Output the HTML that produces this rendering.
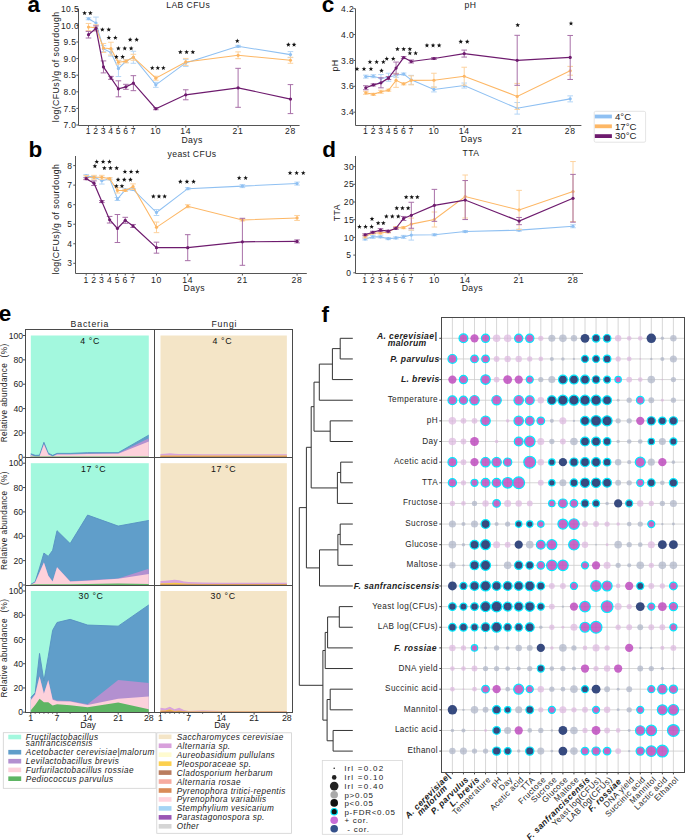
<!DOCTYPE html><html><head><meta charset="utf-8"><style>html,body{margin:0;padding:0;background:#fff;overflow:hidden}svg{display:block}</style></head><body>
<svg width="685" height="840" viewBox="0 0 685 840" font-family='"Liberation Sans", sans-serif'>
<rect width="685" height="840" fill="#fff"/>
<text x="27.50" y="11.60" font-size="22.5" text-anchor="start" font-weight="bold" font-style="normal" fill="#000" >a</text>
<text x="28.60" y="157.10" font-size="22.5" text-anchor="start" font-weight="bold" font-style="normal" fill="#000" >b</text>
<text x="321.80" y="12.20" font-size="22.5" text-anchor="start" font-weight="bold" font-style="normal" fill="#000" >c</text>
<text x="322.20" y="156.90" font-size="22.5" text-anchor="start" font-weight="bold" font-style="normal" fill="#000" >d</text>
<text x="-1.30" y="321.00" font-size="22.5" text-anchor="start" font-weight="bold" font-style="normal" fill="#000" >e</text>
<text x="321.60" y="321.80" font-size="22.5" text-anchor="start" font-weight="bold" font-style="normal" fill="#000" >f</text>
<line x1="78.50" y1="8.80" x2="78.50" y2="125.50" stroke="#555" stroke-width="1" />
<line x1="78.50" y1="125.50" x2="299.60" y2="125.50" stroke="#555" stroke-width="1" />
<line x1="76.30" y1="125.00" x2="78.50" y2="125.00" stroke="#555" stroke-width="1" />
<text x="70.00" y="128.10" font-size="8.5" text-anchor="middle" font-weight="normal" font-style="normal" fill="#222" letter-spacing="0.4">7.0</text>
<line x1="76.30" y1="108.40" x2="78.50" y2="108.40" stroke="#555" stroke-width="1" />
<text x="70.00" y="111.50" font-size="8.5" text-anchor="middle" font-weight="normal" font-style="normal" fill="#222" letter-spacing="0.4">7.5</text>
<line x1="76.30" y1="91.80" x2="78.50" y2="91.80" stroke="#555" stroke-width="1" />
<text x="70.00" y="94.90" font-size="8.5" text-anchor="middle" font-weight="normal" font-style="normal" fill="#222" letter-spacing="0.4">8.0</text>
<line x1="76.30" y1="75.20" x2="78.50" y2="75.20" stroke="#555" stroke-width="1" />
<text x="70.00" y="78.30" font-size="8.5" text-anchor="middle" font-weight="normal" font-style="normal" fill="#222" letter-spacing="0.4">8.5</text>
<line x1="76.30" y1="58.60" x2="78.50" y2="58.60" stroke="#555" stroke-width="1" />
<text x="70.00" y="61.70" font-size="8.5" text-anchor="middle" font-weight="normal" font-style="normal" fill="#222" letter-spacing="0.4">9.0</text>
<line x1="76.30" y1="42.00" x2="78.50" y2="42.00" stroke="#555" stroke-width="1" />
<text x="70.00" y="45.10" font-size="8.5" text-anchor="middle" font-weight="normal" font-style="normal" fill="#222" letter-spacing="0.4">9.5</text>
<line x1="76.30" y1="25.40" x2="78.50" y2="25.40" stroke="#555" stroke-width="1" />
<text x="70.00" y="28.50" font-size="8.5" text-anchor="middle" font-weight="normal" font-style="normal" fill="#222" letter-spacing="0.4">10.0</text>
<line x1="76.30" y1="8.80" x2="78.50" y2="8.80" stroke="#555" stroke-width="1" />
<text x="70.00" y="11.90" font-size="8.5" text-anchor="middle" font-weight="normal" font-style="normal" fill="#222" letter-spacing="0.4">10.5</text>
<line x1="88.50" y1="125.50" x2="88.50" y2="127.50" stroke="#555" stroke-width="1" />
<text x="88.50" y="134.40" font-size="8.6" text-anchor="middle" font-weight="normal" font-style="normal" fill="#222" letter-spacing="0.7">1</text>
<line x1="95.98" y1="125.50" x2="95.98" y2="127.50" stroke="#555" stroke-width="1" />
<text x="95.98" y="134.40" font-size="8.6" text-anchor="middle" font-weight="normal" font-style="normal" fill="#222" letter-spacing="0.7">2</text>
<line x1="103.46" y1="125.50" x2="103.46" y2="127.50" stroke="#555" stroke-width="1" />
<text x="103.46" y="134.40" font-size="8.6" text-anchor="middle" font-weight="normal" font-style="normal" fill="#222" letter-spacing="0.7">3</text>
<line x1="110.94" y1="125.50" x2="110.94" y2="127.50" stroke="#555" stroke-width="1" />
<text x="110.94" y="134.40" font-size="8.6" text-anchor="middle" font-weight="normal" font-style="normal" fill="#222" letter-spacing="0.7">4</text>
<line x1="118.42" y1="125.50" x2="118.42" y2="127.50" stroke="#555" stroke-width="1" />
<text x="118.42" y="134.40" font-size="8.6" text-anchor="middle" font-weight="normal" font-style="normal" fill="#222" letter-spacing="0.7">5</text>
<line x1="125.90" y1="125.50" x2="125.90" y2="127.50" stroke="#555" stroke-width="1" />
<text x="125.90" y="134.40" font-size="8.6" text-anchor="middle" font-weight="normal" font-style="normal" fill="#222" letter-spacing="0.7">6</text>
<line x1="133.38" y1="125.50" x2="133.38" y2="127.50" stroke="#555" stroke-width="1" />
<text x="133.38" y="134.40" font-size="8.6" text-anchor="middle" font-weight="normal" font-style="normal" fill="#222" letter-spacing="0.7">7</text>
<line x1="155.82" y1="125.50" x2="155.82" y2="127.50" stroke="#555" stroke-width="1" />
<text x="155.82" y="134.40" font-size="8.6" text-anchor="middle" font-weight="normal" font-style="normal" fill="#222" letter-spacing="0.7">10</text>
<line x1="185.74" y1="125.50" x2="185.74" y2="127.50" stroke="#555" stroke-width="1" />
<text x="185.74" y="134.40" font-size="8.6" text-anchor="middle" font-weight="normal" font-style="normal" fill="#222" letter-spacing="0.7">14</text>
<line x1="238.10" y1="125.50" x2="238.10" y2="127.50" stroke="#555" stroke-width="1" />
<text x="238.10" y="134.40" font-size="8.6" text-anchor="middle" font-weight="normal" font-style="normal" fill="#222" letter-spacing="0.7">21</text>
<line x1="290.46" y1="125.50" x2="290.46" y2="127.50" stroke="#555" stroke-width="1" />
<text x="290.46" y="134.40" font-size="8.6" text-anchor="middle" font-weight="normal" font-style="normal" fill="#222" letter-spacing="0.7">28</text>
<text x="192.15" y="142.60" font-size="8.7" text-anchor="middle" font-weight="normal" font-style="normal" fill="#222" letter-spacing="0.4">Days</text>
<text x="188.20" y="7.60" font-size="8.6" text-anchor="middle" font-weight="normal" font-style="normal" fill="#222" letter-spacing="0.4">LAB CFUs</text>
<text x="0" y="0" font-size="8.8" letter-spacing="0.4" text-anchor="middle" fill="#222" transform="translate(58.9,66.8) rotate(-90)">log(CFUs)/g of sourdough</text>
<line x1="88.50" y1="17.76" x2="88.50" y2="19.76" stroke="#B5D6F6" stroke-width="1" />
<line x1="85.70" y1="17.76" x2="91.30" y2="17.76" stroke="#B5D6F6" stroke-width="1" />
<line x1="85.70" y1="19.76" x2="91.30" y2="19.76" stroke="#B5D6F6" stroke-width="1" />
<line x1="95.98" y1="17.08" x2="95.98" y2="29.08" stroke="#B5D6F6" stroke-width="1" />
<line x1="93.18" y1="17.08" x2="98.78" y2="17.08" stroke="#B5D6F6" stroke-width="1" />
<line x1="93.18" y1="29.08" x2="98.78" y2="29.08" stroke="#B5D6F6" stroke-width="1" />
<line x1="103.46" y1="45.64" x2="103.46" y2="51.64" stroke="#B5D6F6" stroke-width="1" />
<line x1="100.66" y1="45.64" x2="106.26" y2="45.64" stroke="#B5D6F6" stroke-width="1" />
<line x1="100.66" y1="51.64" x2="106.26" y2="51.64" stroke="#B5D6F6" stroke-width="1" />
<line x1="110.94" y1="49.12" x2="110.94" y2="56.12" stroke="#B5D6F6" stroke-width="1" />
<line x1="108.14" y1="49.12" x2="113.74" y2="49.12" stroke="#B5D6F6" stroke-width="1" />
<line x1="108.14" y1="56.12" x2="113.74" y2="56.12" stroke="#B5D6F6" stroke-width="1" />
<line x1="118.42" y1="60.56" x2="118.42" y2="76.56" stroke="#B5D6F6" stroke-width="1" />
<line x1="115.62" y1="60.56" x2="121.22" y2="60.56" stroke="#B5D6F6" stroke-width="1" />
<line x1="115.62" y1="76.56" x2="121.22" y2="76.56" stroke="#B5D6F6" stroke-width="1" />
<line x1="125.90" y1="59.76" x2="125.90" y2="62.76" stroke="#B5D6F6" stroke-width="1" />
<line x1="123.10" y1="59.76" x2="128.70" y2="59.76" stroke="#B5D6F6" stroke-width="1" />
<line x1="123.10" y1="62.76" x2="128.70" y2="62.76" stroke="#B5D6F6" stroke-width="1" />
<line x1="133.38" y1="51.27" x2="133.38" y2="63.27" stroke="#B5D6F6" stroke-width="1" />
<line x1="130.58" y1="51.27" x2="136.18" y2="51.27" stroke="#B5D6F6" stroke-width="1" />
<line x1="130.58" y1="63.27" x2="136.18" y2="63.27" stroke="#B5D6F6" stroke-width="1" />
<line x1="155.82" y1="82.33" x2="155.82" y2="87.33" stroke="#B5D6F6" stroke-width="1" />
<line x1="153.02" y1="82.33" x2="158.62" y2="82.33" stroke="#B5D6F6" stroke-width="1" />
<line x1="153.02" y1="87.33" x2="158.62" y2="87.33" stroke="#B5D6F6" stroke-width="1" />
<line x1="185.74" y1="59.42" x2="185.74" y2="66.42" stroke="#B5D6F6" stroke-width="1" />
<line x1="182.94" y1="59.42" x2="188.54" y2="59.42" stroke="#B5D6F6" stroke-width="1" />
<line x1="182.94" y1="66.42" x2="188.54" y2="66.42" stroke="#B5D6F6" stroke-width="1" />
<line x1="238.10" y1="45.32" x2="238.10" y2="47.32" stroke="#B5D6F6" stroke-width="1" />
<line x1="235.30" y1="45.32" x2="240.90" y2="45.32" stroke="#B5D6F6" stroke-width="1" />
<line x1="235.30" y1="47.32" x2="240.90" y2="47.32" stroke="#B5D6F6" stroke-width="1" />
<line x1="290.46" y1="51.62" x2="290.46" y2="57.62" stroke="#B5D6F6" stroke-width="1" />
<line x1="287.66" y1="51.62" x2="293.26" y2="51.62" stroke="#B5D6F6" stroke-width="1" />
<line x1="287.66" y1="57.62" x2="293.26" y2="57.62" stroke="#B5D6F6" stroke-width="1" />
<polyline points="88.50,18.76 95.98,23.08 103.46,48.64 110.94,52.62 118.42,68.56 125.90,61.26 133.38,57.27 155.82,84.83 185.74,62.92 238.10,46.32 290.46,54.62" fill="none" stroke="#8FC0F2" stroke-width="1.05"/>
<circle cx="88.50" cy="18.76" r="1.6" fill="#8FC0F2"/>
<circle cx="95.98" cy="23.08" r="1.6" fill="#8FC0F2"/>
<circle cx="103.46" cy="48.64" r="1.6" fill="#8FC0F2"/>
<circle cx="110.94" cy="52.62" r="1.6" fill="#8FC0F2"/>
<circle cx="118.42" cy="68.56" r="1.6" fill="#8FC0F2"/>
<circle cx="125.90" cy="61.26" r="1.6" fill="#8FC0F2"/>
<circle cx="133.38" cy="57.27" r="1.6" fill="#8FC0F2"/>
<circle cx="155.82" cy="84.83" r="1.6" fill="#8FC0F2"/>
<circle cx="185.74" cy="62.92" r="1.6" fill="#8FC0F2"/>
<circle cx="238.10" cy="46.32" r="1.6" fill="#8FC0F2"/>
<circle cx="290.46" cy="54.62" r="1.6" fill="#8FC0F2"/>
<line x1="88.50" y1="23.46" x2="88.50" y2="30.66" stroke="#FDD29E" stroke-width="1" />
<line x1="85.70" y1="23.46" x2="91.30" y2="23.46" stroke="#FDD29E" stroke-width="1" />
<line x1="85.70" y1="30.66" x2="91.30" y2="30.66" stroke="#FDD29E" stroke-width="1" />
<line x1="95.98" y1="24.72" x2="95.98" y2="30.72" stroke="#FDD29E" stroke-width="1" />
<line x1="93.18" y1="24.72" x2="98.78" y2="24.72" stroke="#FDD29E" stroke-width="1" />
<line x1="93.18" y1="30.72" x2="98.78" y2="30.72" stroke="#FDD29E" stroke-width="1" />
<line x1="103.46" y1="43.48" x2="103.46" y2="52.48" stroke="#FDD29E" stroke-width="1" />
<line x1="100.66" y1="43.48" x2="106.26" y2="43.48" stroke="#FDD29E" stroke-width="1" />
<line x1="100.66" y1="52.48" x2="106.26" y2="52.48" stroke="#FDD29E" stroke-width="1" />
<line x1="110.94" y1="42.24" x2="110.94" y2="55.04" stroke="#FDD29E" stroke-width="1" />
<line x1="108.14" y1="42.24" x2="113.74" y2="42.24" stroke="#FDD29E" stroke-width="1" />
<line x1="108.14" y1="55.04" x2="113.74" y2="55.04" stroke="#FDD29E" stroke-width="1" />
<line x1="118.42" y1="60.25" x2="118.42" y2="64.25" stroke="#FDD29E" stroke-width="1" />
<line x1="115.62" y1="60.25" x2="121.22" y2="60.25" stroke="#FDD29E" stroke-width="1" />
<line x1="115.62" y1="64.25" x2="121.22" y2="64.25" stroke="#FDD29E" stroke-width="1" />
<line x1="125.90" y1="59.76" x2="125.90" y2="62.76" stroke="#FDD29E" stroke-width="1" />
<line x1="123.10" y1="59.76" x2="128.70" y2="59.76" stroke="#FDD29E" stroke-width="1" />
<line x1="123.10" y1="62.76" x2="128.70" y2="62.76" stroke="#FDD29E" stroke-width="1" />
<line x1="133.38" y1="54.27" x2="133.38" y2="60.27" stroke="#FDD29E" stroke-width="1" />
<line x1="130.58" y1="54.27" x2="136.18" y2="54.27" stroke="#FDD29E" stroke-width="1" />
<line x1="130.58" y1="60.27" x2="136.18" y2="60.27" stroke="#FDD29E" stroke-width="1" />
<line x1="155.82" y1="76.19" x2="155.82" y2="80.19" stroke="#FDD29E" stroke-width="1" />
<line x1="153.02" y1="76.19" x2="158.62" y2="76.19" stroke="#FDD29E" stroke-width="1" />
<line x1="153.02" y1="80.19" x2="158.62" y2="80.19" stroke="#FDD29E" stroke-width="1" />
<line x1="185.74" y1="58.42" x2="185.74" y2="65.42" stroke="#FDD29E" stroke-width="1" />
<line x1="182.94" y1="58.42" x2="188.54" y2="58.42" stroke="#FDD29E" stroke-width="1" />
<line x1="182.94" y1="65.42" x2="188.54" y2="65.42" stroke="#FDD29E" stroke-width="1" />
<line x1="238.10" y1="51.88" x2="238.10" y2="58.68" stroke="#FDD29E" stroke-width="1" />
<line x1="235.30" y1="51.88" x2="240.90" y2="51.88" stroke="#FDD29E" stroke-width="1" />
<line x1="235.30" y1="58.68" x2="240.90" y2="58.68" stroke="#FDD29E" stroke-width="1" />
<line x1="290.46" y1="57.26" x2="290.46" y2="63.26" stroke="#FDD29E" stroke-width="1" />
<line x1="287.66" y1="57.26" x2="293.26" y2="57.26" stroke="#FDD29E" stroke-width="1" />
<line x1="287.66" y1="63.26" x2="293.26" y2="63.26" stroke="#FDD29E" stroke-width="1" />
<polyline points="88.50,27.06 95.98,27.72 103.46,47.98 110.94,48.64 118.42,62.25 125.90,61.26 133.38,57.27 155.82,78.19 185.74,61.92 238.10,55.28 290.46,60.26" fill="none" stroke="#FDB765" stroke-width="1.05"/>
<circle cx="88.50" cy="27.06" r="1.6" fill="#FDB765"/>
<circle cx="95.98" cy="27.72" r="1.6" fill="#FDB765"/>
<circle cx="103.46" cy="47.98" r="1.6" fill="#FDB765"/>
<circle cx="110.94" cy="48.64" r="1.6" fill="#FDB765"/>
<circle cx="118.42" cy="62.25" r="1.6" fill="#FDB765"/>
<circle cx="125.90" cy="61.26" r="1.6" fill="#FDB765"/>
<circle cx="133.38" cy="57.27" r="1.6" fill="#FDB765"/>
<circle cx="155.82" cy="78.19" r="1.6" fill="#FDB765"/>
<circle cx="185.74" cy="61.92" r="1.6" fill="#FDB765"/>
<circle cx="238.10" cy="55.28" r="1.6" fill="#FDB765"/>
<circle cx="290.46" cy="60.26" r="1.6" fill="#FDB765"/>
<line x1="88.50" y1="31.40" x2="88.50" y2="38.00" stroke="#A870A8" stroke-width="1" />
<line x1="85.70" y1="31.40" x2="91.30" y2="31.40" stroke="#A870A8" stroke-width="1" />
<line x1="85.70" y1="38.00" x2="91.30" y2="38.00" stroke="#A870A8" stroke-width="1" />
<line x1="95.98" y1="25.89" x2="95.98" y2="30.89" stroke="#A870A8" stroke-width="1" />
<line x1="93.18" y1="25.89" x2="98.78" y2="25.89" stroke="#A870A8" stroke-width="1" />
<line x1="93.18" y1="30.89" x2="98.78" y2="30.89" stroke="#A870A8" stroke-width="1" />
<line x1="103.46" y1="60.90" x2="103.46" y2="72.90" stroke="#A870A8" stroke-width="1" />
<line x1="100.66" y1="60.90" x2="106.26" y2="60.90" stroke="#A870A8" stroke-width="1" />
<line x1="100.66" y1="72.90" x2="106.26" y2="72.90" stroke="#A870A8" stroke-width="1" />
<line x1="110.94" y1="76.36" x2="110.94" y2="79.36" stroke="#A870A8" stroke-width="1" />
<line x1="108.14" y1="76.36" x2="113.74" y2="76.36" stroke="#A870A8" stroke-width="1" />
<line x1="108.14" y1="79.36" x2="113.74" y2="79.36" stroke="#A870A8" stroke-width="1" />
<line x1="118.42" y1="80.81" x2="118.42" y2="96.81" stroke="#A870A8" stroke-width="1" />
<line x1="115.62" y1="80.81" x2="121.22" y2="80.81" stroke="#A870A8" stroke-width="1" />
<line x1="115.62" y1="96.81" x2="121.22" y2="96.81" stroke="#A870A8" stroke-width="1" />
<line x1="125.90" y1="84.32" x2="125.90" y2="89.32" stroke="#A870A8" stroke-width="1" />
<line x1="123.10" y1="84.32" x2="128.70" y2="84.32" stroke="#A870A8" stroke-width="1" />
<line x1="123.10" y1="89.32" x2="128.70" y2="89.32" stroke="#A870A8" stroke-width="1" />
<line x1="133.38" y1="75.67" x2="133.38" y2="90.67" stroke="#A870A8" stroke-width="1" />
<line x1="130.58" y1="75.67" x2="136.18" y2="75.67" stroke="#A870A8" stroke-width="1" />
<line x1="130.58" y1="90.67" x2="136.18" y2="90.67" stroke="#A870A8" stroke-width="1" />
<line x1="155.82" y1="107.73" x2="155.82" y2="109.73" stroke="#A870A8" stroke-width="1" />
<line x1="153.02" y1="107.73" x2="158.62" y2="107.73" stroke="#A870A8" stroke-width="1" />
<line x1="153.02" y1="109.73" x2="158.62" y2="109.73" stroke="#A870A8" stroke-width="1" />
<line x1="185.74" y1="89.79" x2="185.74" y2="99.79" stroke="#A870A8" stroke-width="1" />
<line x1="182.94" y1="89.79" x2="188.54" y2="89.79" stroke="#A870A8" stroke-width="1" />
<line x1="182.94" y1="99.79" x2="188.54" y2="99.79" stroke="#A870A8" stroke-width="1" />
<line x1="238.10" y1="68.32" x2="238.10" y2="107.32" stroke="#A870A8" stroke-width="1" />
<line x1="235.30" y1="68.32" x2="240.90" y2="68.32" stroke="#A870A8" stroke-width="1" />
<line x1="235.30" y1="107.32" x2="240.90" y2="107.32" stroke="#A870A8" stroke-width="1" />
<line x1="290.46" y1="84.60" x2="290.46" y2="113.60" stroke="#A870A8" stroke-width="1" />
<line x1="287.66" y1="84.60" x2="293.26" y2="84.60" stroke="#A870A8" stroke-width="1" />
<line x1="287.66" y1="113.60" x2="293.26" y2="113.60" stroke="#A870A8" stroke-width="1" />
<polyline points="88.50,34.70 95.98,28.39 103.46,66.90 110.94,77.86 118.42,88.81 125.90,86.82 133.38,83.17 155.82,108.73 185.74,94.79 238.10,87.82 290.46,99.10" fill="none" stroke="#6E1B6E" stroke-width="1.2"/>
<circle cx="88.50" cy="34.70" r="1.6" fill="#6E1B6E"/>
<circle cx="95.98" cy="28.39" r="1.6" fill="#6E1B6E"/>
<circle cx="103.46" cy="66.90" r="1.6" fill="#6E1B6E"/>
<circle cx="110.94" cy="77.86" r="1.6" fill="#6E1B6E"/>
<circle cx="118.42" cy="88.81" r="1.6" fill="#6E1B6E"/>
<circle cx="125.90" cy="86.82" r="1.6" fill="#6E1B6E"/>
<circle cx="133.38" cy="83.17" r="1.6" fill="#6E1B6E"/>
<circle cx="155.82" cy="108.73" r="1.6" fill="#6E1B6E"/>
<circle cx="185.74" cy="94.79" r="1.6" fill="#6E1B6E"/>
<circle cx="238.10" cy="87.82" r="1.6" fill="#6E1B6E"/>
<circle cx="290.46" cy="99.10" r="1.6" fill="#6E1B6E"/>
<polygon points="84.55,10.65 85.15,12.27 86.88,12.34 85.53,13.42 85.99,15.08 84.55,14.13 83.11,15.08 83.57,13.42 82.22,12.34 83.95,12.27" fill="#111"/>
<polygon points="90.35,10.65 90.95,12.27 92.68,12.34 91.33,13.42 91.79,15.08 90.35,14.13 88.91,15.08 89.37,13.42 88.02,12.34 89.75,12.27" fill="#111"/>
<polygon points="102.35,27.15 102.95,28.77 104.68,28.84 103.33,29.92 103.79,31.58 102.35,30.63 100.91,31.58 101.37,29.92 100.02,28.84 101.75,28.77" fill="#111"/>
<polygon points="108.75,27.15 109.35,28.77 111.08,28.84 109.73,29.92 110.19,31.58 108.75,30.63 107.31,31.58 107.77,29.92 106.42,28.84 108.15,28.77" fill="#111"/>
<polygon points="108.85,35.35 109.45,36.97 111.18,37.04 109.83,38.12 110.29,39.78 108.85,38.83 107.41,39.78 107.87,38.12 106.52,37.04 108.25,36.97" fill="#111"/>
<polygon points="115.35,35.35 115.95,36.97 117.68,37.04 116.33,38.12 116.79,39.78 115.35,38.83 113.91,39.78 114.37,38.12 113.02,37.04 114.75,36.97" fill="#111"/>
<polygon points="118.35,45.95 118.95,47.57 120.68,47.64 119.33,48.72 119.79,50.38 118.35,49.43 116.91,50.38 117.37,48.72 116.02,47.64 117.75,47.57" fill="#111"/>
<polygon points="124.75,45.95 125.35,47.57 127.08,47.64 125.73,48.72 126.19,50.38 124.75,49.43 123.31,50.38 123.77,48.72 122.42,47.64 124.15,47.57" fill="#111"/>
<polygon points="131.15,45.95 131.75,47.57 133.48,47.64 132.13,48.72 132.59,50.38 131.15,49.43 129.71,50.38 130.17,48.72 128.82,47.64 130.55,47.57" fill="#111"/>
<polygon points="116.35,54.45 116.95,56.07 118.68,56.14 117.33,57.22 117.79,58.88 116.35,57.93 114.91,58.88 115.37,57.22 114.02,56.14 115.75,56.07" fill="#111"/>
<polygon points="122.65,54.45 123.25,56.07 124.98,56.14 123.63,57.22 124.09,58.88 122.65,57.93 121.21,58.88 121.67,57.22 120.32,56.14 122.05,56.07" fill="#111"/>
<polygon points="130.15,37.25 130.75,38.87 132.48,38.94 131.13,40.02 131.59,41.68 130.15,40.73 128.71,41.68 129.17,40.02 127.82,38.94 129.55,38.87" fill="#111"/>
<polygon points="136.65,37.25 137.25,38.87 138.98,38.94 137.63,40.02 138.09,41.68 136.65,40.73 135.21,41.68 135.67,40.02 134.32,38.94 136.05,38.87" fill="#111"/>
<polygon points="152.25,65.55 152.85,67.17 154.58,67.24 153.23,68.32 153.69,69.98 152.25,69.03 150.81,69.98 151.27,68.32 149.92,67.24 151.65,67.17" fill="#111"/>
<polygon points="157.80,65.55 158.40,67.17 160.13,67.24 158.78,68.32 159.24,69.98 157.80,69.03 156.36,69.98 156.82,68.32 155.47,67.24 157.20,67.17" fill="#111"/>
<polygon points="163.35,65.55 163.95,67.17 165.68,67.24 164.33,68.32 164.79,69.98 163.35,69.03 161.91,69.98 162.37,68.32 161.02,67.24 162.75,67.17" fill="#111"/>
<polygon points="180.35,49.65 180.95,51.27 182.68,51.34 181.33,52.42 181.79,54.08 180.35,53.13 178.91,54.08 179.37,52.42 178.02,51.34 179.75,51.27" fill="#111"/>
<polygon points="186.60,49.65 187.20,51.27 188.93,51.34 187.58,52.42 188.04,54.08 186.60,53.13 185.16,54.08 185.62,52.42 184.27,51.34 186.00,51.27" fill="#111"/>
<polygon points="192.85,49.65 193.45,51.27 195.18,51.34 193.83,52.42 194.29,54.08 192.85,53.13 191.41,54.08 191.87,52.42 190.52,51.34 192.25,51.27" fill="#111"/>
<polygon points="237.30,38.55 237.90,40.17 239.63,40.24 238.28,41.32 238.74,42.98 237.30,42.03 235.86,42.98 236.32,41.32 234.97,40.24 236.70,40.17" fill="#111"/>
<polygon points="288.35,42.25 288.95,43.87 290.68,43.94 289.33,45.02 289.79,46.68 288.35,45.73 286.91,46.68 287.37,45.02 286.02,43.94 287.75,43.87" fill="#111"/>
<polygon points="294.05,42.25 294.65,43.87 296.38,43.94 295.03,45.02 295.49,46.68 294.05,45.73 292.61,46.68 293.07,45.02 291.72,43.94 293.45,43.87" fill="#111"/>
<line x1="75.50" y1="156.00" x2="75.50" y2="273.50" stroke="#555" stroke-width="1" />
<line x1="75.50" y1="273.50" x2="306.80" y2="273.50" stroke="#555" stroke-width="1" />
<line x1="73.30" y1="263.30" x2="75.50" y2="263.30" stroke="#555" stroke-width="1" />
<text x="69.80" y="266.40" font-size="8.5" text-anchor="middle" font-weight="normal" font-style="normal" fill="#222" letter-spacing="0.4">3</text>
<line x1="73.30" y1="243.76" x2="75.50" y2="243.76" stroke="#555" stroke-width="1" />
<text x="69.80" y="246.86" font-size="8.5" text-anchor="middle" font-weight="normal" font-style="normal" fill="#222" letter-spacing="0.4">4</text>
<line x1="73.30" y1="224.22" x2="75.50" y2="224.22" stroke="#555" stroke-width="1" />
<text x="69.80" y="227.32" font-size="8.5" text-anchor="middle" font-weight="normal" font-style="normal" fill="#222" letter-spacing="0.4">5</text>
<line x1="73.30" y1="204.68" x2="75.50" y2="204.68" stroke="#555" stroke-width="1" />
<text x="69.80" y="207.78" font-size="8.5" text-anchor="middle" font-weight="normal" font-style="normal" fill="#222" letter-spacing="0.4">6</text>
<line x1="73.30" y1="185.14" x2="75.50" y2="185.14" stroke="#555" stroke-width="1" />
<text x="69.80" y="188.24" font-size="8.5" text-anchor="middle" font-weight="normal" font-style="normal" fill="#222" letter-spacing="0.4">7</text>
<line x1="73.30" y1="165.60" x2="75.50" y2="165.60" stroke="#555" stroke-width="1" />
<text x="69.80" y="168.70" font-size="8.5" text-anchor="middle" font-weight="normal" font-style="normal" fill="#222" letter-spacing="0.4">8</text>
<line x1="86.20" y1="273.50" x2="86.20" y2="275.50" stroke="#555" stroke-width="1" />
<text x="86.20" y="282.70" font-size="8.6" text-anchor="middle" font-weight="normal" font-style="normal" fill="#222" letter-spacing="0.7">1</text>
<line x1="94.01" y1="273.50" x2="94.01" y2="275.50" stroke="#555" stroke-width="1" />
<text x="94.01" y="282.70" font-size="8.6" text-anchor="middle" font-weight="normal" font-style="normal" fill="#222" letter-spacing="0.7">2</text>
<line x1="101.82" y1="273.50" x2="101.82" y2="275.50" stroke="#555" stroke-width="1" />
<text x="101.82" y="282.70" font-size="8.6" text-anchor="middle" font-weight="normal" font-style="normal" fill="#222" letter-spacing="0.7">3</text>
<line x1="109.63" y1="273.50" x2="109.63" y2="275.50" stroke="#555" stroke-width="1" />
<text x="109.63" y="282.70" font-size="8.6" text-anchor="middle" font-weight="normal" font-style="normal" fill="#222" letter-spacing="0.7">4</text>
<line x1="117.44" y1="273.50" x2="117.44" y2="275.50" stroke="#555" stroke-width="1" />
<text x="117.44" y="282.70" font-size="8.6" text-anchor="middle" font-weight="normal" font-style="normal" fill="#222" letter-spacing="0.7">5</text>
<line x1="125.25" y1="273.50" x2="125.25" y2="275.50" stroke="#555" stroke-width="1" />
<text x="125.25" y="282.70" font-size="8.6" text-anchor="middle" font-weight="normal" font-style="normal" fill="#222" letter-spacing="0.7">6</text>
<line x1="133.06" y1="273.50" x2="133.06" y2="275.50" stroke="#555" stroke-width="1" />
<text x="133.06" y="282.70" font-size="8.6" text-anchor="middle" font-weight="normal" font-style="normal" fill="#222" letter-spacing="0.7">7</text>
<line x1="156.49" y1="273.50" x2="156.49" y2="275.50" stroke="#555" stroke-width="1" />
<text x="156.49" y="282.70" font-size="8.6" text-anchor="middle" font-weight="normal" font-style="normal" fill="#222" letter-spacing="0.7">10</text>
<line x1="187.73" y1="273.50" x2="187.73" y2="275.50" stroke="#555" stroke-width="1" />
<text x="187.73" y="282.70" font-size="8.6" text-anchor="middle" font-weight="normal" font-style="normal" fill="#222" letter-spacing="0.7">14</text>
<line x1="242.40" y1="273.50" x2="242.40" y2="275.50" stroke="#555" stroke-width="1" />
<text x="242.40" y="282.70" font-size="8.6" text-anchor="middle" font-weight="normal" font-style="normal" fill="#222" letter-spacing="0.7">21</text>
<line x1="297.07" y1="273.50" x2="297.07" y2="275.50" stroke="#555" stroke-width="1" />
<text x="297.07" y="282.70" font-size="8.6" text-anchor="middle" font-weight="normal" font-style="normal" fill="#222" letter-spacing="0.7">28</text>
<text x="194.25" y="291.20" font-size="8.7" text-anchor="middle" font-weight="normal" font-style="normal" fill="#222" letter-spacing="0.4">Days</text>
<text x="192.00" y="156.80" font-size="8.6" text-anchor="middle" font-weight="normal" font-style="normal" fill="#222" letter-spacing="0.4">yeast CFUs</text>
<text x="0" y="0" font-size="8.8" letter-spacing="0.4" text-anchor="middle" fill="#222" transform="translate(58.9,219) rotate(-90)">log(CFUs)/g of sourdough</text>
<line x1="86.20" y1="174.66" x2="86.20" y2="177.26" stroke="#B5D6F6" stroke-width="1" />
<line x1="83.40" y1="174.66" x2="89.00" y2="174.66" stroke="#B5D6F6" stroke-width="1" />
<line x1="83.40" y1="177.26" x2="89.00" y2="177.26" stroke="#B5D6F6" stroke-width="1" />
<line x1="94.01" y1="176.13" x2="94.01" y2="178.13" stroke="#B5D6F6" stroke-width="1" />
<line x1="91.21" y1="176.13" x2="96.81" y2="176.13" stroke="#B5D6F6" stroke-width="1" />
<line x1="91.21" y1="178.13" x2="96.81" y2="178.13" stroke="#B5D6F6" stroke-width="1" />
<line x1="101.82" y1="177.25" x2="101.82" y2="184.05" stroke="#B5D6F6" stroke-width="1" />
<line x1="99.02" y1="177.25" x2="104.62" y2="177.25" stroke="#B5D6F6" stroke-width="1" />
<line x1="99.02" y1="184.05" x2="104.62" y2="184.05" stroke="#B5D6F6" stroke-width="1" />
<line x1="109.63" y1="177.89" x2="109.63" y2="179.89" stroke="#B5D6F6" stroke-width="1" />
<line x1="106.83" y1="177.89" x2="112.43" y2="177.89" stroke="#B5D6F6" stroke-width="1" />
<line x1="106.83" y1="179.89" x2="112.43" y2="179.89" stroke="#B5D6F6" stroke-width="1" />
<line x1="117.44" y1="197.51" x2="117.44" y2="200.51" stroke="#B5D6F6" stroke-width="1" />
<line x1="114.64" y1="197.51" x2="120.24" y2="197.51" stroke="#B5D6F6" stroke-width="1" />
<line x1="114.64" y1="200.51" x2="120.24" y2="200.51" stroke="#B5D6F6" stroke-width="1" />
<line x1="125.25" y1="188.83" x2="125.25" y2="190.83" stroke="#B5D6F6" stroke-width="1" />
<line x1="122.45" y1="188.83" x2="128.05" y2="188.83" stroke="#B5D6F6" stroke-width="1" />
<line x1="122.45" y1="190.83" x2="128.05" y2="190.83" stroke="#B5D6F6" stroke-width="1" />
<line x1="133.06" y1="188.44" x2="133.06" y2="190.44" stroke="#B5D6F6" stroke-width="1" />
<line x1="130.26" y1="188.44" x2="135.86" y2="188.44" stroke="#B5D6F6" stroke-width="1" />
<line x1="130.26" y1="190.44" x2="135.86" y2="190.44" stroke="#B5D6F6" stroke-width="1" />
<line x1="156.49" y1="209.50" x2="156.49" y2="215.50" stroke="#B5D6F6" stroke-width="1" />
<line x1="153.69" y1="209.50" x2="159.29" y2="209.50" stroke="#B5D6F6" stroke-width="1" />
<line x1="153.69" y1="215.50" x2="159.29" y2="215.50" stroke="#B5D6F6" stroke-width="1" />
<line x1="187.73" y1="187.66" x2="187.73" y2="189.66" stroke="#B5D6F6" stroke-width="1" />
<line x1="184.93" y1="187.66" x2="190.53" y2="187.66" stroke="#B5D6F6" stroke-width="1" />
<line x1="184.93" y1="189.66" x2="190.53" y2="189.66" stroke="#B5D6F6" stroke-width="1" />
<line x1="242.40" y1="184.62" x2="242.40" y2="187.62" stroke="#B5D6F6" stroke-width="1" />
<line x1="239.60" y1="184.62" x2="245.20" y2="184.62" stroke="#B5D6F6" stroke-width="1" />
<line x1="239.60" y1="187.62" x2="245.20" y2="187.62" stroke="#B5D6F6" stroke-width="1" />
<line x1="297.07" y1="182.08" x2="297.07" y2="185.08" stroke="#B5D6F6" stroke-width="1" />
<line x1="294.27" y1="182.08" x2="299.87" y2="182.08" stroke="#B5D6F6" stroke-width="1" />
<line x1="294.27" y1="185.08" x2="299.87" y2="185.08" stroke="#B5D6F6" stroke-width="1" />
<polyline points="86.20,175.96 94.01,177.13 101.82,180.65 109.63,178.89 117.44,199.01 125.25,189.83 133.06,189.44 156.49,212.50 187.73,188.66 242.40,186.12 297.07,183.58" fill="none" stroke="#8FC0F2" stroke-width="1.05"/>
<circle cx="86.20" cy="175.96" r="1.6" fill="#8FC0F2"/>
<circle cx="94.01" cy="177.13" r="1.6" fill="#8FC0F2"/>
<circle cx="101.82" cy="180.65" r="1.6" fill="#8FC0F2"/>
<circle cx="109.63" cy="178.89" r="1.6" fill="#8FC0F2"/>
<circle cx="117.44" cy="199.01" r="1.6" fill="#8FC0F2"/>
<circle cx="125.25" cy="189.83" r="1.6" fill="#8FC0F2"/>
<circle cx="133.06" cy="189.44" r="1.6" fill="#8FC0F2"/>
<circle cx="156.49" cy="212.50" r="1.6" fill="#8FC0F2"/>
<circle cx="187.73" cy="188.66" r="1.6" fill="#8FC0F2"/>
<circle cx="242.40" cy="186.12" r="1.6" fill="#8FC0F2"/>
<circle cx="297.07" cy="183.58" r="1.6" fill="#8FC0F2"/>
<line x1="86.20" y1="175.52" x2="86.20" y2="179.52" stroke="#FDD29E" stroke-width="1" />
<line x1="83.40" y1="175.52" x2="89.00" y2="175.52" stroke="#FDD29E" stroke-width="1" />
<line x1="83.40" y1="179.52" x2="89.00" y2="179.52" stroke="#FDD29E" stroke-width="1" />
<line x1="94.01" y1="175.32" x2="94.01" y2="179.32" stroke="#FDD29E" stroke-width="1" />
<line x1="91.21" y1="175.32" x2="96.81" y2="175.32" stroke="#FDD29E" stroke-width="1" />
<line x1="91.21" y1="179.32" x2="96.81" y2="179.32" stroke="#FDD29E" stroke-width="1" />
<line x1="101.82" y1="175.32" x2="101.82" y2="179.32" stroke="#FDD29E" stroke-width="1" />
<line x1="99.02" y1="175.32" x2="104.62" y2="175.32" stroke="#FDD29E" stroke-width="1" />
<line x1="99.02" y1="179.32" x2="104.62" y2="179.32" stroke="#FDD29E" stroke-width="1" />
<line x1="109.63" y1="177.69" x2="109.63" y2="179.69" stroke="#FDD29E" stroke-width="1" />
<line x1="106.83" y1="177.69" x2="112.43" y2="177.69" stroke="#FDD29E" stroke-width="1" />
<line x1="106.83" y1="179.69" x2="112.43" y2="179.69" stroke="#FDD29E" stroke-width="1" />
<line x1="117.44" y1="187.82" x2="117.44" y2="193.02" stroke="#FDD29E" stroke-width="1" />
<line x1="114.64" y1="187.82" x2="120.24" y2="187.82" stroke="#FDD29E" stroke-width="1" />
<line x1="114.64" y1="193.02" x2="120.24" y2="193.02" stroke="#FDD29E" stroke-width="1" />
<line x1="125.25" y1="189.42" x2="125.25" y2="191.42" stroke="#FDD29E" stroke-width="1" />
<line x1="122.45" y1="189.42" x2="128.05" y2="189.42" stroke="#FDD29E" stroke-width="1" />
<line x1="122.45" y1="191.42" x2="128.05" y2="191.42" stroke="#FDD29E" stroke-width="1" />
<line x1="133.06" y1="183.90" x2="133.06" y2="189.50" stroke="#FDD29E" stroke-width="1" />
<line x1="130.26" y1="183.90" x2="135.86" y2="183.90" stroke="#FDD29E" stroke-width="1" />
<line x1="130.26" y1="189.50" x2="135.86" y2="189.50" stroke="#FDD29E" stroke-width="1" />
<line x1="156.49" y1="222.05" x2="156.49" y2="232.65" stroke="#FDD29E" stroke-width="1" />
<line x1="153.69" y1="222.05" x2="159.29" y2="222.05" stroke="#FDD29E" stroke-width="1" />
<line x1="153.69" y1="232.65" x2="159.29" y2="232.65" stroke="#FDD29E" stroke-width="1" />
<line x1="187.73" y1="204.74" x2="187.73" y2="207.74" stroke="#FDD29E" stroke-width="1" />
<line x1="184.93" y1="204.74" x2="190.53" y2="204.74" stroke="#FDD29E" stroke-width="1" />
<line x1="184.93" y1="207.74" x2="190.53" y2="207.74" stroke="#FDD29E" stroke-width="1" />
<line x1="242.40" y1="218.92" x2="242.40" y2="220.92" stroke="#FDD29E" stroke-width="1" />
<line x1="239.60" y1="218.92" x2="245.20" y2="218.92" stroke="#FDD29E" stroke-width="1" />
<line x1="239.60" y1="220.92" x2="245.20" y2="220.92" stroke="#FDD29E" stroke-width="1" />
<line x1="297.07" y1="215.47" x2="297.07" y2="220.47" stroke="#FDD29E" stroke-width="1" />
<line x1="294.27" y1="215.47" x2="299.87" y2="215.47" stroke="#FDD29E" stroke-width="1" />
<line x1="294.27" y1="220.47" x2="299.87" y2="220.47" stroke="#FDD29E" stroke-width="1" />
<polyline points="86.20,177.52 94.01,177.32 101.82,177.32 109.63,178.69 117.44,190.42 125.25,190.42 133.06,186.70 156.49,227.35 187.73,206.24 242.40,219.92 297.07,217.97" fill="none" stroke="#FDB765" stroke-width="1.05"/>
<circle cx="86.20" cy="177.52" r="1.6" fill="#FDB765"/>
<circle cx="94.01" cy="177.32" r="1.6" fill="#FDB765"/>
<circle cx="101.82" cy="177.32" r="1.6" fill="#FDB765"/>
<circle cx="109.63" cy="178.69" r="1.6" fill="#FDB765"/>
<circle cx="117.44" cy="190.42" r="1.6" fill="#FDB765"/>
<circle cx="125.25" cy="190.42" r="1.6" fill="#FDB765"/>
<circle cx="133.06" cy="186.70" r="1.6" fill="#FDB765"/>
<circle cx="156.49" cy="227.35" r="1.6" fill="#FDB765"/>
<circle cx="187.73" cy="206.24" r="1.6" fill="#FDB765"/>
<circle cx="242.40" cy="219.92" r="1.6" fill="#FDB765"/>
<circle cx="297.07" cy="217.97" r="1.6" fill="#FDB765"/>
<line x1="86.20" y1="177.69" x2="86.20" y2="179.69" stroke="#A870A8" stroke-width="1" />
<line x1="83.40" y1="177.69" x2="89.00" y2="177.69" stroke="#A870A8" stroke-width="1" />
<line x1="83.40" y1="179.69" x2="89.00" y2="179.69" stroke="#A870A8" stroke-width="1" />
<line x1="94.01" y1="180.89" x2="94.01" y2="185.49" stroke="#A870A8" stroke-width="1" />
<line x1="91.21" y1="180.89" x2="96.81" y2="180.89" stroke="#A870A8" stroke-width="1" />
<line x1="91.21" y1="185.49" x2="96.81" y2="185.49" stroke="#A870A8" stroke-width="1" />
<line x1="101.82" y1="200.55" x2="101.82" y2="202.55" stroke="#A870A8" stroke-width="1" />
<line x1="99.02" y1="200.55" x2="104.62" y2="200.55" stroke="#A870A8" stroke-width="1" />
<line x1="99.02" y1="202.55" x2="104.62" y2="202.55" stroke="#A870A8" stroke-width="1" />
<line x1="109.63" y1="216.43" x2="109.63" y2="223.03" stroke="#A870A8" stroke-width="1" />
<line x1="106.83" y1="216.43" x2="112.43" y2="216.43" stroke="#A870A8" stroke-width="1" />
<line x1="106.83" y1="223.03" x2="112.43" y2="223.03" stroke="#A870A8" stroke-width="1" />
<line x1="117.44" y1="214.52" x2="117.44" y2="242.52" stroke="#A870A8" stroke-width="1" />
<line x1="114.64" y1="214.52" x2="120.24" y2="214.52" stroke="#A870A8" stroke-width="1" />
<line x1="114.64" y1="242.52" x2="120.24" y2="242.52" stroke="#A870A8" stroke-width="1" />
<line x1="125.25" y1="217.31" x2="125.25" y2="223.31" stroke="#A870A8" stroke-width="1" />
<line x1="122.45" y1="217.31" x2="128.05" y2="217.31" stroke="#A870A8" stroke-width="1" />
<line x1="122.45" y1="223.31" x2="128.05" y2="223.31" stroke="#A870A8" stroke-width="1" />
<line x1="133.06" y1="224.48" x2="133.06" y2="227.48" stroke="#A870A8" stroke-width="1" />
<line x1="130.26" y1="224.48" x2="135.86" y2="224.48" stroke="#A870A8" stroke-width="1" />
<line x1="130.26" y1="227.48" x2="135.86" y2="227.48" stroke="#A870A8" stroke-width="1" />
<line x1="156.49" y1="242.17" x2="156.49" y2="253.17" stroke="#A870A8" stroke-width="1" />
<line x1="153.69" y1="242.17" x2="159.29" y2="242.17" stroke="#A870A8" stroke-width="1" />
<line x1="153.69" y1="253.17" x2="159.29" y2="253.17" stroke="#A870A8" stroke-width="1" />
<line x1="187.73" y1="234.67" x2="187.73" y2="260.67" stroke="#A870A8" stroke-width="1" />
<line x1="184.93" y1="234.67" x2="190.53" y2="234.67" stroke="#A870A8" stroke-width="1" />
<line x1="184.93" y1="260.67" x2="190.53" y2="260.67" stroke="#A870A8" stroke-width="1" />
<line x1="242.40" y1="218.31" x2="242.40" y2="265.31" stroke="#A870A8" stroke-width="1" />
<line x1="239.60" y1="218.31" x2="245.20" y2="218.31" stroke="#A870A8" stroke-width="1" />
<line x1="239.60" y1="265.31" x2="245.20" y2="265.31" stroke="#A870A8" stroke-width="1" />
<line x1="297.07" y1="239.92" x2="297.07" y2="242.92" stroke="#A870A8" stroke-width="1" />
<line x1="294.27" y1="239.92" x2="299.87" y2="239.92" stroke="#A870A8" stroke-width="1" />
<line x1="294.27" y1="242.92" x2="299.87" y2="242.92" stroke="#A870A8" stroke-width="1" />
<polyline points="86.20,178.69 94.01,183.19 101.82,201.55 109.63,219.73 117.44,228.52 125.25,220.31 133.06,225.98 156.49,247.67 187.73,247.67 242.40,241.81 297.07,241.42" fill="none" stroke="#6E1B6E" stroke-width="1.2"/>
<circle cx="86.20" cy="178.69" r="1.6" fill="#6E1B6E"/>
<circle cx="94.01" cy="183.19" r="1.6" fill="#6E1B6E"/>
<circle cx="101.82" cy="201.55" r="1.6" fill="#6E1B6E"/>
<circle cx="109.63" cy="219.73" r="1.6" fill="#6E1B6E"/>
<circle cx="117.44" cy="228.52" r="1.6" fill="#6E1B6E"/>
<circle cx="125.25" cy="220.31" r="1.6" fill="#6E1B6E"/>
<circle cx="133.06" cy="225.98" r="1.6" fill="#6E1B6E"/>
<circle cx="156.49" cy="247.67" r="1.6" fill="#6E1B6E"/>
<circle cx="187.73" cy="247.67" r="1.6" fill="#6E1B6E"/>
<circle cx="242.40" cy="241.81" r="1.6" fill="#6E1B6E"/>
<circle cx="297.07" cy="241.42" r="1.6" fill="#6E1B6E"/>
<polygon points="96.75,159.35 97.35,160.97 99.08,161.04 97.73,162.12 98.19,163.78 96.75,162.83 95.31,163.78 95.77,162.12 94.42,161.04 96.15,160.97" fill="#111"/>
<polygon points="103.10,159.35 103.70,160.97 105.43,161.04 104.08,162.12 104.54,163.78 103.10,162.83 101.66,163.78 102.12,162.12 100.77,161.04 102.50,160.97" fill="#111"/>
<polygon points="109.45,159.35 110.05,160.97 111.78,161.04 110.43,162.12 110.89,163.78 109.45,162.83 108.01,163.78 108.47,162.12 107.12,161.04 108.85,160.97" fill="#111"/>
<polygon points="94.90,163.75 95.50,165.37 97.23,165.44 95.88,166.52 96.34,168.18 94.90,167.23 93.46,168.18 93.92,166.52 92.57,165.44 94.30,165.37" fill="#111"/>
<polygon points="104.35,165.65 104.95,167.27 106.68,167.34 105.33,168.42 105.79,170.08 104.35,169.13 102.91,170.08 103.37,168.42 102.02,167.34 103.75,167.27" fill="#111"/>
<polygon points="110.50,165.65 111.10,167.27 112.83,167.34 111.48,168.42 111.94,170.08 110.50,169.13 109.06,170.08 109.52,168.42 108.17,167.34 109.90,167.27" fill="#111"/>
<polygon points="116.65,165.65 117.25,167.27 118.98,167.34 117.63,168.42 118.09,170.08 116.65,169.13 115.21,170.08 115.67,168.42 114.32,167.34 116.05,167.27" fill="#111"/>
<polygon points="124.95,169.35 125.55,170.97 127.28,171.04 125.93,172.12 126.39,173.78 124.95,172.83 123.51,173.78 123.97,172.12 122.62,171.04 124.35,170.97" fill="#111"/>
<polygon points="131.10,169.35 131.70,170.97 133.43,171.04 132.08,172.12 132.54,173.78 131.10,172.83 129.66,173.78 130.12,172.12 128.77,171.04 130.50,170.97" fill="#111"/>
<polygon points="137.25,169.35 137.85,170.97 139.58,171.04 138.23,172.12 138.69,173.78 137.25,172.83 135.81,173.78 136.27,172.12 134.92,171.04 136.65,170.97" fill="#111"/>
<polygon points="118.05,177.25 118.65,178.87 120.38,178.94 119.03,180.02 119.49,181.68 118.05,180.73 116.61,181.68 117.07,180.02 115.72,178.94 117.45,178.87" fill="#111"/>
<polygon points="124.25,177.25 124.85,178.87 126.58,178.94 125.23,180.02 125.69,181.68 124.25,180.73 122.81,181.68 123.27,180.02 121.92,178.94 123.65,178.87" fill="#111"/>
<polygon points="130.45,177.25 131.05,178.87 132.78,178.94 131.43,180.02 131.89,181.68 130.45,180.73 129.01,181.68 129.47,180.02 128.12,178.94 129.85,178.87" fill="#111"/>
<polygon points="116.35,183.65 116.95,185.27 118.68,185.34 117.33,186.42 117.79,188.08 116.35,187.13 114.91,188.08 115.37,186.42 114.02,185.34 115.75,185.27" fill="#111"/>
<polygon points="121.95,183.65 122.55,185.27 124.28,185.34 122.93,186.42 123.39,188.08 121.95,187.13 120.51,188.08 120.97,186.42 119.62,185.34 121.35,185.27" fill="#111"/>
<polygon points="153.35,193.95 153.95,195.57 155.68,195.64 154.33,196.72 154.79,198.38 153.35,197.43 151.91,198.38 152.37,196.72 151.02,195.64 152.75,195.57" fill="#111"/>
<polygon points="159.00,193.95 159.60,195.57 161.33,195.64 159.98,196.72 160.44,198.38 159.00,197.43 157.56,198.38 158.02,196.72 156.67,195.64 158.40,195.57" fill="#111"/>
<polygon points="164.65,193.95 165.25,195.57 166.98,195.64 165.63,196.72 166.09,198.38 164.65,197.43 163.21,198.38 163.67,196.72 162.32,195.64 164.05,195.57" fill="#111"/>
<polygon points="180.35,179.25 180.95,180.87 182.68,180.94 181.33,182.02 181.79,183.68 180.35,182.73 178.91,183.68 179.37,182.02 178.02,180.94 179.75,180.87" fill="#111"/>
<polygon points="186.95,179.25 187.55,180.87 189.28,180.94 187.93,182.02 188.39,183.68 186.95,182.73 185.51,183.68 185.97,182.02 184.62,180.94 186.35,180.87" fill="#111"/>
<polygon points="193.55,179.25 194.15,180.87 195.88,180.94 194.53,182.02 194.99,183.68 193.55,182.73 192.11,183.68 192.57,182.02 191.22,180.94 192.95,180.87" fill="#111"/>
<polygon points="239.15,175.55 239.75,177.17 241.48,177.24 240.13,178.32 240.59,179.98 239.15,179.03 237.71,179.98 238.17,178.32 236.82,177.24 238.55,177.17" fill="#111"/>
<polygon points="245.65,175.55 246.25,177.17 247.98,177.24 246.63,178.32 247.09,179.98 245.65,179.03 244.21,179.98 244.67,178.32 243.32,177.24 245.05,177.17" fill="#111"/>
<polygon points="290.05,170.55 290.65,172.17 292.38,172.24 291.03,173.32 291.49,174.98 290.05,174.03 288.61,174.98 289.07,173.32 287.72,172.24 289.45,172.17" fill="#111"/>
<polygon points="296.65,170.55 297.25,172.17 298.98,172.24 297.63,173.32 298.09,174.98 296.65,174.03 295.21,174.98 295.67,173.32 294.32,172.24 296.05,172.17" fill="#111"/>
<polygon points="303.25,170.55 303.85,172.17 305.58,172.24 304.23,173.32 304.69,174.98 303.25,174.03 301.81,174.98 302.27,173.32 300.92,172.24 302.65,172.17" fill="#111"/>
<line x1="355.50" y1="8.70" x2="355.50" y2="125.50" stroke="#555" stroke-width="1" />
<line x1="355.50" y1="125.50" x2="581.40" y2="125.50" stroke="#555" stroke-width="1" />
<line x1="353.30" y1="112.20" x2="355.50" y2="112.20" stroke="#555" stroke-width="1" />
<text x="347.60" y="115.30" font-size="8.5" text-anchor="middle" font-weight="normal" font-style="normal" fill="#222" letter-spacing="0.4">3.4</text>
<line x1="353.30" y1="86.32" x2="355.50" y2="86.32" stroke="#555" stroke-width="1" />
<text x="347.60" y="89.42" font-size="8.5" text-anchor="middle" font-weight="normal" font-style="normal" fill="#222" letter-spacing="0.4">3.6</text>
<line x1="353.30" y1="60.44" x2="355.50" y2="60.44" stroke="#555" stroke-width="1" />
<text x="347.60" y="63.54" font-size="8.5" text-anchor="middle" font-weight="normal" font-style="normal" fill="#222" letter-spacing="0.4">3.8</text>
<line x1="353.30" y1="34.56" x2="355.50" y2="34.56" stroke="#555" stroke-width="1" />
<text x="347.60" y="37.66" font-size="8.5" text-anchor="middle" font-weight="normal" font-style="normal" fill="#222" letter-spacing="0.4">4.0</text>
<line x1="353.30" y1="8.68" x2="355.50" y2="8.68" stroke="#555" stroke-width="1" />
<text x="347.60" y="11.78" font-size="8.5" text-anchor="middle" font-weight="normal" font-style="normal" fill="#222" letter-spacing="0.4">4.2</text>
<line x1="365.80" y1="125.50" x2="365.80" y2="127.50" stroke="#555" stroke-width="1" />
<text x="365.80" y="134.20" font-size="8.6" text-anchor="middle" font-weight="normal" font-style="normal" fill="#222" letter-spacing="0.7">1</text>
<line x1="373.37" y1="125.50" x2="373.37" y2="127.50" stroke="#555" stroke-width="1" />
<text x="373.37" y="134.20" font-size="8.6" text-anchor="middle" font-weight="normal" font-style="normal" fill="#222" letter-spacing="0.7">2</text>
<line x1="380.94" y1="125.50" x2="380.94" y2="127.50" stroke="#555" stroke-width="1" />
<text x="380.94" y="134.20" font-size="8.6" text-anchor="middle" font-weight="normal" font-style="normal" fill="#222" letter-spacing="0.7">3</text>
<line x1="388.51" y1="125.50" x2="388.51" y2="127.50" stroke="#555" stroke-width="1" />
<text x="388.51" y="134.20" font-size="8.6" text-anchor="middle" font-weight="normal" font-style="normal" fill="#222" letter-spacing="0.7">4</text>
<line x1="396.08" y1="125.50" x2="396.08" y2="127.50" stroke="#555" stroke-width="1" />
<text x="396.08" y="134.20" font-size="8.6" text-anchor="middle" font-weight="normal" font-style="normal" fill="#222" letter-spacing="0.7">5</text>
<line x1="403.65" y1="125.50" x2="403.65" y2="127.50" stroke="#555" stroke-width="1" />
<text x="403.65" y="134.20" font-size="8.6" text-anchor="middle" font-weight="normal" font-style="normal" fill="#222" letter-spacing="0.7">6</text>
<line x1="411.22" y1="125.50" x2="411.22" y2="127.50" stroke="#555" stroke-width="1" />
<text x="411.22" y="134.20" font-size="8.6" text-anchor="middle" font-weight="normal" font-style="normal" fill="#222" letter-spacing="0.7">7</text>
<line x1="433.93" y1="125.50" x2="433.93" y2="127.50" stroke="#555" stroke-width="1" />
<text x="433.93" y="134.20" font-size="8.6" text-anchor="middle" font-weight="normal" font-style="normal" fill="#222" letter-spacing="0.7">10</text>
<line x1="464.21" y1="125.50" x2="464.21" y2="127.50" stroke="#555" stroke-width="1" />
<text x="464.21" y="134.20" font-size="8.6" text-anchor="middle" font-weight="normal" font-style="normal" fill="#222" letter-spacing="0.7">14</text>
<line x1="517.20" y1="125.50" x2="517.20" y2="127.50" stroke="#555" stroke-width="1" />
<text x="517.20" y="134.20" font-size="8.6" text-anchor="middle" font-weight="normal" font-style="normal" fill="#222" letter-spacing="0.7">21</text>
<line x1="570.19" y1="125.50" x2="570.19" y2="127.50" stroke="#555" stroke-width="1" />
<text x="570.19" y="134.20" font-size="8.6" text-anchor="middle" font-weight="normal" font-style="normal" fill="#222" letter-spacing="0.7">28</text>
<text x="471.55" y="142.40" font-size="8.7" text-anchor="middle" font-weight="normal" font-style="normal" fill="#222" letter-spacing="0.4">Days</text>
<text x="470.50" y="7.60" font-size="8.6" text-anchor="middle" font-weight="normal" font-style="normal" fill="#222" letter-spacing="0.4">pH</text>
<text x="0" y="0" font-size="8.8" letter-spacing="0.4" text-anchor="middle" fill="#222" transform="translate(337.8,65.5) rotate(-90)">pH</text>
<line x1="365.80" y1="75.12" x2="365.80" y2="78.12" stroke="#B5D6F6" stroke-width="1" />
<line x1="363.00" y1="75.12" x2="368.60" y2="75.12" stroke="#B5D6F6" stroke-width="1" />
<line x1="363.00" y1="78.12" x2="368.60" y2="78.12" stroke="#B5D6F6" stroke-width="1" />
<line x1="373.37" y1="74.73" x2="373.37" y2="77.73" stroke="#B5D6F6" stroke-width="1" />
<line x1="370.57" y1="74.73" x2="376.17" y2="74.73" stroke="#B5D6F6" stroke-width="1" />
<line x1="370.57" y1="77.73" x2="376.17" y2="77.73" stroke="#B5D6F6" stroke-width="1" />
<line x1="380.94" y1="74.56" x2="380.94" y2="82.56" stroke="#B5D6F6" stroke-width="1" />
<line x1="378.14" y1="74.56" x2="383.74" y2="74.56" stroke="#B5D6F6" stroke-width="1" />
<line x1="378.14" y1="82.56" x2="383.74" y2="82.56" stroke="#B5D6F6" stroke-width="1" />
<line x1="388.51" y1="73.26" x2="388.51" y2="81.26" stroke="#B5D6F6" stroke-width="1" />
<line x1="385.71" y1="73.26" x2="391.31" y2="73.26" stroke="#B5D6F6" stroke-width="1" />
<line x1="385.71" y1="81.26" x2="391.31" y2="81.26" stroke="#B5D6F6" stroke-width="1" />
<line x1="396.08" y1="73.32" x2="396.08" y2="77.32" stroke="#B5D6F6" stroke-width="1" />
<line x1="393.28" y1="73.32" x2="398.88" y2="73.32" stroke="#B5D6F6" stroke-width="1" />
<line x1="393.28" y1="77.32" x2="398.88" y2="77.32" stroke="#B5D6F6" stroke-width="1" />
<line x1="403.65" y1="73.03" x2="403.65" y2="75.03" stroke="#B5D6F6" stroke-width="1" />
<line x1="400.85" y1="73.03" x2="406.45" y2="73.03" stroke="#B5D6F6" stroke-width="1" />
<line x1="400.85" y1="75.03" x2="406.45" y2="75.03" stroke="#B5D6F6" stroke-width="1" />
<line x1="411.22" y1="75.35" x2="411.22" y2="84.35" stroke="#B5D6F6" stroke-width="1" />
<line x1="408.42" y1="75.35" x2="414.02" y2="75.35" stroke="#B5D6F6" stroke-width="1" />
<line x1="408.42" y1="84.35" x2="414.02" y2="84.35" stroke="#B5D6F6" stroke-width="1" />
<line x1="433.93" y1="86.93" x2="433.93" y2="91.93" stroke="#B5D6F6" stroke-width="1" />
<line x1="431.13" y1="86.93" x2="436.73" y2="86.93" stroke="#B5D6F6" stroke-width="1" />
<line x1="431.13" y1="91.93" x2="436.73" y2="91.93" stroke="#B5D6F6" stroke-width="1" />
<line x1="464.21" y1="83.04" x2="464.21" y2="88.04" stroke="#B5D6F6" stroke-width="1" />
<line x1="461.41" y1="83.04" x2="467.01" y2="83.04" stroke="#B5D6F6" stroke-width="1" />
<line x1="461.41" y1="88.04" x2="467.01" y2="88.04" stroke="#B5D6F6" stroke-width="1" />
<line x1="517.20" y1="102.52" x2="517.20" y2="114.12" stroke="#B5D6F6" stroke-width="1" />
<line x1="514.40" y1="102.52" x2="520.00" y2="102.52" stroke="#B5D6F6" stroke-width="1" />
<line x1="514.40" y1="114.12" x2="520.00" y2="114.12" stroke="#B5D6F6" stroke-width="1" />
<line x1="570.19" y1="95.87" x2="570.19" y2="101.87" stroke="#B5D6F6" stroke-width="1" />
<line x1="567.39" y1="95.87" x2="572.99" y2="95.87" stroke="#B5D6F6" stroke-width="1" />
<line x1="567.39" y1="101.87" x2="572.99" y2="101.87" stroke="#B5D6F6" stroke-width="1" />
<polyline points="365.80,76.62 373.37,76.23 380.94,78.56 388.51,77.26 396.08,75.32 403.65,74.03 411.22,79.85 433.93,89.43 464.21,85.54 517.20,108.32 570.19,98.87" fill="none" stroke="#8FC0F2" stroke-width="1.05"/>
<circle cx="365.80" cy="76.62" r="1.6" fill="#8FC0F2"/>
<circle cx="373.37" cy="76.23" r="1.6" fill="#8FC0F2"/>
<circle cx="380.94" cy="78.56" r="1.6" fill="#8FC0F2"/>
<circle cx="388.51" cy="77.26" r="1.6" fill="#8FC0F2"/>
<circle cx="396.08" cy="75.32" r="1.6" fill="#8FC0F2"/>
<circle cx="403.65" cy="74.03" r="1.6" fill="#8FC0F2"/>
<circle cx="411.22" cy="79.85" r="1.6" fill="#8FC0F2"/>
<circle cx="433.93" cy="89.43" r="1.6" fill="#8FC0F2"/>
<circle cx="464.21" cy="85.54" r="1.6" fill="#8FC0F2"/>
<circle cx="517.20" cy="108.32" r="1.6" fill="#8FC0F2"/>
<circle cx="570.19" cy="98.87" r="1.6" fill="#8FC0F2"/>
<line x1="365.80" y1="91.29" x2="365.80" y2="94.29" stroke="#FDD29E" stroke-width="1" />
<line x1="363.00" y1="91.29" x2="368.60" y2="91.29" stroke="#FDD29E" stroke-width="1" />
<line x1="363.00" y1="94.29" x2="368.60" y2="94.29" stroke="#FDD29E" stroke-width="1" />
<line x1="373.37" y1="93.34" x2="373.37" y2="95.34" stroke="#FDD29E" stroke-width="1" />
<line x1="370.57" y1="93.34" x2="376.17" y2="93.34" stroke="#FDD29E" stroke-width="1" />
<line x1="370.57" y1="95.34" x2="376.17" y2="95.34" stroke="#FDD29E" stroke-width="1" />
<line x1="380.94" y1="90.25" x2="380.94" y2="93.25" stroke="#FDD29E" stroke-width="1" />
<line x1="378.14" y1="90.25" x2="383.74" y2="90.25" stroke="#FDD29E" stroke-width="1" />
<line x1="378.14" y1="93.25" x2="383.74" y2="93.25" stroke="#FDD29E" stroke-width="1" />
<line x1="388.51" y1="89.20" x2="388.51" y2="91.20" stroke="#FDD29E" stroke-width="1" />
<line x1="385.71" y1="89.20" x2="391.31" y2="89.20" stroke="#FDD29E" stroke-width="1" />
<line x1="385.71" y1="91.20" x2="391.31" y2="91.20" stroke="#FDD29E" stroke-width="1" />
<line x1="396.08" y1="73.37" x2="396.08" y2="87.37" stroke="#FDD29E" stroke-width="1" />
<line x1="393.28" y1="73.37" x2="398.88" y2="73.37" stroke="#FDD29E" stroke-width="1" />
<line x1="393.28" y1="87.37" x2="398.88" y2="87.37" stroke="#FDD29E" stroke-width="1" />
<line x1="403.65" y1="82.86" x2="403.65" y2="84.86" stroke="#FDD29E" stroke-width="1" />
<line x1="400.85" y1="82.86" x2="406.45" y2="82.86" stroke="#FDD29E" stroke-width="1" />
<line x1="400.85" y1="84.86" x2="406.45" y2="84.86" stroke="#FDD29E" stroke-width="1" />
<line x1="411.22" y1="75.87" x2="411.22" y2="84.87" stroke="#FDD29E" stroke-width="1" />
<line x1="408.42" y1="75.87" x2="414.02" y2="75.87" stroke="#FDD29E" stroke-width="1" />
<line x1="408.42" y1="84.87" x2="414.02" y2="84.87" stroke="#FDD29E" stroke-width="1" />
<line x1="433.93" y1="73.24" x2="433.93" y2="87.24" stroke="#FDD29E" stroke-width="1" />
<line x1="431.13" y1="73.24" x2="436.73" y2="73.24" stroke="#FDD29E" stroke-width="1" />
<line x1="431.13" y1="87.24" x2="436.73" y2="87.24" stroke="#FDD29E" stroke-width="1" />
<line x1="464.21" y1="67.23" x2="464.21" y2="85.23" stroke="#FDD29E" stroke-width="1" />
<line x1="461.41" y1="67.23" x2="467.01" y2="67.23" stroke="#FDD29E" stroke-width="1" />
<line x1="461.41" y1="85.23" x2="467.01" y2="85.23" stroke="#FDD29E" stroke-width="1" />
<line x1="517.20" y1="83.41" x2="517.20" y2="109.41" stroke="#FDD29E" stroke-width="1" />
<line x1="514.40" y1="83.41" x2="520.00" y2="83.41" stroke="#FDD29E" stroke-width="1" />
<line x1="514.40" y1="109.41" x2="520.00" y2="109.41" stroke="#FDD29E" stroke-width="1" />
<line x1="570.19" y1="66.39" x2="570.19" y2="75.19" stroke="#FDD29E" stroke-width="1" />
<line x1="567.39" y1="66.39" x2="572.99" y2="66.39" stroke="#FDD29E" stroke-width="1" />
<line x1="567.39" y1="75.19" x2="572.99" y2="75.19" stroke="#FDD29E" stroke-width="1" />
<polyline points="365.80,92.79 373.37,94.34 380.94,91.75 388.51,90.20 396.08,80.37 403.65,83.86 411.22,80.37 433.93,80.24 464.21,76.23 517.20,96.41 570.19,70.79" fill="none" stroke="#FDB765" stroke-width="1.05"/>
<circle cx="365.80" cy="92.79" r="1.6" fill="#FDB765"/>
<circle cx="373.37" cy="94.34" r="1.6" fill="#FDB765"/>
<circle cx="380.94" cy="91.75" r="1.6" fill="#FDB765"/>
<circle cx="388.51" cy="90.20" r="1.6" fill="#FDB765"/>
<circle cx="396.08" cy="80.37" r="1.6" fill="#FDB765"/>
<circle cx="403.65" cy="83.86" r="1.6" fill="#FDB765"/>
<circle cx="411.22" cy="80.37" r="1.6" fill="#FDB765"/>
<circle cx="433.93" cy="80.24" r="1.6" fill="#FDB765"/>
<circle cx="464.21" cy="76.23" r="1.6" fill="#FDB765"/>
<circle cx="517.20" cy="96.41" r="1.6" fill="#FDB765"/>
<circle cx="570.19" cy="70.79" r="1.6" fill="#FDB765"/>
<line x1="365.80" y1="85.74" x2="365.80" y2="89.74" stroke="#A870A8" stroke-width="1" />
<line x1="363.00" y1="85.74" x2="368.60" y2="85.74" stroke="#A870A8" stroke-width="1" />
<line x1="363.00" y1="89.74" x2="368.60" y2="89.74" stroke="#A870A8" stroke-width="1" />
<line x1="373.37" y1="83.90" x2="373.37" y2="85.90" stroke="#A870A8" stroke-width="1" />
<line x1="370.57" y1="83.90" x2="376.17" y2="83.90" stroke="#A870A8" stroke-width="1" />
<line x1="370.57" y1="85.90" x2="376.17" y2="85.90" stroke="#A870A8" stroke-width="1" />
<line x1="380.94" y1="77.83" x2="380.94" y2="87.83" stroke="#A870A8" stroke-width="1" />
<line x1="378.14" y1="77.83" x2="383.74" y2="77.83" stroke="#A870A8" stroke-width="1" />
<line x1="378.14" y1="87.83" x2="383.74" y2="87.83" stroke="#A870A8" stroke-width="1" />
<line x1="388.51" y1="76.54" x2="388.51" y2="79.54" stroke="#A870A8" stroke-width="1" />
<line x1="385.71" y1="76.54" x2="391.31" y2="76.54" stroke="#A870A8" stroke-width="1" />
<line x1="385.71" y1="79.54" x2="391.31" y2="79.54" stroke="#A870A8" stroke-width="1" />
<line x1="396.08" y1="62.07" x2="396.08" y2="74.07" stroke="#A870A8" stroke-width="1" />
<line x1="393.28" y1="62.07" x2="398.88" y2="62.07" stroke="#A870A8" stroke-width="1" />
<line x1="393.28" y1="74.07" x2="398.88" y2="74.07" stroke="#A870A8" stroke-width="1" />
<line x1="403.65" y1="56.59" x2="403.65" y2="58.59" stroke="#A870A8" stroke-width="1" />
<line x1="400.85" y1="56.59" x2="406.45" y2="56.59" stroke="#A870A8" stroke-width="1" />
<line x1="400.85" y1="58.59" x2="406.45" y2="58.59" stroke="#A870A8" stroke-width="1" />
<line x1="411.22" y1="59.98" x2="411.22" y2="62.98" stroke="#A870A8" stroke-width="1" />
<line x1="408.42" y1="59.98" x2="414.02" y2="59.98" stroke="#A870A8" stroke-width="1" />
<line x1="408.42" y1="62.98" x2="414.02" y2="62.98" stroke="#A870A8" stroke-width="1" />
<line x1="433.93" y1="57.50" x2="433.93" y2="59.50" stroke="#A870A8" stroke-width="1" />
<line x1="431.13" y1="57.50" x2="436.73" y2="57.50" stroke="#A870A8" stroke-width="1" />
<line x1="431.13" y1="59.50" x2="436.73" y2="59.50" stroke="#A870A8" stroke-width="1" />
<line x1="464.21" y1="50.08" x2="464.21" y2="57.08" stroke="#A870A8" stroke-width="1" />
<line x1="461.41" y1="50.08" x2="467.01" y2="50.08" stroke="#A870A8" stroke-width="1" />
<line x1="461.41" y1="57.08" x2="467.01" y2="57.08" stroke="#A870A8" stroke-width="1" />
<line x1="517.20" y1="35.31" x2="517.20" y2="85.31" stroke="#A870A8" stroke-width="1" />
<line x1="514.40" y1="35.31" x2="520.00" y2="35.31" stroke="#A870A8" stroke-width="1" />
<line x1="514.40" y1="85.31" x2="520.00" y2="85.31" stroke="#A870A8" stroke-width="1" />
<line x1="570.19" y1="35.46" x2="570.19" y2="79.46" stroke="#A870A8" stroke-width="1" />
<line x1="567.39" y1="35.46" x2="572.99" y2="35.46" stroke="#A870A8" stroke-width="1" />
<line x1="567.39" y1="79.46" x2="572.99" y2="79.46" stroke="#A870A8" stroke-width="1" />
<polyline points="365.80,87.74 373.37,84.90 380.94,82.83 388.51,78.04 396.08,68.07 403.65,57.59 411.22,61.48 433.93,58.50 464.21,53.58 517.20,60.31 570.19,57.46" fill="none" stroke="#6E1B6E" stroke-width="1.2"/>
<circle cx="365.80" cy="87.74" r="1.6" fill="#6E1B6E"/>
<circle cx="373.37" cy="84.90" r="1.6" fill="#6E1B6E"/>
<circle cx="380.94" cy="82.83" r="1.6" fill="#6E1B6E"/>
<circle cx="388.51" cy="78.04" r="1.6" fill="#6E1B6E"/>
<circle cx="396.08" cy="68.07" r="1.6" fill="#6E1B6E"/>
<circle cx="403.65" cy="57.59" r="1.6" fill="#6E1B6E"/>
<circle cx="411.22" cy="61.48" r="1.6" fill="#6E1B6E"/>
<circle cx="433.93" cy="58.50" r="1.6" fill="#6E1B6E"/>
<circle cx="464.21" cy="53.58" r="1.6" fill="#6E1B6E"/>
<circle cx="517.20" cy="60.31" r="1.6" fill="#6E1B6E"/>
<circle cx="570.19" cy="57.46" r="1.6" fill="#6E1B6E"/>
<polygon points="357.05,66.55 357.65,68.17 359.38,68.24 358.03,69.32 358.49,70.98 357.05,70.03 355.61,70.98 356.07,69.32 354.72,68.24 356.45,68.17" fill="#111"/>
<polygon points="364.00,66.55 364.60,68.17 366.33,68.24 364.98,69.32 365.44,70.98 364.00,70.03 362.56,70.98 363.02,69.32 361.67,68.24 363.40,68.17" fill="#111"/>
<polygon points="370.95,66.55 371.55,68.17 373.28,68.24 371.93,69.32 372.39,70.98 370.95,70.03 369.51,70.98 369.97,69.32 368.62,68.24 370.35,68.17" fill="#111"/>
<polygon points="369.95,59.55 370.55,61.17 372.28,61.24 370.93,62.32 371.39,63.98 369.95,63.03 368.51,63.98 368.97,62.32 367.62,61.24 369.35,61.17" fill="#111"/>
<polygon points="376.65,59.55 377.25,61.17 378.98,61.24 377.63,62.32 378.09,63.98 376.65,63.03 375.21,63.98 375.67,62.32 374.32,61.24 376.05,61.17" fill="#111"/>
<polygon points="383.35,59.55 383.95,61.17 385.68,61.24 384.33,62.32 384.79,63.98 383.35,63.03 381.91,63.98 382.37,62.32 381.02,61.24 382.75,61.17" fill="#111"/>
<polygon points="381.50,68.25 382.10,69.87 383.83,69.94 382.48,71.02 382.94,72.68 381.50,71.73 380.06,72.68 380.52,71.02 379.17,69.94 380.90,69.87" fill="#111"/>
<polygon points="386.75,56.35 387.35,57.97 389.08,58.04 387.73,59.12 388.19,60.78 386.75,59.83 385.31,60.78 385.77,59.12 384.42,58.04 386.15,57.97" fill="#111"/>
<polygon points="393.25,56.35 393.85,57.97 395.58,58.04 394.23,59.12 394.69,60.78 393.25,59.83 391.81,60.78 392.27,59.12 390.92,58.04 392.65,57.97" fill="#111"/>
<polygon points="397.45,46.65 398.05,48.27 399.78,48.34 398.43,49.42 398.89,51.08 397.45,50.13 396.01,51.08 396.47,49.42 395.12,48.34 396.85,48.27" fill="#111"/>
<polygon points="403.65,46.65 404.25,48.27 405.98,48.34 404.63,49.42 405.09,51.08 403.65,50.13 402.21,51.08 402.67,49.42 401.32,48.34 403.05,48.27" fill="#111"/>
<polygon points="409.85,46.65 410.45,48.27 412.18,48.34 410.83,49.42 411.29,51.08 409.85,50.13 408.41,51.08 408.87,49.42 407.52,48.34 409.25,48.27" fill="#111"/>
<polygon points="409.85,50.85 410.45,52.47 412.18,52.54 410.83,53.62 411.29,55.28 409.85,54.33 408.41,55.28 408.87,53.62 407.52,52.54 409.25,52.47" fill="#111"/>
<polygon points="415.65,50.85 416.25,52.47 417.98,52.54 416.63,53.62 417.09,55.28 415.65,54.33 414.21,55.28 414.67,53.62 413.32,52.54 415.05,52.47" fill="#111"/>
<polygon points="426.95,42.95 427.55,44.57 429.28,44.64 427.93,45.72 428.39,47.38 426.95,46.43 425.51,47.38 425.97,45.72 424.62,44.64 426.35,44.57" fill="#111"/>
<polygon points="433.05,42.95 433.65,44.57 435.38,44.64 434.03,45.72 434.49,47.38 433.05,46.43 431.61,47.38 432.07,45.72 430.72,44.64 432.45,44.57" fill="#111"/>
<polygon points="439.15,42.95 439.75,44.57 441.48,44.64 440.13,45.72 440.59,47.38 439.15,46.43 437.71,47.38 438.17,45.72 436.82,44.64 438.55,44.57" fill="#111"/>
<polygon points="460.75,39.25 461.35,40.87 463.08,40.94 461.73,42.02 462.19,43.68 460.75,42.73 459.31,43.68 459.77,42.02 458.42,40.94 460.15,40.87" fill="#111"/>
<polygon points="467.25,39.25 467.85,40.87 469.58,40.94 468.23,42.02 468.69,43.68 467.25,42.73 465.81,43.68 466.27,42.02 464.92,40.94 466.65,40.87" fill="#111"/>
<polygon points="517.70,22.65 518.30,24.27 520.03,24.34 518.68,25.42 519.14,27.08 517.70,26.13 516.26,27.08 516.72,25.42 515.37,24.34 517.10,24.27" fill="#111"/>
<polygon points="571.00,21.05 571.60,22.67 573.33,22.74 571.98,23.82 572.44,25.48 571.00,24.53 569.56,25.48 570.02,23.82 568.67,22.74 570.40,22.67" fill="#111"/>
<line x1="355.50" y1="156.00" x2="355.50" y2="273.50" stroke="#555" stroke-width="1" />
<line x1="355.50" y1="273.50" x2="583.00" y2="273.50" stroke="#555" stroke-width="1" />
<line x1="353.30" y1="272.80" x2="355.50" y2="272.80" stroke="#555" stroke-width="1" />
<text x="348.90" y="275.90" font-size="8.5" text-anchor="middle" font-weight="normal" font-style="normal" fill="#222" letter-spacing="0.4">0</text>
<line x1="353.30" y1="255.10" x2="355.50" y2="255.10" stroke="#555" stroke-width="1" />
<text x="348.90" y="258.20" font-size="8.5" text-anchor="middle" font-weight="normal" font-style="normal" fill="#222" letter-spacing="0.4">5</text>
<line x1="353.30" y1="237.40" x2="355.50" y2="237.40" stroke="#555" stroke-width="1" />
<text x="348.90" y="240.50" font-size="8.5" text-anchor="middle" font-weight="normal" font-style="normal" fill="#222" letter-spacing="0.4">10</text>
<line x1="353.30" y1="219.70" x2="355.50" y2="219.70" stroke="#555" stroke-width="1" />
<text x="348.90" y="222.80" font-size="8.5" text-anchor="middle" font-weight="normal" font-style="normal" fill="#222" letter-spacing="0.4">15</text>
<line x1="353.30" y1="202.00" x2="355.50" y2="202.00" stroke="#555" stroke-width="1" />
<text x="348.90" y="205.10" font-size="8.5" text-anchor="middle" font-weight="normal" font-style="normal" fill="#222" letter-spacing="0.4">20</text>
<line x1="353.30" y1="184.30" x2="355.50" y2="184.30" stroke="#555" stroke-width="1" />
<text x="348.90" y="187.40" font-size="8.5" text-anchor="middle" font-weight="normal" font-style="normal" fill="#222" letter-spacing="0.4">25</text>
<line x1="353.30" y1="166.60" x2="355.50" y2="166.60" stroke="#555" stroke-width="1" />
<text x="348.90" y="169.70" font-size="8.5" text-anchor="middle" font-weight="normal" font-style="normal" fill="#222" letter-spacing="0.4">30</text>
<line x1="365.10" y1="273.50" x2="365.10" y2="275.50" stroke="#555" stroke-width="1" />
<text x="365.10" y="282.70" font-size="8.6" text-anchor="middle" font-weight="normal" font-style="normal" fill="#222" letter-spacing="0.7">1</text>
<line x1="372.80" y1="273.50" x2="372.80" y2="275.50" stroke="#555" stroke-width="1" />
<text x="372.80" y="282.70" font-size="8.6" text-anchor="middle" font-weight="normal" font-style="normal" fill="#222" letter-spacing="0.7">2</text>
<line x1="380.50" y1="273.50" x2="380.50" y2="275.50" stroke="#555" stroke-width="1" />
<text x="380.50" y="282.70" font-size="8.6" text-anchor="middle" font-weight="normal" font-style="normal" fill="#222" letter-spacing="0.7">3</text>
<line x1="388.20" y1="273.50" x2="388.20" y2="275.50" stroke="#555" stroke-width="1" />
<text x="388.20" y="282.70" font-size="8.6" text-anchor="middle" font-weight="normal" font-style="normal" fill="#222" letter-spacing="0.7">4</text>
<line x1="395.90" y1="273.50" x2="395.90" y2="275.50" stroke="#555" stroke-width="1" />
<text x="395.90" y="282.70" font-size="8.6" text-anchor="middle" font-weight="normal" font-style="normal" fill="#222" letter-spacing="0.7">5</text>
<line x1="403.60" y1="273.50" x2="403.60" y2="275.50" stroke="#555" stroke-width="1" />
<text x="403.60" y="282.70" font-size="8.6" text-anchor="middle" font-weight="normal" font-style="normal" fill="#222" letter-spacing="0.7">6</text>
<line x1="411.30" y1="273.50" x2="411.30" y2="275.50" stroke="#555" stroke-width="1" />
<text x="411.30" y="282.70" font-size="8.6" text-anchor="middle" font-weight="normal" font-style="normal" fill="#222" letter-spacing="0.7">7</text>
<line x1="434.40" y1="273.50" x2="434.40" y2="275.50" stroke="#555" stroke-width="1" />
<text x="434.40" y="282.70" font-size="8.6" text-anchor="middle" font-weight="normal" font-style="normal" fill="#222" letter-spacing="0.7">10</text>
<line x1="465.20" y1="273.50" x2="465.20" y2="275.50" stroke="#555" stroke-width="1" />
<text x="465.20" y="282.70" font-size="8.6" text-anchor="middle" font-weight="normal" font-style="normal" fill="#222" letter-spacing="0.7">14</text>
<line x1="519.10" y1="273.50" x2="519.10" y2="275.50" stroke="#555" stroke-width="1" />
<text x="519.10" y="282.70" font-size="8.6" text-anchor="middle" font-weight="normal" font-style="normal" fill="#222" letter-spacing="0.7">21</text>
<line x1="573.00" y1="273.50" x2="573.00" y2="275.50" stroke="#555" stroke-width="1" />
<text x="573.00" y="282.70" font-size="8.6" text-anchor="middle" font-weight="normal" font-style="normal" fill="#222" letter-spacing="0.7">28</text>
<text x="472.35" y="291.00" font-size="8.7" text-anchor="middle" font-weight="normal" font-style="normal" fill="#222" letter-spacing="0.4">Days</text>
<text x="471.00" y="156.20" font-size="8.6" text-anchor="middle" font-weight="normal" font-style="normal" fill="#222" letter-spacing="0.4">TTA</text>
<text x="0" y="0" font-size="8.8" letter-spacing="0.4" text-anchor="middle" fill="#222" transform="translate(339.9,212.6) rotate(-90)">TTA</text>
<line x1="365.10" y1="237.99" x2="365.10" y2="239.99" stroke="#B5D6F6" stroke-width="1" />
<line x1="362.30" y1="237.99" x2="367.90" y2="237.99" stroke="#B5D6F6" stroke-width="1" />
<line x1="362.30" y1="239.99" x2="367.90" y2="239.99" stroke="#B5D6F6" stroke-width="1" />
<line x1="372.80" y1="235.37" x2="372.80" y2="238.37" stroke="#B5D6F6" stroke-width="1" />
<line x1="370.00" y1="235.37" x2="375.60" y2="235.37" stroke="#B5D6F6" stroke-width="1" />
<line x1="370.00" y1="238.37" x2="375.60" y2="238.37" stroke="#B5D6F6" stroke-width="1" />
<line x1="380.50" y1="235.87" x2="380.50" y2="237.87" stroke="#B5D6F6" stroke-width="1" />
<line x1="377.70" y1="235.87" x2="383.30" y2="235.87" stroke="#B5D6F6" stroke-width="1" />
<line x1="377.70" y1="237.87" x2="383.30" y2="237.87" stroke="#B5D6F6" stroke-width="1" />
<line x1="388.20" y1="237.64" x2="388.20" y2="239.64" stroke="#B5D6F6" stroke-width="1" />
<line x1="385.40" y1="237.64" x2="391.00" y2="237.64" stroke="#B5D6F6" stroke-width="1" />
<line x1="385.40" y1="239.64" x2="391.00" y2="239.64" stroke="#B5D6F6" stroke-width="1" />
<line x1="395.90" y1="236.93" x2="395.90" y2="238.93" stroke="#B5D6F6" stroke-width="1" />
<line x1="393.10" y1="236.93" x2="398.70" y2="236.93" stroke="#B5D6F6" stroke-width="1" />
<line x1="393.10" y1="238.93" x2="398.70" y2="238.93" stroke="#B5D6F6" stroke-width="1" />
<line x1="403.60" y1="235.37" x2="403.60" y2="238.37" stroke="#B5D6F6" stroke-width="1" />
<line x1="400.80" y1="235.37" x2="406.40" y2="235.37" stroke="#B5D6F6" stroke-width="1" />
<line x1="400.80" y1="238.37" x2="406.40" y2="238.37" stroke="#B5D6F6" stroke-width="1" />
<line x1="411.30" y1="230.10" x2="411.30" y2="240.10" stroke="#B5D6F6" stroke-width="1" />
<line x1="408.50" y1="230.10" x2="414.10" y2="230.10" stroke="#B5D6F6" stroke-width="1" />
<line x1="408.50" y1="240.10" x2="414.10" y2="240.10" stroke="#B5D6F6" stroke-width="1" />
<line x1="434.40" y1="233.75" x2="434.40" y2="235.75" stroke="#B5D6F6" stroke-width="1" />
<line x1="431.60" y1="233.75" x2="437.20" y2="233.75" stroke="#B5D6F6" stroke-width="1" />
<line x1="431.60" y1="235.75" x2="437.20" y2="235.75" stroke="#B5D6F6" stroke-width="1" />
<line x1="465.20" y1="230.56" x2="465.20" y2="232.56" stroke="#B5D6F6" stroke-width="1" />
<line x1="462.40" y1="230.56" x2="468.00" y2="230.56" stroke="#B5D6F6" stroke-width="1" />
<line x1="462.40" y1="232.56" x2="468.00" y2="232.56" stroke="#B5D6F6" stroke-width="1" />
<line x1="519.10" y1="229.14" x2="519.10" y2="231.14" stroke="#B5D6F6" stroke-width="1" />
<line x1="516.30" y1="229.14" x2="521.90" y2="229.14" stroke="#B5D6F6" stroke-width="1" />
<line x1="516.30" y1="231.14" x2="521.90" y2="231.14" stroke="#B5D6F6" stroke-width="1" />
<line x1="573.00" y1="224.75" x2="573.00" y2="227.75" stroke="#B5D6F6" stroke-width="1" />
<line x1="570.20" y1="224.75" x2="575.80" y2="224.75" stroke="#B5D6F6" stroke-width="1" />
<line x1="570.20" y1="227.75" x2="575.80" y2="227.75" stroke="#B5D6F6" stroke-width="1" />
<polyline points="365.10,238.99 372.80,236.87 380.50,236.87 388.20,238.64 395.90,237.93 403.60,236.87 411.30,235.10 434.40,234.75 465.20,231.56 519.10,230.14 573.00,226.25" fill="none" stroke="#8FC0F2" stroke-width="1.05"/>
<circle cx="365.10" cy="238.99" r="1.6" fill="#8FC0F2"/>
<circle cx="372.80" cy="236.87" r="1.6" fill="#8FC0F2"/>
<circle cx="380.50" cy="236.87" r="1.6" fill="#8FC0F2"/>
<circle cx="388.20" cy="238.64" r="1.6" fill="#8FC0F2"/>
<circle cx="395.90" cy="237.93" r="1.6" fill="#8FC0F2"/>
<circle cx="403.60" cy="236.87" r="1.6" fill="#8FC0F2"/>
<circle cx="411.30" cy="235.10" r="1.6" fill="#8FC0F2"/>
<circle cx="434.40" cy="234.75" r="1.6" fill="#8FC0F2"/>
<circle cx="465.20" cy="231.56" r="1.6" fill="#8FC0F2"/>
<circle cx="519.10" cy="230.14" r="1.6" fill="#8FC0F2"/>
<circle cx="573.00" cy="226.25" r="1.6" fill="#8FC0F2"/>
<line x1="365.10" y1="235.02" x2="365.10" y2="238.02" stroke="#FDD29E" stroke-width="1" />
<line x1="362.30" y1="235.02" x2="367.90" y2="235.02" stroke="#FDD29E" stroke-width="1" />
<line x1="362.30" y1="238.02" x2="367.90" y2="238.02" stroke="#FDD29E" stroke-width="1" />
<line x1="372.80" y1="231.98" x2="372.80" y2="233.98" stroke="#FDD29E" stroke-width="1" />
<line x1="370.00" y1="231.98" x2="375.60" y2="231.98" stroke="#FDD29E" stroke-width="1" />
<line x1="370.00" y1="233.98" x2="375.60" y2="233.98" stroke="#FDD29E" stroke-width="1" />
<line x1="380.50" y1="231.98" x2="380.50" y2="233.98" stroke="#FDD29E" stroke-width="1" />
<line x1="377.70" y1="231.98" x2="383.30" y2="231.98" stroke="#FDD29E" stroke-width="1" />
<line x1="377.70" y1="233.98" x2="383.30" y2="233.98" stroke="#FDD29E" stroke-width="1" />
<line x1="388.20" y1="230.91" x2="388.20" y2="232.91" stroke="#FDD29E" stroke-width="1" />
<line x1="385.40" y1="230.91" x2="391.00" y2="230.91" stroke="#FDD29E" stroke-width="1" />
<line x1="385.40" y1="232.91" x2="391.00" y2="232.91" stroke="#FDD29E" stroke-width="1" />
<line x1="395.90" y1="226.67" x2="395.90" y2="228.67" stroke="#FDD29E" stroke-width="1" />
<line x1="393.10" y1="226.67" x2="398.70" y2="226.67" stroke="#FDD29E" stroke-width="1" />
<line x1="393.10" y1="228.67" x2="398.70" y2="228.67" stroke="#FDD29E" stroke-width="1" />
<line x1="403.60" y1="226.67" x2="403.60" y2="228.67" stroke="#FDD29E" stroke-width="1" />
<line x1="400.80" y1="226.67" x2="406.40" y2="226.67" stroke="#FDD29E" stroke-width="1" />
<line x1="400.80" y1="228.67" x2="406.40" y2="228.67" stroke="#FDD29E" stroke-width="1" />
<line x1="411.30" y1="218.12" x2="411.30" y2="230.12" stroke="#FDD29E" stroke-width="1" />
<line x1="408.50" y1="218.12" x2="414.10" y2="218.12" stroke="#FDD29E" stroke-width="1" />
<line x1="408.50" y1="230.12" x2="414.10" y2="230.12" stroke="#FDD29E" stroke-width="1" />
<line x1="434.40" y1="212.02" x2="434.40" y2="227.02" stroke="#FDD29E" stroke-width="1" />
<line x1="431.60" y1="212.02" x2="437.20" y2="212.02" stroke="#FDD29E" stroke-width="1" />
<line x1="431.60" y1="227.02" x2="437.20" y2="227.02" stroke="#FDD29E" stroke-width="1" />
<line x1="465.20" y1="175.01" x2="465.20" y2="218.01" stroke="#FDD29E" stroke-width="1" />
<line x1="462.40" y1="175.01" x2="468.00" y2="175.01" stroke="#FDD29E" stroke-width="1" />
<line x1="462.40" y1="218.01" x2="468.00" y2="218.01" stroke="#FDD29E" stroke-width="1" />
<line x1="519.10" y1="190.37" x2="519.10" y2="229.56" stroke="#FDD29E" stroke-width="1" />
<line x1="516.30" y1="190.37" x2="521.90" y2="190.37" stroke="#FDD29E" stroke-width="1" />
<line x1="516.30" y1="229.56" x2="521.90" y2="229.56" stroke="#FDD29E" stroke-width="1" />
<line x1="573.00" y1="161.56" x2="573.00" y2="221.56" stroke="#FDD29E" stroke-width="1" />
<line x1="570.20" y1="161.56" x2="575.80" y2="161.56" stroke="#FDD29E" stroke-width="1" />
<line x1="570.20" y1="221.56" x2="575.80" y2="221.56" stroke="#FDD29E" stroke-width="1" />
<polyline points="365.10,236.52 372.80,232.98 380.50,232.98 388.20,231.91 395.90,227.67 403.60,227.67 411.30,224.12 434.40,219.52 465.20,196.51 519.10,209.97 573.00,191.56" fill="none" stroke="#FDB765" stroke-width="1.05"/>
<circle cx="365.10" cy="236.52" r="1.6" fill="#FDB765"/>
<circle cx="372.80" cy="232.98" r="1.6" fill="#FDB765"/>
<circle cx="380.50" cy="232.98" r="1.6" fill="#FDB765"/>
<circle cx="388.20" cy="231.91" r="1.6" fill="#FDB765"/>
<circle cx="395.90" cy="227.67" r="1.6" fill="#FDB765"/>
<circle cx="403.60" cy="227.67" r="1.6" fill="#FDB765"/>
<circle cx="411.30" cy="224.12" r="1.6" fill="#FDB765"/>
<circle cx="434.40" cy="219.52" r="1.6" fill="#FDB765"/>
<circle cx="465.20" cy="196.51" r="1.6" fill="#FDB765"/>
<circle cx="519.10" cy="209.97" r="1.6" fill="#FDB765"/>
<circle cx="573.00" cy="191.56" r="1.6" fill="#FDB765"/>
<line x1="365.10" y1="233.75" x2="365.10" y2="235.75" stroke="#A870A8" stroke-width="1" />
<line x1="362.30" y1="233.75" x2="367.90" y2="233.75" stroke="#A870A8" stroke-width="1" />
<line x1="362.30" y1="235.75" x2="367.90" y2="235.75" stroke="#A870A8" stroke-width="1" />
<line x1="372.80" y1="231.27" x2="372.80" y2="233.27" stroke="#A870A8" stroke-width="1" />
<line x1="370.00" y1="231.27" x2="375.60" y2="231.27" stroke="#A870A8" stroke-width="1" />
<line x1="370.00" y1="233.27" x2="375.60" y2="233.27" stroke="#A870A8" stroke-width="1" />
<line x1="380.50" y1="228.64" x2="380.50" y2="231.64" stroke="#A870A8" stroke-width="1" />
<line x1="377.70" y1="228.64" x2="383.30" y2="228.64" stroke="#A870A8" stroke-width="1" />
<line x1="377.70" y1="231.64" x2="383.30" y2="231.64" stroke="#A870A8" stroke-width="1" />
<line x1="388.20" y1="230.21" x2="388.20" y2="232.21" stroke="#A870A8" stroke-width="1" />
<line x1="385.40" y1="230.21" x2="391.00" y2="230.21" stroke="#A870A8" stroke-width="1" />
<line x1="385.40" y1="232.21" x2="391.00" y2="232.21" stroke="#A870A8" stroke-width="1" />
<line x1="395.90" y1="227.37" x2="395.90" y2="229.37" stroke="#A870A8" stroke-width="1" />
<line x1="393.10" y1="227.37" x2="398.70" y2="227.37" stroke="#A870A8" stroke-width="1" />
<line x1="393.10" y1="229.37" x2="398.70" y2="229.37" stroke="#A870A8" stroke-width="1" />
<line x1="403.60" y1="216.46" x2="403.60" y2="220.46" stroke="#A870A8" stroke-width="1" />
<line x1="400.80" y1="216.46" x2="406.40" y2="216.46" stroke="#A870A8" stroke-width="1" />
<line x1="400.80" y1="220.46" x2="406.40" y2="220.46" stroke="#A870A8" stroke-width="1" />
<line x1="411.30" y1="202.28" x2="411.30" y2="228.28" stroke="#A870A8" stroke-width="1" />
<line x1="408.50" y1="202.28" x2="414.10" y2="202.28" stroke="#A870A8" stroke-width="1" />
<line x1="408.50" y1="228.28" x2="414.10" y2="228.28" stroke="#A870A8" stroke-width="1" />
<line x1="434.40" y1="189.36" x2="434.40" y2="221.36" stroke="#A870A8" stroke-width="1" />
<line x1="431.60" y1="189.36" x2="437.20" y2="189.36" stroke="#A870A8" stroke-width="1" />
<line x1="431.60" y1="221.36" x2="437.20" y2="221.36" stroke="#A870A8" stroke-width="1" />
<line x1="465.20" y1="180.55" x2="465.20" y2="219.55" stroke="#A870A8" stroke-width="1" />
<line x1="462.40" y1="180.55" x2="468.00" y2="180.55" stroke="#A870A8" stroke-width="1" />
<line x1="462.40" y1="219.55" x2="468.00" y2="219.55" stroke="#A870A8" stroke-width="1" />
<line x1="519.10" y1="217.48" x2="519.10" y2="224.68" stroke="#A870A8" stroke-width="1" />
<line x1="516.30" y1="217.48" x2="521.90" y2="217.48" stroke="#A870A8" stroke-width="1" />
<line x1="516.30" y1="224.68" x2="521.90" y2="224.68" stroke="#A870A8" stroke-width="1" />
<line x1="573.00" y1="174.38" x2="573.00" y2="222.18" stroke="#A870A8" stroke-width="1" />
<line x1="570.20" y1="174.38" x2="575.80" y2="174.38" stroke="#A870A8" stroke-width="1" />
<line x1="570.20" y1="222.18" x2="575.80" y2="222.18" stroke="#A870A8" stroke-width="1" />
<polyline points="365.10,234.75 372.80,232.27 380.50,230.14 388.20,231.21 395.90,228.37 403.60,218.46 411.30,215.28 434.40,205.36 465.20,200.05 519.10,221.08 573.00,198.28" fill="none" stroke="#6E1B6E" stroke-width="1.2"/>
<circle cx="365.10" cy="234.75" r="1.6" fill="#6E1B6E"/>
<circle cx="372.80" cy="232.27" r="1.6" fill="#6E1B6E"/>
<circle cx="380.50" cy="230.14" r="1.6" fill="#6E1B6E"/>
<circle cx="388.20" cy="231.21" r="1.6" fill="#6E1B6E"/>
<circle cx="395.90" cy="228.37" r="1.6" fill="#6E1B6E"/>
<circle cx="403.60" cy="218.46" r="1.6" fill="#6E1B6E"/>
<circle cx="411.30" cy="215.28" r="1.6" fill="#6E1B6E"/>
<circle cx="434.40" cy="205.36" r="1.6" fill="#6E1B6E"/>
<circle cx="465.20" cy="200.05" r="1.6" fill="#6E1B6E"/>
<circle cx="519.10" cy="221.08" r="1.6" fill="#6E1B6E"/>
<circle cx="573.00" cy="198.28" r="1.6" fill="#6E1B6E"/>
<polygon points="359.45,224.35 360.05,225.97 361.78,226.04 360.43,227.12 360.89,228.78 359.45,227.83 358.01,228.78 358.47,227.12 357.12,226.04 358.85,225.97" fill="#111"/>
<polygon points="365.55,224.35 366.15,225.97 367.88,226.04 366.53,227.12 366.99,228.78 365.55,227.83 364.11,228.78 364.57,227.12 363.22,226.04 364.95,225.97" fill="#111"/>
<polygon points="371.65,224.35 372.25,225.97 373.98,226.04 372.63,227.12 373.09,228.78 371.65,227.83 370.21,228.78 370.67,227.12 369.32,226.04 371.05,225.97" fill="#111"/>
<polygon points="372.00,216.45 372.60,218.07 374.33,218.14 372.98,219.22 373.44,220.88 372.00,219.93 370.56,220.88 371.02,219.22 369.67,218.14 371.40,218.07" fill="#111"/>
<polygon points="378.15,220.65 378.75,222.27 380.48,222.34 379.13,223.42 379.59,225.08 378.15,224.13 376.71,225.08 377.17,223.42 375.82,222.34 377.55,222.27" fill="#111"/>
<polygon points="383.35,220.65 383.95,222.27 385.68,222.34 384.33,223.42 384.79,225.08 383.35,224.13 381.91,225.08 382.37,223.42 381.02,222.34 382.75,222.27" fill="#111"/>
<polygon points="386.35,213.95 386.95,215.57 388.68,215.64 387.33,216.72 387.79,218.38 386.35,217.43 384.91,218.38 385.37,216.72 384.02,215.64 385.75,215.57" fill="#111"/>
<polygon points="392.30,213.95 392.90,215.57 394.63,215.64 393.28,216.72 393.74,218.38 392.30,217.43 390.86,218.38 391.32,216.72 389.97,215.64 391.70,215.57" fill="#111"/>
<polygon points="398.25,213.95 398.85,215.57 400.58,215.64 399.23,216.72 399.69,218.38 398.25,217.43 396.81,218.38 397.27,216.72 395.92,215.64 397.65,215.57" fill="#111"/>
<polygon points="396.75,205.75 397.35,207.37 399.08,207.44 397.73,208.52 398.19,210.18 396.75,209.23 395.31,210.18 395.77,208.52 394.42,207.44 396.15,207.37" fill="#111"/>
<polygon points="402.45,205.75 403.05,207.37 404.78,207.44 403.43,208.52 403.89,210.18 402.45,209.23 401.01,210.18 401.47,208.52 400.12,207.44 401.85,207.37" fill="#111"/>
<polygon points="408.15,205.75 408.75,207.37 410.48,207.44 409.13,208.52 409.59,210.18 408.15,209.23 406.71,210.18 407.17,208.52 405.82,207.44 407.55,207.37" fill="#111"/>
<polygon points="406.15,194.65 406.75,196.27 408.48,196.34 407.13,197.42 407.59,199.08 406.15,198.13 404.71,199.08 405.17,197.42 403.82,196.34 405.55,196.27" fill="#111"/>
<polygon points="411.75,194.65 412.35,196.27 414.08,196.34 412.73,197.42 413.19,199.08 411.75,198.13 410.31,199.08 410.77,197.42 409.42,196.34 411.15,196.27" fill="#111"/>
<polygon points="417.35,194.65 417.95,196.27 419.68,196.34 418.33,197.42 418.79,199.08 417.35,198.13 415.91,199.08 416.37,197.42 415.02,196.34 416.75,196.27" fill="#111"/>
<rect x="594.2" y="111.3" width="51.4" height="30.9" rx="1.5" fill="#fff" stroke="#ddd" stroke-width="0.8"/>
<rect x="594.8" y="114.60" width="17.1" height="3.8" fill="#8FC0F2"/>
<text x="615.00" y="119.80" font-size="9.6" text-anchor="start" font-weight="normal" font-style="normal" fill="#222" >4°C</text>
<rect x="594.8" y="124.40" width="17.1" height="3.8" fill="#FDB765"/>
<text x="615.00" y="129.60" font-size="9.6" text-anchor="start" font-weight="normal" font-style="normal" fill="#222" >17°C</text>
<rect x="594.8" y="134.20" width="17.1" height="3.8" fill="#6E1B6E"/>
<text x="615.00" y="139.40" font-size="9.6" text-anchor="start" font-weight="normal" font-style="normal" fill="#222" >30°C</text>
<rect x="30.80" y="335.50" width="117.99" height="121.80" fill="#A3F8DE"/>
<polygon points="30.80,453.77 35.17,455.35 39.54,455.23 43.91,442.32 48.28,453.16 52.65,455.35 57.02,453.40 70.13,453.40 87.61,452.67 118.20,452.67 148.79,435.13 148.79,457.30 30.80,457.30" fill="#609ECA"/>
<polyline points="30.80,453.77 35.17,455.35 39.54,455.23 43.91,442.32 48.28,453.16 52.65,455.35 57.02,453.40 70.13,453.40 87.61,452.67 118.20,452.67 148.79,435.13" fill="none" stroke="#5691C2" stroke-width="0.9" stroke-linejoin="round"/>
<polygon points="30.80,455.11 35.17,456.20 39.54,456.33 43.91,443.90 48.28,454.38 52.65,456.33 57.02,454.25 70.13,454.25 87.61,453.52 118.20,453.28 148.79,438.30 148.79,457.30 30.80,457.30" fill="#B390D0"/>
<polygon points="30.80,455.35 35.17,456.45 39.54,456.57 43.91,444.51 48.28,454.62 52.65,456.57 57.02,454.50 70.13,454.50 87.61,453.89 118.20,453.65 148.79,441.47 148.79,457.30 30.80,457.30" fill="#FDD1DB"/>
<polygon points="30.80,456.57 35.17,456.57 39.54,456.57 43.91,456.57 48.28,456.57 52.65,456.57 57.02,456.57 70.13,456.57 87.61,456.57 118.20,456.57 148.79,456.57 148.79,457.30 30.80,457.30" fill="#5EB564"/>
<rect x="30.80" y="463.20" width="117.99" height="121.80" fill="#A3F8DE"/>
<polygon points="30.80,584.39 35.17,581.83 39.54,567.95 43.91,553.09 48.28,556.38 52.65,550.29 57.02,530.68 70.13,543.59 87.61,515.09 118.20,526.05 148.79,520.45 148.79,585.00 30.80,585.00" fill="#609ECA"/>
<polyline points="30.80,584.39 35.17,581.83 39.54,567.95 43.91,553.09 48.28,556.38 52.65,550.29 57.02,530.68 70.13,543.59 87.61,515.09 118.20,526.05 148.79,520.45" fill="none" stroke="#5691C2" stroke-width="0.9" stroke-linejoin="round"/>
<polygon points="30.80,584.63 35.17,582.32 39.54,572.33 43.91,562.35 48.28,575.62 52.65,581.35 57.02,567.10 70.13,581.35 87.61,580.37 118.20,578.42 148.79,568.68 148.79,585.00 30.80,585.00" fill="#B390D0"/>
<polygon points="30.80,584.76 35.17,582.56 39.54,572.58 43.91,562.59 48.28,575.87 52.65,581.59 57.02,567.34 70.13,581.59 87.61,580.74 118.20,578.79 148.79,574.04 148.79,585.00 30.80,585.00" fill="#FDD1DB"/>
<polygon points="30.80,584.39 35.17,584.27 39.54,584.27 43.91,584.27 48.28,584.27 52.65,584.27 57.02,584.27 70.13,584.15 87.61,583.90 118.20,583.54 148.79,584.03 148.79,585.00 30.80,585.00" fill="#5EB564"/>
<rect x="30.80" y="591.00" width="117.99" height="121.20" fill="#A3F8DE"/>
<polygon points="30.80,697.41 35.17,692.81 39.54,653.42 43.91,681.05 48.28,656.45 52.65,630.27 57.02,622.51 70.13,619.36 87.61,625.06 118.20,626.15 148.79,604.94 148.79,712.20 30.80,712.20" fill="#609ECA"/>
<polyline points="30.80,697.41 35.17,692.81 39.54,653.42 43.91,681.05 48.28,656.45 52.65,630.27 57.02,622.51 70.13,619.36 87.61,625.06 118.20,626.15 148.79,604.94" fill="none" stroke="#5691C2" stroke-width="0.9" stroke-linejoin="round"/>
<polygon points="30.80,699.72 35.17,694.02 39.54,676.08 43.91,693.29 48.28,679.84 52.65,699.11 57.02,700.56 70.13,700.93 87.61,704.32 118.20,680.08 148.79,683.11 148.79,712.20 30.80,712.20" fill="#B390D0"/>
<polygon points="30.80,700.32 35.17,694.50 39.54,676.57 43.91,693.66 48.28,680.20 52.65,699.72 57.02,701.17 70.13,701.53 87.61,704.93 118.20,698.87 148.79,696.44 148.79,712.20 30.80,712.20" fill="#FDD1DB"/>
<polygon points="30.80,710.14 35.17,704.93 39.54,698.87 43.91,702.14 48.28,702.14 52.65,705.53 57.02,704.20 70.13,705.17 87.61,707.23 118.20,702.50 148.79,709.17 148.79,712.20 30.80,712.20" fill="#5EB564"/>
<rect x="160.50" y="335.50" width="126.36" height="121.80" fill="#F4E5C7"/>
<polygon points="160.50,453.89 165.18,453.65 169.86,453.28 174.54,453.77 179.22,453.89 183.90,454.01 188.58,454.01 202.62,454.13 221.34,454.25 254.10,454.25 286.86,454.13 286.86,457.30 160.50,457.30" fill="#D9A3DC"/>
<polygon points="160.50,455.59 165.18,455.59 169.86,455.59 174.54,455.59 179.22,455.59 183.90,455.59 188.58,455.59 202.62,455.59 221.34,455.59 254.10,455.59 286.86,455.59 286.86,457.30 160.50,457.30" fill="#F6C94A"/>
<polygon points="160.50,456.33 165.18,456.33 169.86,456.33 174.54,456.33 179.22,456.33 183.90,456.33 188.58,456.33 202.62,456.33 221.34,456.33 254.10,456.33 286.86,456.33 286.86,457.30 160.50,457.30" fill="#C9875A"/>
<rect x="160.50" y="463.20" width="126.36" height="121.80" fill="#F4E5C7"/>
<polygon points="160.50,580.98 165.18,580.86 169.86,580.37 174.54,579.64 179.22,580.13 183.90,581.59 188.58,582.08 202.62,582.56 221.34,582.81 254.10,582.81 286.86,582.69 286.86,585.00 160.50,585.00" fill="#D9A3DC"/>
<polygon points="160.50,583.17 165.18,583.17 169.86,583.05 174.54,582.69 179.22,583.05 183.90,583.54 188.58,583.78 202.62,584.03 221.34,584.03 254.10,584.03 286.86,584.03 286.86,585.00 160.50,585.00" fill="#F6C94A"/>
<polygon points="160.50,584.15 165.18,584.15 169.86,584.15 174.54,584.15 179.22,584.15 183.90,584.15 188.58,584.15 202.62,584.15 221.34,584.15 254.10,584.15 286.86,584.15 286.86,585.00 160.50,585.00" fill="#C9875A"/>
<rect x="160.50" y="591.00" width="126.36" height="121.20" fill="#F4E5C7"/>
<polygon points="160.50,707.84 165.18,708.56 169.86,706.75 174.54,709.17 179.22,707.84 183.90,710.02 188.58,711.11 202.62,710.50 221.34,711.11 254.10,711.23 286.86,710.99 286.86,712.20 160.50,712.20" fill="#D9A3DC"/>
<polygon points="160.50,710.50 165.18,710.38 169.86,709.29 174.54,710.99 179.22,710.62 183.90,711.35 188.58,711.59 202.62,711.59 221.34,711.59 254.10,711.59 286.86,711.59 286.86,712.20 160.50,712.20" fill="#F6C94A"/>
<polygon points="160.50,711.23 165.18,711.11 169.86,710.50 174.54,711.47 179.22,711.23 183.90,711.59 188.58,711.72 202.62,711.72 221.34,711.72 254.10,711.72 286.86,711.72 286.86,712.20 160.50,712.20" fill="#C9875A"/>
<rect x="25.5" y="329.5" width="267" height="383" fill="none" stroke="#4a4a4a" stroke-width="1"/>
<line x1="154.50" y1="329.50" x2="154.50" y2="712.50" stroke="#4a4a4a" stroke-width="1" />
<line x1="25.50" y1="457.50" x2="292.50" y2="457.50" stroke="#4a4a4a" stroke-width="1" />
<line x1="25.50" y1="585.50" x2="292.50" y2="585.50" stroke="#4a4a4a" stroke-width="1" />
<text x="70.60" y="327.40" font-size="8.7" text-anchor="start" font-weight="normal" font-style="normal" fill="#222" letter-spacing="0.85">Bacteria</text>
<text x="211.40" y="327.40" font-size="8.7" text-anchor="start" font-weight="normal" font-style="normal" fill="#222" letter-spacing="0.85">Fungi</text>
<text x="80.30" y="343.90" font-size="8.8" text-anchor="start" font-weight="normal" font-style="normal" fill="#111" letter-spacing="0.6" xml:space="preserve">4 °C</text>
<text x="212.50" y="343.90" font-size="8.8" text-anchor="start" font-weight="normal" font-style="normal" fill="#111" letter-spacing="0.6" xml:space="preserve">4 °C</text>
<line x1="23.00" y1="457.30" x2="25.30" y2="457.30" stroke="#4a4a4a" stroke-width="1" />
<text x="23.00" y="460.40" font-size="8.6" text-anchor="end" font-weight="normal" font-style="normal" fill="#222" >0</text>
<line x1="23.00" y1="432.94" x2="25.30" y2="432.94" stroke="#4a4a4a" stroke-width="1" />
<text x="23.00" y="436.04" font-size="8.6" text-anchor="end" font-weight="normal" font-style="normal" fill="#222" >20</text>
<line x1="23.00" y1="408.58" x2="25.30" y2="408.58" stroke="#4a4a4a" stroke-width="1" />
<text x="23.00" y="411.68" font-size="8.6" text-anchor="end" font-weight="normal" font-style="normal" fill="#222" >40</text>
<line x1="23.00" y1="384.22" x2="25.30" y2="384.22" stroke="#4a4a4a" stroke-width="1" />
<text x="23.00" y="387.32" font-size="8.6" text-anchor="end" font-weight="normal" font-style="normal" fill="#222" >60</text>
<line x1="23.00" y1="359.86" x2="25.30" y2="359.86" stroke="#4a4a4a" stroke-width="1" />
<text x="23.00" y="362.96" font-size="8.6" text-anchor="end" font-weight="normal" font-style="normal" fill="#222" >80</text>
<line x1="23.00" y1="335.50" x2="25.30" y2="335.50" stroke="#4a4a4a" stroke-width="1" />
<text x="23.00" y="338.60" font-size="8.6" text-anchor="end" font-weight="normal" font-style="normal" fill="#222" >100</text>
<text x="0" y="0" font-size="8.2" letter-spacing="0.4" text-anchor="middle" fill="#222" transform="translate(7.4,392.90) rotate(-90)" xml:space="preserve">Relative abundance  (%)</text>
<text x="81.00" y="471.60" font-size="8.8" text-anchor="start" font-weight="normal" font-style="normal" fill="#111" letter-spacing="0.6" xml:space="preserve">17 °C</text>
<text x="211.00" y="471.60" font-size="8.8" text-anchor="start" font-weight="normal" font-style="normal" fill="#111" letter-spacing="0.6" xml:space="preserve">17 °C</text>
<line x1="23.00" y1="585.00" x2="25.30" y2="585.00" stroke="#4a4a4a" stroke-width="1" />
<text x="23.00" y="588.10" font-size="8.6" text-anchor="end" font-weight="normal" font-style="normal" fill="#222" >0</text>
<line x1="23.00" y1="560.64" x2="25.30" y2="560.64" stroke="#4a4a4a" stroke-width="1" />
<text x="23.00" y="563.74" font-size="8.6" text-anchor="end" font-weight="normal" font-style="normal" fill="#222" >20</text>
<line x1="23.00" y1="536.28" x2="25.30" y2="536.28" stroke="#4a4a4a" stroke-width="1" />
<text x="23.00" y="539.38" font-size="8.6" text-anchor="end" font-weight="normal" font-style="normal" fill="#222" >40</text>
<line x1="23.00" y1="511.92" x2="25.30" y2="511.92" stroke="#4a4a4a" stroke-width="1" />
<text x="23.00" y="515.02" font-size="8.6" text-anchor="end" font-weight="normal" font-style="normal" fill="#222" >60</text>
<line x1="23.00" y1="487.56" x2="25.30" y2="487.56" stroke="#4a4a4a" stroke-width="1" />
<text x="23.00" y="490.66" font-size="8.6" text-anchor="end" font-weight="normal" font-style="normal" fill="#222" >80</text>
<line x1="23.00" y1="463.20" x2="25.30" y2="463.20" stroke="#4a4a4a" stroke-width="1" />
<text x="23.00" y="466.30" font-size="8.6" text-anchor="end" font-weight="normal" font-style="normal" fill="#222" >100</text>
<text x="0" y="0" font-size="8.2" letter-spacing="0.4" text-anchor="middle" fill="#222" transform="translate(7.4,520.60) rotate(-90)" xml:space="preserve">Relative abundance  (%)</text>
<text x="78.40" y="599.40" font-size="8.8" text-anchor="start" font-weight="normal" font-style="normal" fill="#111" letter-spacing="0.6" xml:space="preserve">30 °C</text>
<text x="210.50" y="599.40" font-size="8.8" text-anchor="start" font-weight="normal" font-style="normal" fill="#111" letter-spacing="0.6" xml:space="preserve">30 °C</text>
<line x1="23.00" y1="712.20" x2="25.30" y2="712.20" stroke="#4a4a4a" stroke-width="1" />
<text x="23.00" y="715.30" font-size="8.6" text-anchor="end" font-weight="normal" font-style="normal" fill="#222" >0</text>
<line x1="23.00" y1="687.96" x2="25.30" y2="687.96" stroke="#4a4a4a" stroke-width="1" />
<text x="23.00" y="691.06" font-size="8.6" text-anchor="end" font-weight="normal" font-style="normal" fill="#222" >20</text>
<line x1="23.00" y1="663.72" x2="25.30" y2="663.72" stroke="#4a4a4a" stroke-width="1" />
<text x="23.00" y="666.82" font-size="8.6" text-anchor="end" font-weight="normal" font-style="normal" fill="#222" >40</text>
<line x1="23.00" y1="639.48" x2="25.30" y2="639.48" stroke="#4a4a4a" stroke-width="1" />
<text x="23.00" y="642.58" font-size="8.6" text-anchor="end" font-weight="normal" font-style="normal" fill="#222" >60</text>
<line x1="23.00" y1="615.24" x2="25.30" y2="615.24" stroke="#4a4a4a" stroke-width="1" />
<text x="23.00" y="618.34" font-size="8.6" text-anchor="end" font-weight="normal" font-style="normal" fill="#222" >80</text>
<line x1="23.00" y1="591.00" x2="25.30" y2="591.00" stroke="#4a4a4a" stroke-width="1" />
<text x="23.00" y="594.10" font-size="8.6" text-anchor="end" font-weight="normal" font-style="normal" fill="#222" >100</text>
<text x="0" y="0" font-size="8.2" letter-spacing="0.4" text-anchor="middle" fill="#222" transform="translate(7.4,648.10) rotate(-90)" xml:space="preserve">Relative abundance  (%)</text>
<line x1="30.80" y1="712.20" x2="30.80" y2="714.60" stroke="#4a4a4a" stroke-width="1" />
<text x="30.80" y="720.80" font-size="8.8" text-anchor="middle" font-weight="normal" font-style="normal" fill="#222" >1</text>
<line x1="35.17" y1="712.20" x2="35.17" y2="713.70" stroke="#4a4a4a" stroke-width="1" />
<line x1="39.54" y1="712.20" x2="39.54" y2="713.70" stroke="#4a4a4a" stroke-width="1" />
<line x1="43.91" y1="712.20" x2="43.91" y2="713.70" stroke="#4a4a4a" stroke-width="1" />
<line x1="48.28" y1="712.20" x2="48.28" y2="713.70" stroke="#4a4a4a" stroke-width="1" />
<line x1="52.65" y1="712.20" x2="52.65" y2="713.70" stroke="#4a4a4a" stroke-width="1" />
<line x1="57.02" y1="712.20" x2="57.02" y2="714.60" stroke="#4a4a4a" stroke-width="1" />
<text x="57.02" y="720.80" font-size="8.8" text-anchor="middle" font-weight="normal" font-style="normal" fill="#222" >7</text>
<line x1="70.13" y1="712.20" x2="70.13" y2="713.70" stroke="#4a4a4a" stroke-width="1" />
<line x1="87.61" y1="712.20" x2="87.61" y2="714.60" stroke="#4a4a4a" stroke-width="1" />
<text x="87.61" y="720.80" font-size="8.8" text-anchor="middle" font-weight="normal" font-style="normal" fill="#222" >14</text>
<line x1="118.20" y1="712.20" x2="118.20" y2="714.60" stroke="#4a4a4a" stroke-width="1" />
<text x="118.20" y="720.80" font-size="8.8" text-anchor="middle" font-weight="normal" font-style="normal" fill="#222" >21</text>
<line x1="148.79" y1="712.20" x2="148.79" y2="714.60" stroke="#4a4a4a" stroke-width="1" />
<text x="148.79" y="720.80" font-size="8.8" text-anchor="middle" font-weight="normal" font-style="normal" fill="#222" >28</text>
<text x="88.20" y="727.80" font-size="8.8" text-anchor="middle" font-weight="normal" font-style="normal" fill="#222" >Day</text>
<line x1="160.50" y1="712.20" x2="160.50" y2="714.60" stroke="#4a4a4a" stroke-width="1" />
<text x="160.50" y="720.80" font-size="8.8" text-anchor="middle" font-weight="normal" font-style="normal" fill="#222" >1</text>
<line x1="165.18" y1="712.20" x2="165.18" y2="713.70" stroke="#4a4a4a" stroke-width="1" />
<line x1="169.86" y1="712.20" x2="169.86" y2="713.70" stroke="#4a4a4a" stroke-width="1" />
<line x1="174.54" y1="712.20" x2="174.54" y2="713.70" stroke="#4a4a4a" stroke-width="1" />
<line x1="179.22" y1="712.20" x2="179.22" y2="713.70" stroke="#4a4a4a" stroke-width="1" />
<line x1="183.90" y1="712.20" x2="183.90" y2="713.70" stroke="#4a4a4a" stroke-width="1" />
<line x1="188.58" y1="712.20" x2="188.58" y2="714.60" stroke="#4a4a4a" stroke-width="1" />
<text x="188.58" y="720.80" font-size="8.8" text-anchor="middle" font-weight="normal" font-style="normal" fill="#222" >7</text>
<line x1="202.62" y1="712.20" x2="202.62" y2="713.70" stroke="#4a4a4a" stroke-width="1" />
<line x1="221.34" y1="712.20" x2="221.34" y2="714.60" stroke="#4a4a4a" stroke-width="1" />
<text x="221.34" y="720.80" font-size="8.8" text-anchor="middle" font-weight="normal" font-style="normal" fill="#222" >14</text>
<line x1="254.10" y1="712.20" x2="254.10" y2="714.60" stroke="#4a4a4a" stroke-width="1" />
<text x="254.10" y="720.80" font-size="8.8" text-anchor="middle" font-weight="normal" font-style="normal" fill="#222" >21</text>
<line x1="286.86" y1="712.20" x2="286.86" y2="714.60" stroke="#4a4a4a" stroke-width="1" />
<text x="286.86" y="720.80" font-size="8.8" text-anchor="middle" font-weight="normal" font-style="normal" fill="#222" >28</text>
<text x="222.08" y="727.80" font-size="8.8" text-anchor="middle" font-weight="normal" font-style="normal" fill="#222" >Day</text>
<rect x="3.3" y="732.7" width="152.7" height="55.6" fill="#fff" stroke="#d0d0d0" stroke-width="0.8"/>
<rect x="8.3" y="734.70" width="12.9" height="4.6" fill="#A3F8DE"/>
<text x="25.80" y="740.00" font-size="8.2" text-anchor="start" font-weight="normal" font-style="italic" fill="#222" letter-spacing="0.4">Fructilactobacillus</text>
<text x="25.80" y="746.00" font-size="8.2" text-anchor="start" font-weight="normal" font-style="italic" fill="#222" letter-spacing="0.4">sanfranciscensis</text>
<rect x="8.3" y="749.90" width="12.9" height="4.6" fill="#609ECA"/>
<text x="25.80" y="755.20" font-size="8.2" text-anchor="start" font-weight="normal" font-style="italic" fill="#222" letter-spacing="0.4">Acetobacter cerevisiae|malorum</text>
<rect x="8.3" y="758.90" width="12.9" height="4.6" fill="#B390D0"/>
<text x="25.80" y="764.20" font-size="8.2" text-anchor="start" font-weight="normal" font-style="italic" fill="#222" letter-spacing="0.4">Levilactobacillus brevis</text>
<rect x="8.3" y="767.60" width="12.9" height="4.6" fill="#FDD1DB"/>
<text x="25.80" y="772.90" font-size="8.2" text-anchor="start" font-weight="normal" font-style="italic" fill="#222" letter-spacing="0.4">Furfurilactobacillus rossiae</text>
<rect x="8.3" y="776.40" width="12.9" height="4.6" fill="#5EB564"/>
<text x="25.80" y="781.70" font-size="8.2" text-anchor="start" font-weight="normal" font-style="italic" fill="#222" letter-spacing="0.4">Pediococcus parvulus</text>
<rect x="156.8" y="732.8" width="134.6" height="100.5" fill="#fff" stroke="#d0d0d0" stroke-width="0.8"/>
<rect x="158.7" y="734.50" width="12.8" height="4.6" fill="#F4E5C7"/>
<text x="176.70" y="739.80" font-size="8.2" text-anchor="start" font-weight="normal" font-style="italic" fill="#222" letter-spacing="0.4">Saccharomyces cerevisiae</text>
<rect x="158.7" y="743.45" width="12.8" height="4.6" fill="#D8A0DC"/>
<text x="176.70" y="748.75" font-size="8.2" text-anchor="start" font-weight="normal" font-style="italic" fill="#222" letter-spacing="0.4">Alternaria sp.</text>
<rect x="158.7" y="752.40" width="12.8" height="4.6" fill="#FFFBD0"/>
<text x="176.70" y="757.70" font-size="8.2" text-anchor="start" font-weight="normal" font-style="italic" fill="#222" letter-spacing="0.4">Aureobasidium pullulans</text>
<rect x="158.7" y="761.35" width="12.8" height="4.6" fill="#FCD04E"/>
<text x="176.70" y="766.65" font-size="8.2" text-anchor="start" font-weight="normal" font-style="italic" fill="#222" letter-spacing="0.4">Pleosporaceae sp.</text>
<rect x="158.7" y="770.30" width="12.8" height="4.6" fill="#B97C5E"/>
<text x="176.70" y="775.60" font-size="8.2" text-anchor="start" font-weight="normal" font-style="italic" fill="#222" letter-spacing="0.4">Cladosporium herbarum</text>
<rect x="158.7" y="779.25" width="12.8" height="4.6" fill="#F6ABA0"/>
<text x="176.70" y="784.55" font-size="8.2" text-anchor="start" font-weight="normal" font-style="italic" fill="#222" letter-spacing="0.4">Alternaria rosae</text>
<rect x="158.7" y="788.20" width="12.8" height="4.6" fill="#D98B58"/>
<text x="176.70" y="793.50" font-size="8.2" text-anchor="start" font-weight="normal" font-style="italic" fill="#222" letter-spacing="0.4">Pyrenophora tritici-repentis</text>
<rect x="158.7" y="797.15" width="12.8" height="4.6" fill="#FFD3DE"/>
<text x="176.70" y="802.45" font-size="8.2" text-anchor="start" font-weight="normal" font-style="italic" fill="#222" letter-spacing="0.4">Pyrenophora variabilis</text>
<rect x="158.7" y="806.10" width="12.8" height="4.6" fill="#A5D4F5"/>
<text x="176.70" y="811.40" font-size="8.2" text-anchor="start" font-weight="normal" font-style="italic" fill="#222" letter-spacing="0.4">Stemphylium vesicarium</text>
<rect x="158.7" y="815.05" width="12.8" height="4.6" fill="#9A55B5"/>
<text x="176.70" y="820.35" font-size="8.2" text-anchor="start" font-weight="normal" font-style="italic" fill="#222" letter-spacing="0.4">Parastagonospora sp.</text>
<rect x="158.7" y="824.00" width="12.8" height="4.6" fill="#D5D5D5"/>
<text x="176.70" y="829.30" font-size="8.2" text-anchor="start" font-weight="normal" font-style="italic" fill="#222" letter-spacing="0.4">Other</text>
<line x1="340.20" y1="338.30" x2="352.80" y2="338.30" stroke="#333" stroke-width="1" />
<line x1="340.20" y1="358.94" x2="352.80" y2="358.94" stroke="#333" stroke-width="1" />
<line x1="340.20" y1="338.30" x2="340.20" y2="358.94" stroke="#333" stroke-width="1" />
<line x1="332.40" y1="348.62" x2="340.20" y2="348.62" stroke="#333" stroke-width="1" />
<line x1="332.40" y1="379.58" x2="352.80" y2="379.58" stroke="#333" stroke-width="1" />
<line x1="332.40" y1="348.62" x2="332.40" y2="379.58" stroke="#333" stroke-width="1" />
<line x1="319.30" y1="364.10" x2="332.40" y2="364.10" stroke="#333" stroke-width="1" />
<line x1="319.30" y1="400.22" x2="352.80" y2="400.22" stroke="#333" stroke-width="1" />
<line x1="319.30" y1="364.10" x2="319.30" y2="400.22" stroke="#333" stroke-width="1" />
<line x1="330.20" y1="420.86" x2="352.80" y2="420.86" stroke="#333" stroke-width="1" />
<line x1="330.20" y1="441.50" x2="352.80" y2="441.50" stroke="#333" stroke-width="1" />
<line x1="330.20" y1="420.86" x2="330.20" y2="441.50" stroke="#333" stroke-width="1" />
<line x1="314.00" y1="382.16" x2="319.30" y2="382.16" stroke="#333" stroke-width="1" />
<line x1="314.00" y1="431.18" x2="330.20" y2="431.18" stroke="#333" stroke-width="1" />
<line x1="314.00" y1="382.16" x2="314.00" y2="431.18" stroke="#333" stroke-width="1" />
<line x1="340.70" y1="462.14" x2="352.80" y2="462.14" stroke="#333" stroke-width="1" />
<line x1="340.70" y1="482.78" x2="352.80" y2="482.78" stroke="#333" stroke-width="1" />
<line x1="340.70" y1="462.14" x2="340.70" y2="482.78" stroke="#333" stroke-width="1" />
<line x1="337.40" y1="472.46" x2="340.70" y2="472.46" stroke="#333" stroke-width="1" />
<line x1="337.40" y1="503.42" x2="352.80" y2="503.42" stroke="#333" stroke-width="1" />
<line x1="337.40" y1="472.46" x2="337.40" y2="503.42" stroke="#333" stroke-width="1" />
<line x1="311.20" y1="406.67" x2="314.00" y2="406.67" stroke="#333" stroke-width="1" />
<line x1="311.20" y1="487.94" x2="337.40" y2="487.94" stroke="#333" stroke-width="1" />
<line x1="311.20" y1="406.67" x2="311.20" y2="487.94" stroke="#333" stroke-width="1" />
<line x1="340.20" y1="524.06" x2="352.80" y2="524.06" stroke="#333" stroke-width="1" />
<line x1="340.20" y1="544.70" x2="352.80" y2="544.70" stroke="#333" stroke-width="1" />
<line x1="340.20" y1="524.06" x2="340.20" y2="544.70" stroke="#333" stroke-width="1" />
<line x1="337.90" y1="534.38" x2="340.20" y2="534.38" stroke="#333" stroke-width="1" />
<line x1="337.90" y1="565.34" x2="352.80" y2="565.34" stroke="#333" stroke-width="1" />
<line x1="337.90" y1="534.38" x2="337.90" y2="565.34" stroke="#333" stroke-width="1" />
<line x1="319.50" y1="549.86" x2="337.90" y2="549.86" stroke="#333" stroke-width="1" />
<line x1="319.50" y1="585.98" x2="352.80" y2="585.98" stroke="#333" stroke-width="1" />
<line x1="319.50" y1="549.86" x2="319.50" y2="585.98" stroke="#333" stroke-width="1" />
<line x1="306.40" y1="447.31" x2="311.20" y2="447.31" stroke="#333" stroke-width="1" />
<line x1="306.40" y1="567.92" x2="319.50" y2="567.92" stroke="#333" stroke-width="1" />
<line x1="306.40" y1="447.31" x2="306.40" y2="567.92" stroke="#333" stroke-width="1" />
<line x1="339.30" y1="606.62" x2="352.80" y2="606.62" stroke="#333" stroke-width="1" />
<line x1="339.30" y1="627.26" x2="352.80" y2="627.26" stroke="#333" stroke-width="1" />
<line x1="339.30" y1="606.62" x2="339.30" y2="627.26" stroke="#333" stroke-width="1" />
<line x1="327.60" y1="616.94" x2="339.30" y2="616.94" stroke="#333" stroke-width="1" />
<line x1="327.60" y1="647.90" x2="352.80" y2="647.90" stroke="#333" stroke-width="1" />
<line x1="327.60" y1="616.94" x2="327.60" y2="647.90" stroke="#333" stroke-width="1" />
<line x1="325.20" y1="632.42" x2="327.60" y2="632.42" stroke="#333" stroke-width="1" />
<line x1="325.20" y1="668.54" x2="352.80" y2="668.54" stroke="#333" stroke-width="1" />
<line x1="325.20" y1="632.42" x2="325.20" y2="668.54" stroke="#333" stroke-width="1" />
<line x1="330.20" y1="689.18" x2="352.80" y2="689.18" stroke="#333" stroke-width="1" />
<line x1="330.20" y1="709.82" x2="352.80" y2="709.82" stroke="#333" stroke-width="1" />
<line x1="330.20" y1="689.18" x2="330.20" y2="709.82" stroke="#333" stroke-width="1" />
<line x1="333.10" y1="730.46" x2="352.80" y2="730.46" stroke="#333" stroke-width="1" />
<line x1="333.10" y1="751.10" x2="352.80" y2="751.10" stroke="#333" stroke-width="1" />
<line x1="333.10" y1="730.46" x2="333.10" y2="751.10" stroke="#333" stroke-width="1" />
<line x1="327.10" y1="699.50" x2="330.20" y2="699.50" stroke="#333" stroke-width="1" />
<line x1="327.10" y1="740.78" x2="333.10" y2="740.78" stroke="#333" stroke-width="1" />
<line x1="327.10" y1="699.50" x2="327.10" y2="740.78" stroke="#333" stroke-width="1" />
<line x1="322.90" y1="650.48" x2="325.20" y2="650.48" stroke="#333" stroke-width="1" />
<line x1="322.90" y1="720.14" x2="327.10" y2="720.14" stroke="#333" stroke-width="1" />
<line x1="322.90" y1="650.48" x2="322.90" y2="720.14" stroke="#333" stroke-width="1" />
<line x1="299.30" y1="507.61" x2="306.40" y2="507.61" stroke="#333" stroke-width="1" />
<line x1="299.30" y1="685.31" x2="322.90" y2="685.31" stroke="#333" stroke-width="1" />
<line x1="299.30" y1="507.61" x2="299.30" y2="685.31" stroke="#333" stroke-width="1" />
<line x1="452.40" y1="317.50" x2="452.40" y2="772.20" stroke="#e2e2e2" stroke-width="1" />
<line x1="463.45" y1="317.50" x2="463.45" y2="772.20" stroke="#e2e2e2" stroke-width="1" />
<line x1="474.50" y1="317.50" x2="474.50" y2="772.20" stroke="#e2e2e2" stroke-width="1" />
<line x1="485.55" y1="317.50" x2="485.55" y2="772.20" stroke="#e2e2e2" stroke-width="1" />
<line x1="496.60" y1="317.50" x2="496.60" y2="772.20" stroke="#e2e2e2" stroke-width="1" />
<line x1="507.65" y1="317.50" x2="507.65" y2="772.20" stroke="#e2e2e2" stroke-width="1" />
<line x1="518.70" y1="317.50" x2="518.70" y2="772.20" stroke="#e2e2e2" stroke-width="1" />
<line x1="529.75" y1="317.50" x2="529.75" y2="772.20" stroke="#e2e2e2" stroke-width="1" />
<line x1="540.80" y1="317.50" x2="540.80" y2="772.20" stroke="#e2e2e2" stroke-width="1" />
<line x1="551.85" y1="317.50" x2="551.85" y2="772.20" stroke="#e2e2e2" stroke-width="1" />
<line x1="562.90" y1="317.50" x2="562.90" y2="772.20" stroke="#e2e2e2" stroke-width="1" />
<line x1="573.95" y1="317.50" x2="573.95" y2="772.20" stroke="#e2e2e2" stroke-width="1" />
<line x1="585.00" y1="317.50" x2="585.00" y2="772.20" stroke="#e2e2e2" stroke-width="1" />
<line x1="596.05" y1="317.50" x2="596.05" y2="772.20" stroke="#e2e2e2" stroke-width="1" />
<line x1="607.10" y1="317.50" x2="607.10" y2="772.20" stroke="#e2e2e2" stroke-width="1" />
<line x1="618.15" y1="317.50" x2="618.15" y2="772.20" stroke="#e2e2e2" stroke-width="1" />
<line x1="629.20" y1="317.50" x2="629.20" y2="772.20" stroke="#e2e2e2" stroke-width="1" />
<line x1="640.25" y1="317.50" x2="640.25" y2="772.20" stroke="#e2e2e2" stroke-width="1" />
<line x1="651.30" y1="317.50" x2="651.30" y2="772.20" stroke="#e2e2e2" stroke-width="1" />
<line x1="662.35" y1="317.50" x2="662.35" y2="772.20" stroke="#e2e2e2" stroke-width="1" />
<line x1="673.40" y1="317.50" x2="673.40" y2="772.20" stroke="#e2e2e2" stroke-width="1" />
<line x1="441.50" y1="338.30" x2="684.40" y2="338.30" stroke="#e2e2e2" stroke-width="1" />
<line x1="441.50" y1="358.94" x2="684.40" y2="358.94" stroke="#e2e2e2" stroke-width="1" />
<line x1="441.50" y1="379.58" x2="684.40" y2="379.58" stroke="#e2e2e2" stroke-width="1" />
<line x1="441.50" y1="400.22" x2="684.40" y2="400.22" stroke="#e2e2e2" stroke-width="1" />
<line x1="441.50" y1="420.86" x2="684.40" y2="420.86" stroke="#e2e2e2" stroke-width="1" />
<line x1="441.50" y1="441.50" x2="684.40" y2="441.50" stroke="#e2e2e2" stroke-width="1" />
<line x1="441.50" y1="462.14" x2="684.40" y2="462.14" stroke="#e2e2e2" stroke-width="1" />
<line x1="441.50" y1="482.78" x2="684.40" y2="482.78" stroke="#e2e2e2" stroke-width="1" />
<line x1="441.50" y1="503.42" x2="684.40" y2="503.42" stroke="#e2e2e2" stroke-width="1" />
<line x1="441.50" y1="524.06" x2="684.40" y2="524.06" stroke="#e2e2e2" stroke-width="1" />
<line x1="441.50" y1="544.70" x2="684.40" y2="544.70" stroke="#e2e2e2" stroke-width="1" />
<line x1="441.50" y1="565.34" x2="684.40" y2="565.34" stroke="#e2e2e2" stroke-width="1" />
<line x1="441.50" y1="585.98" x2="684.40" y2="585.98" stroke="#e2e2e2" stroke-width="1" />
<line x1="441.50" y1="606.62" x2="684.40" y2="606.62" stroke="#e2e2e2" stroke-width="1" />
<line x1="441.50" y1="627.26" x2="684.40" y2="627.26" stroke="#e2e2e2" stroke-width="1" />
<line x1="441.50" y1="647.90" x2="684.40" y2="647.90" stroke="#e2e2e2" stroke-width="1" />
<line x1="441.50" y1="668.54" x2="684.40" y2="668.54" stroke="#e2e2e2" stroke-width="1" />
<line x1="441.50" y1="689.18" x2="684.40" y2="689.18" stroke="#e2e2e2" stroke-width="1" />
<line x1="441.50" y1="709.82" x2="684.40" y2="709.82" stroke="#e2e2e2" stroke-width="1" />
<line x1="441.50" y1="730.46" x2="684.40" y2="730.46" stroke="#e2e2e2" stroke-width="1" />
<line x1="441.50" y1="751.10" x2="684.40" y2="751.10" stroke="#e2e2e2" stroke-width="1" />
<circle cx="463.45" cy="338.30" r="4.42" fill="#C966C9" stroke="#00EBFF" stroke-width="1.2"/>
<circle cx="474.50" cy="338.30" r="4.13" fill="#C966C9"/>
<circle cx="485.55" cy="338.30" r="4.12" fill="#C966C9" stroke="#00EBFF" stroke-width="1.2"/>
<circle cx="496.60" cy="338.30" r="3.83" fill="#E7CCE9"/>
<circle cx="507.65" cy="338.30" r="3.83" fill="#E7CCE9"/>
<circle cx="518.70" cy="338.30" r="4.12" fill="#C966C9" stroke="#00EBFF" stroke-width="1.2"/>
<circle cx="529.75" cy="338.30" r="4.12" fill="#C966C9" stroke="#00EBFF" stroke-width="1.2"/>
<circle cx="540.80" cy="338.30" r="2.65" fill="#E7CCE9"/>
<circle cx="551.85" cy="338.30" r="3.54" fill="#C4C9D7"/>
<circle cx="562.90" cy="338.30" r="3.83" fill="#C4C9D7"/>
<circle cx="573.95" cy="338.30" r="3.24" fill="#C4C9D7"/>
<circle cx="585.00" cy="338.30" r="4.42" fill="#364A80"/>
<circle cx="596.05" cy="338.30" r="3.82" fill="#364A80" stroke="#00EBFF" stroke-width="1.2"/>
<circle cx="607.10" cy="338.30" r="3.82" fill="#364A80" stroke="#00EBFF" stroke-width="1.2"/>
<circle cx="618.15" cy="338.30" r="3.24" fill="#E7CCE9"/>
<circle cx="629.20" cy="338.30" r="2.36" fill="#E7CCE9"/>
<circle cx="640.25" cy="338.30" r="2.36" fill="#E7CCE9"/>
<circle cx="651.30" cy="338.30" r="4.72" fill="#364A80"/>
<circle cx="662.35" cy="338.30" r="1.77" fill="#C4C9D7"/>
<circle cx="673.40" cy="338.30" r="3.24" fill="#C4C9D7"/>
<circle cx="452.40" cy="358.94" r="4.42" fill="#C966C9" stroke="#00EBFF" stroke-width="1.2"/>
<circle cx="474.50" cy="358.94" r="3.82" fill="#C966C9" stroke="#00EBFF" stroke-width="1.2"/>
<circle cx="485.55" cy="358.94" r="3.82" fill="#C966C9" stroke="#00EBFF" stroke-width="1.2"/>
<circle cx="496.60" cy="358.94" r="2.95" fill="#E7CCE9"/>
<circle cx="507.65" cy="358.94" r="3.24" fill="#E7CCE9"/>
<circle cx="518.70" cy="358.94" r="3.24" fill="#E7CCE9"/>
<circle cx="529.75" cy="358.94" r="2.65" fill="#E7CCE9"/>
<circle cx="540.80" cy="358.94" r="2.36" fill="#E7CCE9"/>
<circle cx="551.85" cy="358.94" r="2.06" fill="#C4C9D7"/>
<circle cx="562.90" cy="358.94" r="1.77" fill="#C4C9D7"/>
<circle cx="573.95" cy="358.94" r="1.18" fill="#C4C9D7"/>
<circle cx="585.00" cy="358.94" r="3.53" fill="#364A80" stroke="#00EBFF" stroke-width="1.2"/>
<circle cx="596.05" cy="358.94" r="3.53" fill="#364A80" stroke="#00EBFF" stroke-width="1.2"/>
<circle cx="607.10" cy="358.94" r="3.82" fill="#364A80" stroke="#00EBFF" stroke-width="1.2"/>
<circle cx="618.15" cy="358.94" r="2.65" fill="#E7CCE9"/>
<circle cx="629.20" cy="358.94" r="2.36" fill="#E7CCE9"/>
<circle cx="640.25" cy="358.94" r="0.89" fill="#E7CCE9"/>
<circle cx="651.30" cy="358.94" r="1.18" fill="#C4C9D7"/>
<circle cx="662.35" cy="358.94" r="2.06" fill="#C4C9D7"/>
<circle cx="673.40" cy="358.94" r="3.54" fill="#C4C9D7"/>
<circle cx="452.40" cy="379.58" r="4.13" fill="#C966C9"/>
<circle cx="463.45" cy="379.58" r="4.12" fill="#C966C9" stroke="#00EBFF" stroke-width="1.2"/>
<circle cx="485.55" cy="379.58" r="4.71" fill="#C966C9" stroke="#00EBFF" stroke-width="1.2"/>
<circle cx="496.60" cy="379.58" r="2.95" fill="#E7CCE9"/>
<circle cx="507.65" cy="379.58" r="4.42" fill="#C966C9"/>
<circle cx="518.70" cy="379.58" r="4.13" fill="#C966C9"/>
<circle cx="529.75" cy="379.58" r="3.53" fill="#C966C9" stroke="#00EBFF" stroke-width="1.2"/>
<circle cx="540.80" cy="379.58" r="2.65" fill="#C4C9D7"/>
<circle cx="551.85" cy="379.58" r="3.54" fill="#C4C9D7"/>
<circle cx="562.90" cy="379.58" r="4.42" fill="#364A80" stroke="#00EBFF" stroke-width="1.2"/>
<circle cx="573.95" cy="379.58" r="4.42" fill="#364A80" stroke="#00EBFF" stroke-width="1.2"/>
<circle cx="585.00" cy="379.58" r="4.42" fill="#364A80" stroke="#00EBFF" stroke-width="1.2"/>
<circle cx="596.05" cy="379.58" r="3.82" fill="#364A80" stroke="#00EBFF" stroke-width="1.2"/>
<circle cx="607.10" cy="379.58" r="3.53" fill="#364A80" stroke="#00EBFF" stroke-width="1.2"/>
<circle cx="618.15" cy="379.58" r="3.23" fill="#C966C9" stroke="#00EBFF" stroke-width="1.2"/>
<circle cx="629.20" cy="379.58" r="2.95" fill="#E7CCE9"/>
<circle cx="640.25" cy="379.58" r="2.36" fill="#E7CCE9"/>
<circle cx="651.30" cy="379.58" r="3.83" fill="#C4C9D7"/>
<circle cx="662.35" cy="379.58" r="0.89" fill="#E7CCE9"/>
<circle cx="673.40" cy="379.58" r="2.65" fill="#C4C9D7"/>
<circle cx="452.40" cy="400.22" r="4.42" fill="#C966C9" stroke="#00EBFF" stroke-width="1.2"/>
<circle cx="463.45" cy="400.22" r="4.12" fill="#C966C9" stroke="#00EBFF" stroke-width="1.2"/>
<circle cx="474.50" cy="400.22" r="4.71" fill="#C966C9" stroke="#00EBFF" stroke-width="1.2"/>
<circle cx="496.60" cy="400.22" r="4.71" fill="#C966C9" stroke="#00EBFF" stroke-width="1.2"/>
<circle cx="507.65" cy="400.22" r="0.59" fill="#C4C9D7"/>
<circle cx="518.70" cy="400.22" r="4.71" fill="#C966C9" stroke="#00EBFF" stroke-width="1.2"/>
<circle cx="529.75" cy="400.22" r="4.42" fill="#C966C9" stroke="#00EBFF" stroke-width="1.2"/>
<circle cx="540.80" cy="400.22" r="3.24" fill="#E7CCE9"/>
<circle cx="551.85" cy="400.22" r="4.42" fill="#364A80" stroke="#00EBFF" stroke-width="1.2"/>
<circle cx="562.90" cy="400.22" r="5.00" fill="#364A80" stroke="#00EBFF" stroke-width="1.2"/>
<circle cx="573.95" cy="400.22" r="5.00" fill="#364A80" stroke="#00EBFF" stroke-width="1.2"/>
<circle cx="585.00" cy="400.22" r="5.00" fill="#364A80" stroke="#00EBFF" stroke-width="1.2"/>
<circle cx="596.05" cy="400.22" r="5.00" fill="#364A80" stroke="#00EBFF" stroke-width="1.2"/>
<circle cx="607.10" cy="400.22" r="4.42" fill="#364A80" stroke="#00EBFF" stroke-width="1.2"/>
<circle cx="618.15" cy="400.22" r="1.47" fill="#C4C9D7"/>
<circle cx="629.20" cy="400.22" r="2.65" fill="#C4C9D7"/>
<circle cx="640.25" cy="400.22" r="3.82" fill="#C966C9" stroke="#00EBFF" stroke-width="1.2"/>
<circle cx="651.30" cy="400.22" r="2.95" fill="#C4C9D7"/>
<circle cx="662.35" cy="400.22" r="1.47" fill="#E7CCE9"/>
<circle cx="673.40" cy="400.22" r="2.65" fill="#C4C9D7"/>
<circle cx="452.40" cy="420.86" r="3.83" fill="#E7CCE9"/>
<circle cx="463.45" cy="420.86" r="2.95" fill="#E7CCE9"/>
<circle cx="474.50" cy="420.86" r="2.95" fill="#E7CCE9"/>
<circle cx="485.55" cy="420.86" r="4.71" fill="#C966C9" stroke="#00EBFF" stroke-width="1.2"/>
<circle cx="507.65" cy="420.86" r="1.77" fill="#E7CCE9"/>
<circle cx="518.70" cy="420.86" r="4.71" fill="#C966C9" stroke="#00EBFF" stroke-width="1.2"/>
<circle cx="529.75" cy="420.86" r="4.42" fill="#C966C9" stroke="#00EBFF" stroke-width="1.2"/>
<circle cx="540.80" cy="420.86" r="3.82" fill="#C966C9" stroke="#00EBFF" stroke-width="1.2"/>
<circle cx="551.85" cy="420.86" r="2.06" fill="#C4C9D7"/>
<circle cx="562.90" cy="420.86" r="3.54" fill="#E7CCE9"/>
<circle cx="573.95" cy="420.86" r="1.18" fill="#C4C9D7"/>
<circle cx="585.00" cy="420.86" r="4.42" fill="#364A80" stroke="#00EBFF" stroke-width="1.2"/>
<circle cx="596.05" cy="420.86" r="5.30" fill="#364A80" stroke="#00EBFF" stroke-width="1.2"/>
<circle cx="607.10" cy="420.86" r="5.00" fill="#364A80" stroke="#00EBFF" stroke-width="1.2"/>
<circle cx="618.15" cy="420.86" r="2.65" fill="#C4C9D7"/>
<circle cx="629.20" cy="420.86" r="2.65" fill="#C4C9D7"/>
<circle cx="640.25" cy="420.86" r="4.13" fill="#C966C9"/>
<circle cx="651.30" cy="420.86" r="4.12" fill="#364A80" stroke="#00EBFF" stroke-width="1.2"/>
<circle cx="662.35" cy="420.86" r="3.82" fill="#364A80" stroke="#00EBFF" stroke-width="1.2"/>
<circle cx="673.40" cy="420.86" r="4.12" fill="#364A80" stroke="#00EBFF" stroke-width="1.2"/>
<circle cx="452.40" cy="441.50" r="3.83" fill="#E7CCE9"/>
<circle cx="463.45" cy="441.50" r="2.95" fill="#E7CCE9"/>
<circle cx="474.50" cy="441.50" r="4.42" fill="#C966C9"/>
<circle cx="485.55" cy="441.50" r="0.59" fill="#C4C9D7"/>
<circle cx="496.60" cy="441.50" r="1.77" fill="#E7CCE9"/>
<circle cx="518.70" cy="441.50" r="4.42" fill="#C966C9" stroke="#00EBFF" stroke-width="1.2"/>
<circle cx="529.75" cy="441.50" r="5.30" fill="#C966C9" stroke="#00EBFF" stroke-width="1.2"/>
<circle cx="540.80" cy="441.50" r="3.54" fill="#E7CCE9"/>
<circle cx="551.85" cy="441.50" r="2.65" fill="#C4C9D7"/>
<circle cx="562.90" cy="441.50" r="2.95" fill="#E7CCE9"/>
<circle cx="573.95" cy="441.50" r="3.83" fill="#C4C9D7"/>
<circle cx="585.00" cy="441.50" r="4.42" fill="#364A80" stroke="#00EBFF" stroke-width="1.2"/>
<circle cx="596.05" cy="441.50" r="4.42" fill="#364A80" stroke="#00EBFF" stroke-width="1.2"/>
<circle cx="607.10" cy="441.50" r="3.82" fill="#364A80" stroke="#00EBFF" stroke-width="1.2"/>
<circle cx="618.15" cy="441.50" r="1.77" fill="#C4C9D7"/>
<circle cx="629.20" cy="441.50" r="2.36" fill="#C4C9D7"/>
<circle cx="640.25" cy="441.50" r="2.36" fill="#C4C9D7"/>
<circle cx="651.30" cy="441.50" r="3.23" fill="#364A80" stroke="#00EBFF" stroke-width="1.2"/>
<circle cx="662.35" cy="441.50" r="3.54" fill="#C4C9D7"/>
<circle cx="673.40" cy="441.50" r="3.53" fill="#364A80" stroke="#00EBFF" stroke-width="1.2"/>
<circle cx="452.40" cy="462.14" r="4.42" fill="#C966C9" stroke="#00EBFF" stroke-width="1.2"/>
<circle cx="463.45" cy="462.14" r="2.95" fill="#E7CCE9"/>
<circle cx="474.50" cy="462.14" r="4.13" fill="#C966C9"/>
<circle cx="485.55" cy="462.14" r="4.71" fill="#C966C9" stroke="#00EBFF" stroke-width="1.2"/>
<circle cx="496.60" cy="462.14" r="4.71" fill="#C966C9" stroke="#00EBFF" stroke-width="1.2"/>
<circle cx="507.65" cy="462.14" r="4.12" fill="#C966C9" stroke="#00EBFF" stroke-width="1.2"/>
<circle cx="529.75" cy="462.14" r="5.89" fill="#C966C9" stroke="#00EBFF" stroke-width="1.2"/>
<circle cx="540.80" cy="462.14" r="3.24" fill="#E7CCE9"/>
<circle cx="551.85" cy="462.14" r="3.23" fill="#364A80" stroke="#00EBFF" stroke-width="1.2"/>
<circle cx="562.90" cy="462.14" r="4.13" fill="#364A80"/>
<circle cx="573.95" cy="462.14" r="4.12" fill="#364A80" stroke="#00EBFF" stroke-width="1.2"/>
<circle cx="585.00" cy="462.14" r="4.42" fill="#364A80" stroke="#00EBFF" stroke-width="1.2"/>
<circle cx="596.05" cy="462.14" r="4.42" fill="#364A80" stroke="#00EBFF" stroke-width="1.2"/>
<circle cx="607.10" cy="462.14" r="3.82" fill="#364A80" stroke="#00EBFF" stroke-width="1.2"/>
<circle cx="618.15" cy="462.14" r="3.24" fill="#C4C9D7"/>
<circle cx="629.20" cy="462.14" r="2.06" fill="#C4C9D7"/>
<circle cx="640.25" cy="462.14" r="5.00" fill="#C966C9" stroke="#00EBFF" stroke-width="1.2"/>
<circle cx="651.30" cy="462.14" r="3.54" fill="#C4C9D7"/>
<circle cx="662.35" cy="462.14" r="4.13" fill="#C966C9"/>
<circle cx="673.40" cy="462.14" r="1.77" fill="#C4C9D7"/>
<circle cx="452.40" cy="482.78" r="4.12" fill="#C966C9" stroke="#00EBFF" stroke-width="1.2"/>
<circle cx="463.45" cy="482.78" r="2.65" fill="#E7CCE9"/>
<circle cx="474.50" cy="482.78" r="3.53" fill="#C966C9" stroke="#00EBFF" stroke-width="1.2"/>
<circle cx="485.55" cy="482.78" r="4.42" fill="#C966C9" stroke="#00EBFF" stroke-width="1.2"/>
<circle cx="496.60" cy="482.78" r="4.42" fill="#C966C9" stroke="#00EBFF" stroke-width="1.2"/>
<circle cx="507.65" cy="482.78" r="5.30" fill="#C966C9" stroke="#00EBFF" stroke-width="1.2"/>
<circle cx="518.70" cy="482.78" r="5.89" fill="#C966C9" stroke="#00EBFF" stroke-width="1.2"/>
<circle cx="540.80" cy="482.78" r="2.95" fill="#E7CCE9"/>
<circle cx="551.85" cy="482.78" r="3.23" fill="#364A80" stroke="#00EBFF" stroke-width="1.2"/>
<circle cx="562.90" cy="482.78" r="3.54" fill="#C4C9D7"/>
<circle cx="573.95" cy="482.78" r="3.82" fill="#364A80" stroke="#00EBFF" stroke-width="1.2"/>
<circle cx="585.00" cy="482.78" r="4.71" fill="#364A80" stroke="#00EBFF" stroke-width="1.2"/>
<circle cx="596.05" cy="482.78" r="4.71" fill="#364A80" stroke="#00EBFF" stroke-width="1.2"/>
<circle cx="607.10" cy="482.78" r="4.42" fill="#364A80" stroke="#00EBFF" stroke-width="1.2"/>
<circle cx="618.15" cy="482.78" r="2.95" fill="#C4C9D7"/>
<circle cx="629.20" cy="482.78" r="2.65" fill="#C4C9D7"/>
<circle cx="640.25" cy="482.78" r="3.53" fill="#C966C9" stroke="#00EBFF" stroke-width="1.2"/>
<circle cx="651.30" cy="482.78" r="3.82" fill="#364A80" stroke="#00EBFF" stroke-width="1.2"/>
<circle cx="662.35" cy="482.78" r="2.36" fill="#C4C9D7"/>
<circle cx="673.40" cy="482.78" r="4.12" fill="#364A80" stroke="#00EBFF" stroke-width="1.2"/>
<circle cx="452.40" cy="503.42" r="2.65" fill="#E7CCE9"/>
<circle cx="463.45" cy="503.42" r="2.36" fill="#E7CCE9"/>
<circle cx="474.50" cy="503.42" r="2.65" fill="#C4C9D7"/>
<circle cx="485.55" cy="503.42" r="3.24" fill="#E7CCE9"/>
<circle cx="496.60" cy="503.42" r="3.82" fill="#C966C9" stroke="#00EBFF" stroke-width="1.2"/>
<circle cx="507.65" cy="503.42" r="3.54" fill="#E7CCE9"/>
<circle cx="518.70" cy="503.42" r="3.24" fill="#E7CCE9"/>
<circle cx="529.75" cy="503.42" r="2.95" fill="#E7CCE9"/>
<circle cx="551.85" cy="503.42" r="3.23" fill="#C966C9" stroke="#00EBFF" stroke-width="1.2"/>
<circle cx="562.90" cy="503.42" r="4.42" fill="#C966C9" stroke="#00EBFF" stroke-width="1.2"/>
<circle cx="573.95" cy="503.42" r="3.82" fill="#C966C9" stroke="#00EBFF" stroke-width="1.2"/>
<circle cx="585.00" cy="503.42" r="3.82" fill="#364A80" stroke="#00EBFF" stroke-width="1.2"/>
<circle cx="596.05" cy="503.42" r="3.53" fill="#364A80" stroke="#00EBFF" stroke-width="1.2"/>
<circle cx="607.10" cy="503.42" r="1.77" fill="#C4C9D7"/>
<circle cx="618.15" cy="503.42" r="4.13" fill="#364A80"/>
<circle cx="629.20" cy="503.42" r="3.53" fill="#364A80" stroke="#00EBFF" stroke-width="1.2"/>
<circle cx="640.25" cy="503.42" r="3.24" fill="#E7CCE9"/>
<circle cx="651.30" cy="503.42" r="2.65" fill="#E7CCE9"/>
<circle cx="662.35" cy="503.42" r="2.65" fill="#C4C9D7"/>
<circle cx="673.40" cy="503.42" r="3.54" fill="#C4C9D7"/>
<circle cx="452.40" cy="524.06" r="3.54" fill="#C4C9D7"/>
<circle cx="463.45" cy="524.06" r="2.06" fill="#C4C9D7"/>
<circle cx="474.50" cy="524.06" r="3.54" fill="#C4C9D7"/>
<circle cx="485.55" cy="524.06" r="4.42" fill="#364A80" stroke="#00EBFF" stroke-width="1.2"/>
<circle cx="496.60" cy="524.06" r="2.06" fill="#C4C9D7"/>
<circle cx="507.65" cy="524.06" r="2.65" fill="#C4C9D7"/>
<circle cx="518.70" cy="524.06" r="3.23" fill="#364A80" stroke="#00EBFF" stroke-width="1.2"/>
<circle cx="529.75" cy="524.06" r="3.23" fill="#364A80" stroke="#00EBFF" stroke-width="1.2"/>
<circle cx="540.80" cy="524.06" r="3.23" fill="#C966C9" stroke="#00EBFF" stroke-width="1.2"/>
<circle cx="562.90" cy="524.06" r="5.00" fill="#C966C9" stroke="#00EBFF" stroke-width="1.2"/>
<circle cx="573.95" cy="524.06" r="5.30" fill="#C966C9" stroke="#00EBFF" stroke-width="1.2"/>
<circle cx="585.00" cy="524.06" r="2.95" fill="#E7CCE9"/>
<circle cx="596.05" cy="524.06" r="2.95" fill="#E7CCE9"/>
<circle cx="607.10" cy="524.06" r="2.65" fill="#E7CCE9"/>
<circle cx="618.15" cy="524.06" r="1.77" fill="#E7CCE9"/>
<circle cx="629.20" cy="524.06" r="2.36" fill="#C4C9D7"/>
<circle cx="640.25" cy="524.06" r="2.65" fill="#C4C9D7"/>
<circle cx="651.30" cy="524.06" r="3.53" fill="#C966C9" stroke="#00EBFF" stroke-width="1.2"/>
<circle cx="662.35" cy="524.06" r="1.18" fill="#C4C9D7"/>
<circle cx="673.40" cy="524.06" r="1.47" fill="#C4C9D7"/>
<circle cx="452.40" cy="544.70" r="3.83" fill="#C4C9D7"/>
<circle cx="463.45" cy="544.70" r="1.77" fill="#C4C9D7"/>
<circle cx="474.50" cy="544.70" r="4.42" fill="#364A80" stroke="#00EBFF" stroke-width="1.2"/>
<circle cx="485.55" cy="544.70" r="5.00" fill="#364A80" stroke="#00EBFF" stroke-width="1.2"/>
<circle cx="496.60" cy="544.70" r="3.54" fill="#E7CCE9"/>
<circle cx="507.65" cy="544.70" r="2.95" fill="#E7CCE9"/>
<circle cx="518.70" cy="544.70" r="4.13" fill="#364A80"/>
<circle cx="529.75" cy="544.70" r="3.83" fill="#C4C9D7"/>
<circle cx="540.80" cy="544.70" r="4.42" fill="#C966C9" stroke="#00EBFF" stroke-width="1.2"/>
<circle cx="551.85" cy="544.70" r="5.00" fill="#C966C9" stroke="#00EBFF" stroke-width="1.2"/>
<circle cx="573.95" cy="544.70" r="5.30" fill="#C966C9" stroke="#00EBFF" stroke-width="1.2"/>
<circle cx="585.00" cy="544.70" r="3.24" fill="#E7CCE9"/>
<circle cx="596.05" cy="544.70" r="0.89" fill="#C4C9D7"/>
<circle cx="607.10" cy="544.70" r="1.47" fill="#E7CCE9"/>
<circle cx="618.15" cy="544.70" r="3.83" fill="#C4C9D7"/>
<circle cx="629.20" cy="544.70" r="2.65" fill="#C4C9D7"/>
<circle cx="640.25" cy="544.70" r="2.36" fill="#C4C9D7"/>
<circle cx="651.30" cy="544.70" r="3.54" fill="#E7CCE9"/>
<circle cx="662.35" cy="544.70" r="4.42" fill="#364A80"/>
<circle cx="673.40" cy="544.70" r="4.42" fill="#364A80"/>
<circle cx="452.40" cy="565.34" r="3.24" fill="#C4C9D7"/>
<circle cx="463.45" cy="565.34" r="1.18" fill="#C4C9D7"/>
<circle cx="474.50" cy="565.34" r="4.42" fill="#364A80" stroke="#00EBFF" stroke-width="1.2"/>
<circle cx="485.55" cy="565.34" r="5.00" fill="#364A80" stroke="#00EBFF" stroke-width="1.2"/>
<circle cx="496.60" cy="565.34" r="0.89" fill="#C4C9D7"/>
<circle cx="507.65" cy="565.34" r="3.83" fill="#C4C9D7"/>
<circle cx="518.70" cy="565.34" r="4.12" fill="#364A80" stroke="#00EBFF" stroke-width="1.2"/>
<circle cx="529.75" cy="565.34" r="3.82" fill="#364A80" stroke="#00EBFF" stroke-width="1.2"/>
<circle cx="540.80" cy="565.34" r="3.82" fill="#C966C9" stroke="#00EBFF" stroke-width="1.2"/>
<circle cx="551.85" cy="565.34" r="5.30" fill="#C966C9" stroke="#00EBFF" stroke-width="1.2"/>
<circle cx="562.90" cy="565.34" r="5.30" fill="#C966C9" stroke="#00EBFF" stroke-width="1.2"/>
<circle cx="585.00" cy="565.34" r="3.53" fill="#C966C9" stroke="#00EBFF" stroke-width="1.2"/>
<circle cx="596.05" cy="565.34" r="4.13" fill="#C966C9"/>
<circle cx="607.10" cy="565.34" r="3.54" fill="#E7CCE9"/>
<circle cx="618.15" cy="565.34" r="2.65" fill="#C4C9D7"/>
<circle cx="629.20" cy="565.34" r="2.06" fill="#C4C9D7"/>
<circle cx="640.25" cy="565.34" r="3.83" fill="#C4C9D7"/>
<circle cx="651.30" cy="565.34" r="2.65" fill="#E7CCE9"/>
<circle cx="662.35" cy="565.34" r="3.83" fill="#C4C9D7"/>
<circle cx="673.40" cy="565.34" r="3.83" fill="#C4C9D7"/>
<circle cx="452.40" cy="585.98" r="4.42" fill="#364A80"/>
<circle cx="463.45" cy="585.98" r="3.53" fill="#364A80" stroke="#00EBFF" stroke-width="1.2"/>
<circle cx="474.50" cy="585.98" r="4.42" fill="#364A80" stroke="#00EBFF" stroke-width="1.2"/>
<circle cx="485.55" cy="585.98" r="5.00" fill="#364A80" stroke="#00EBFF" stroke-width="1.2"/>
<circle cx="496.60" cy="585.98" r="4.42" fill="#364A80" stroke="#00EBFF" stroke-width="1.2"/>
<circle cx="507.65" cy="585.98" r="4.42" fill="#364A80" stroke="#00EBFF" stroke-width="1.2"/>
<circle cx="518.70" cy="585.98" r="4.42" fill="#364A80" stroke="#00EBFF" stroke-width="1.2"/>
<circle cx="529.75" cy="585.98" r="4.71" fill="#364A80" stroke="#00EBFF" stroke-width="1.2"/>
<circle cx="540.80" cy="585.98" r="3.82" fill="#364A80" stroke="#00EBFF" stroke-width="1.2"/>
<circle cx="551.85" cy="585.98" r="2.95" fill="#E7CCE9"/>
<circle cx="562.90" cy="585.98" r="2.95" fill="#E7CCE9"/>
<circle cx="573.95" cy="585.98" r="3.53" fill="#C966C9" stroke="#00EBFF" stroke-width="1.2"/>
<circle cx="596.05" cy="585.98" r="5.30" fill="#C966C9" stroke="#00EBFF" stroke-width="1.2"/>
<circle cx="607.10" cy="585.98" r="5.00" fill="#C966C9" stroke="#00EBFF" stroke-width="1.2"/>
<circle cx="618.15" cy="585.98" r="2.36" fill="#E7CCE9"/>
<circle cx="629.20" cy="585.98" r="4.13" fill="#C966C9"/>
<circle cx="640.25" cy="585.98" r="3.53" fill="#364A80" stroke="#00EBFF" stroke-width="1.2"/>
<circle cx="651.30" cy="585.98" r="2.95" fill="#E7CCE9"/>
<circle cx="662.35" cy="585.98" r="2.65" fill="#E7CCE9"/>
<circle cx="673.40" cy="585.98" r="3.82" fill="#C966C9" stroke="#00EBFF" stroke-width="1.2"/>
<circle cx="452.40" cy="606.62" r="3.82" fill="#364A80" stroke="#00EBFF" stroke-width="1.2"/>
<circle cx="463.45" cy="606.62" r="3.53" fill="#364A80" stroke="#00EBFF" stroke-width="1.2"/>
<circle cx="474.50" cy="606.62" r="3.82" fill="#364A80" stroke="#00EBFF" stroke-width="1.2"/>
<circle cx="485.55" cy="606.62" r="5.00" fill="#364A80" stroke="#00EBFF" stroke-width="1.2"/>
<circle cx="496.60" cy="606.62" r="5.30" fill="#364A80" stroke="#00EBFF" stroke-width="1.2"/>
<circle cx="507.65" cy="606.62" r="4.42" fill="#364A80" stroke="#00EBFF" stroke-width="1.2"/>
<circle cx="518.70" cy="606.62" r="4.42" fill="#364A80" stroke="#00EBFF" stroke-width="1.2"/>
<circle cx="529.75" cy="606.62" r="4.71" fill="#364A80" stroke="#00EBFF" stroke-width="1.2"/>
<circle cx="540.80" cy="606.62" r="3.53" fill="#364A80" stroke="#00EBFF" stroke-width="1.2"/>
<circle cx="551.85" cy="606.62" r="2.95" fill="#E7CCE9"/>
<circle cx="562.90" cy="606.62" r="1.18" fill="#C4C9D7"/>
<circle cx="573.95" cy="606.62" r="4.13" fill="#C966C9"/>
<circle cx="585.00" cy="606.62" r="5.30" fill="#C966C9" stroke="#00EBFF" stroke-width="1.2"/>
<circle cx="607.10" cy="606.62" r="5.89" fill="#C966C9" stroke="#00EBFF" stroke-width="1.2"/>
<circle cx="618.15" cy="606.62" r="3.54" fill="#E7CCE9"/>
<circle cx="629.20" cy="606.62" r="2.65" fill="#E7CCE9"/>
<circle cx="640.25" cy="606.62" r="4.42" fill="#364A80"/>
<circle cx="651.30" cy="606.62" r="3.53" fill="#C966C9" stroke="#00EBFF" stroke-width="1.2"/>
<circle cx="662.35" cy="606.62" r="4.42" fill="#C966C9"/>
<circle cx="673.40" cy="606.62" r="4.12" fill="#C966C9" stroke="#00EBFF" stroke-width="1.2"/>
<circle cx="452.40" cy="627.26" r="3.82" fill="#364A80" stroke="#00EBFF" stroke-width="1.2"/>
<circle cx="463.45" cy="627.26" r="3.82" fill="#364A80" stroke="#00EBFF" stroke-width="1.2"/>
<circle cx="474.50" cy="627.26" r="3.53" fill="#364A80" stroke="#00EBFF" stroke-width="1.2"/>
<circle cx="485.55" cy="627.26" r="4.42" fill="#364A80" stroke="#00EBFF" stroke-width="1.2"/>
<circle cx="496.60" cy="627.26" r="5.00" fill="#364A80" stroke="#00EBFF" stroke-width="1.2"/>
<circle cx="507.65" cy="627.26" r="3.82" fill="#364A80" stroke="#00EBFF" stroke-width="1.2"/>
<circle cx="518.70" cy="627.26" r="3.82" fill="#364A80" stroke="#00EBFF" stroke-width="1.2"/>
<circle cx="529.75" cy="627.26" r="4.42" fill="#364A80" stroke="#00EBFF" stroke-width="1.2"/>
<circle cx="540.80" cy="627.26" r="1.77" fill="#C4C9D7"/>
<circle cx="551.85" cy="627.26" r="2.65" fill="#E7CCE9"/>
<circle cx="562.90" cy="627.26" r="1.47" fill="#E7CCE9"/>
<circle cx="573.95" cy="627.26" r="3.54" fill="#E7CCE9"/>
<circle cx="585.00" cy="627.26" r="5.00" fill="#C966C9" stroke="#00EBFF" stroke-width="1.2"/>
<circle cx="596.05" cy="627.26" r="5.89" fill="#C966C9" stroke="#00EBFF" stroke-width="1.2"/>
<circle cx="618.15" cy="627.26" r="2.65" fill="#E7CCE9"/>
<circle cx="629.20" cy="627.26" r="2.95" fill="#E7CCE9"/>
<circle cx="640.25" cy="627.26" r="2.95" fill="#C4C9D7"/>
<circle cx="651.30" cy="627.26" r="2.95" fill="#E7CCE9"/>
<circle cx="662.35" cy="627.26" r="2.95" fill="#E7CCE9"/>
<circle cx="673.40" cy="627.26" r="3.53" fill="#C966C9" stroke="#00EBFF" stroke-width="1.2"/>
<circle cx="452.40" cy="647.90" r="3.24" fill="#E7CCE9"/>
<circle cx="463.45" cy="647.90" r="2.65" fill="#E7CCE9"/>
<circle cx="474.50" cy="647.90" r="3.23" fill="#C966C9" stroke="#00EBFF" stroke-width="1.2"/>
<circle cx="485.55" cy="647.90" r="1.47" fill="#C4C9D7"/>
<circle cx="496.60" cy="647.90" r="2.65" fill="#C4C9D7"/>
<circle cx="507.65" cy="647.90" r="1.77" fill="#C4C9D7"/>
<circle cx="518.70" cy="647.90" r="3.24" fill="#C4C9D7"/>
<circle cx="529.75" cy="647.90" r="2.95" fill="#C4C9D7"/>
<circle cx="540.80" cy="647.90" r="4.13" fill="#364A80"/>
<circle cx="551.85" cy="647.90" r="1.77" fill="#E7CCE9"/>
<circle cx="562.90" cy="647.90" r="3.83" fill="#C4C9D7"/>
<circle cx="573.95" cy="647.90" r="2.65" fill="#C4C9D7"/>
<circle cx="585.00" cy="647.90" r="2.36" fill="#E7CCE9"/>
<circle cx="596.05" cy="647.90" r="3.54" fill="#E7CCE9"/>
<circle cx="607.10" cy="647.90" r="2.65" fill="#E7CCE9"/>
<circle cx="629.20" cy="647.90" r="4.13" fill="#C966C9"/>
<circle cx="640.25" cy="647.90" r="1.18" fill="#C4C9D7"/>
<circle cx="651.30" cy="647.90" r="1.18" fill="#C4C9D7"/>
<circle cx="662.35" cy="647.90" r="2.06" fill="#E7CCE9"/>
<circle cx="673.40" cy="647.90" r="2.95" fill="#E7CCE9"/>
<circle cx="452.40" cy="668.54" r="2.36" fill="#E7CCE9"/>
<circle cx="463.45" cy="668.54" r="2.36" fill="#E7CCE9"/>
<circle cx="474.50" cy="668.54" r="2.95" fill="#E7CCE9"/>
<circle cx="485.55" cy="668.54" r="2.65" fill="#C4C9D7"/>
<circle cx="496.60" cy="668.54" r="2.65" fill="#C4C9D7"/>
<circle cx="507.65" cy="668.54" r="2.36" fill="#C4C9D7"/>
<circle cx="518.70" cy="668.54" r="2.06" fill="#C4C9D7"/>
<circle cx="529.75" cy="668.54" r="2.65" fill="#C4C9D7"/>
<circle cx="540.80" cy="668.54" r="3.53" fill="#364A80" stroke="#00EBFF" stroke-width="1.2"/>
<circle cx="551.85" cy="668.54" r="2.36" fill="#C4C9D7"/>
<circle cx="562.90" cy="668.54" r="2.65" fill="#C4C9D7"/>
<circle cx="573.95" cy="668.54" r="2.06" fill="#C4C9D7"/>
<circle cx="585.00" cy="668.54" r="4.13" fill="#C966C9"/>
<circle cx="596.05" cy="668.54" r="2.65" fill="#E7CCE9"/>
<circle cx="607.10" cy="668.54" r="3.24" fill="#E7CCE9"/>
<circle cx="618.15" cy="668.54" r="4.13" fill="#C966C9"/>
<circle cx="640.25" cy="668.54" r="2.95" fill="#C4C9D7"/>
<circle cx="651.30" cy="668.54" r="2.65" fill="#C4C9D7"/>
<circle cx="662.35" cy="668.54" r="1.77" fill="#C4C9D7"/>
<circle cx="673.40" cy="668.54" r="1.18" fill="#C4C9D7"/>
<circle cx="452.40" cy="689.18" r="2.36" fill="#E7CCE9"/>
<circle cx="463.45" cy="689.18" r="0.89" fill="#E7CCE9"/>
<circle cx="474.50" cy="689.18" r="2.36" fill="#E7CCE9"/>
<circle cx="485.55" cy="689.18" r="3.82" fill="#C966C9" stroke="#00EBFF" stroke-width="1.2"/>
<circle cx="496.60" cy="689.18" r="4.13" fill="#C966C9"/>
<circle cx="507.65" cy="689.18" r="2.36" fill="#C4C9D7"/>
<circle cx="518.70" cy="689.18" r="5.00" fill="#C966C9" stroke="#00EBFF" stroke-width="1.2"/>
<circle cx="529.75" cy="689.18" r="3.53" fill="#C966C9" stroke="#00EBFF" stroke-width="1.2"/>
<circle cx="540.80" cy="689.18" r="3.24" fill="#E7CCE9"/>
<circle cx="551.85" cy="689.18" r="2.65" fill="#C4C9D7"/>
<circle cx="562.90" cy="689.18" r="2.36" fill="#C4C9D7"/>
<circle cx="573.95" cy="689.18" r="3.83" fill="#C4C9D7"/>
<circle cx="585.00" cy="689.18" r="3.53" fill="#364A80" stroke="#00EBFF" stroke-width="1.2"/>
<circle cx="596.05" cy="689.18" r="4.42" fill="#364A80"/>
<circle cx="607.10" cy="689.18" r="2.95" fill="#C4C9D7"/>
<circle cx="618.15" cy="689.18" r="1.47" fill="#C4C9D7"/>
<circle cx="629.20" cy="689.18" r="2.95" fill="#C4C9D7"/>
<circle cx="651.30" cy="689.18" r="3.53" fill="#C966C9" stroke="#00EBFF" stroke-width="1.2"/>
<circle cx="662.35" cy="689.18" r="4.71" fill="#C966C9" stroke="#00EBFF" stroke-width="1.2"/>
<circle cx="673.40" cy="689.18" r="4.12" fill="#C966C9" stroke="#00EBFF" stroke-width="1.2"/>
<circle cx="452.40" cy="709.82" r="4.72" fill="#364A80"/>
<circle cx="463.45" cy="709.82" r="1.18" fill="#C4C9D7"/>
<circle cx="474.50" cy="709.82" r="3.83" fill="#C4C9D7"/>
<circle cx="485.55" cy="709.82" r="2.95" fill="#C4C9D7"/>
<circle cx="496.60" cy="709.82" r="4.12" fill="#364A80" stroke="#00EBFF" stroke-width="1.2"/>
<circle cx="507.65" cy="709.82" r="3.23" fill="#364A80" stroke="#00EBFF" stroke-width="1.2"/>
<circle cx="518.70" cy="709.82" r="3.54" fill="#C4C9D7"/>
<circle cx="529.75" cy="709.82" r="3.82" fill="#364A80" stroke="#00EBFF" stroke-width="1.2"/>
<circle cx="540.80" cy="709.82" r="2.65" fill="#E7CCE9"/>
<circle cx="551.85" cy="709.82" r="3.53" fill="#C966C9" stroke="#00EBFF" stroke-width="1.2"/>
<circle cx="562.90" cy="709.82" r="3.54" fill="#E7CCE9"/>
<circle cx="573.95" cy="709.82" r="2.65" fill="#E7CCE9"/>
<circle cx="585.00" cy="709.82" r="2.95" fill="#E7CCE9"/>
<circle cx="596.05" cy="709.82" r="3.53" fill="#C966C9" stroke="#00EBFF" stroke-width="1.2"/>
<circle cx="607.10" cy="709.82" r="3.24" fill="#E7CCE9"/>
<circle cx="618.15" cy="709.82" r="1.47" fill="#C4C9D7"/>
<circle cx="629.20" cy="709.82" r="2.65" fill="#C4C9D7"/>
<circle cx="640.25" cy="709.82" r="3.53" fill="#C966C9" stroke="#00EBFF" stroke-width="1.2"/>
<circle cx="662.35" cy="709.82" r="5.00" fill="#C966C9" stroke="#00EBFF" stroke-width="1.2"/>
<circle cx="673.40" cy="709.82" r="5.30" fill="#C966C9" stroke="#00EBFF" stroke-width="1.2"/>
<circle cx="452.40" cy="730.46" r="1.77" fill="#C4C9D7"/>
<circle cx="463.45" cy="730.46" r="2.06" fill="#C4C9D7"/>
<circle cx="474.50" cy="730.46" r="0.89" fill="#E7CCE9"/>
<circle cx="485.55" cy="730.46" r="1.47" fill="#E7CCE9"/>
<circle cx="496.60" cy="730.46" r="3.82" fill="#364A80" stroke="#00EBFF" stroke-width="1.2"/>
<circle cx="507.65" cy="730.46" r="3.54" fill="#C4C9D7"/>
<circle cx="518.70" cy="730.46" r="4.13" fill="#C966C9"/>
<circle cx="529.75" cy="730.46" r="2.36" fill="#C4C9D7"/>
<circle cx="540.80" cy="730.46" r="2.65" fill="#C4C9D7"/>
<circle cx="551.85" cy="730.46" r="1.18" fill="#C4C9D7"/>
<circle cx="562.90" cy="730.46" r="4.42" fill="#364A80"/>
<circle cx="573.95" cy="730.46" r="3.83" fill="#C4C9D7"/>
<circle cx="585.00" cy="730.46" r="2.65" fill="#E7CCE9"/>
<circle cx="596.05" cy="730.46" r="4.42" fill="#C966C9"/>
<circle cx="607.10" cy="730.46" r="2.95" fill="#E7CCE9"/>
<circle cx="618.15" cy="730.46" r="2.36" fill="#E7CCE9"/>
<circle cx="629.20" cy="730.46" r="1.47" fill="#C4C9D7"/>
<circle cx="640.25" cy="730.46" r="4.71" fill="#C966C9" stroke="#00EBFF" stroke-width="1.2"/>
<circle cx="651.30" cy="730.46" r="5.30" fill="#C966C9" stroke="#00EBFF" stroke-width="1.2"/>
<circle cx="673.40" cy="730.46" r="5.89" fill="#C966C9" stroke="#00EBFF" stroke-width="1.2"/>
<circle cx="452.40" cy="751.10" r="3.24" fill="#C4C9D7"/>
<circle cx="463.45" cy="751.10" r="3.54" fill="#C4C9D7"/>
<circle cx="474.50" cy="751.10" r="2.65" fill="#C4C9D7"/>
<circle cx="485.55" cy="751.10" r="2.65" fill="#C4C9D7"/>
<circle cx="496.60" cy="751.10" r="4.12" fill="#364A80" stroke="#00EBFF" stroke-width="1.2"/>
<circle cx="507.65" cy="751.10" r="3.53" fill="#364A80" stroke="#00EBFF" stroke-width="1.2"/>
<circle cx="518.70" cy="751.10" r="1.77" fill="#C4C9D7"/>
<circle cx="529.75" cy="751.10" r="4.12" fill="#364A80" stroke="#00EBFF" stroke-width="1.2"/>
<circle cx="540.80" cy="751.10" r="3.54" fill="#C4C9D7"/>
<circle cx="551.85" cy="751.10" r="1.47" fill="#C4C9D7"/>
<circle cx="562.90" cy="751.10" r="4.42" fill="#364A80"/>
<circle cx="573.95" cy="751.10" r="3.83" fill="#C4C9D7"/>
<circle cx="585.00" cy="751.10" r="3.82" fill="#C966C9" stroke="#00EBFF" stroke-width="1.2"/>
<circle cx="596.05" cy="751.10" r="4.12" fill="#C966C9" stroke="#00EBFF" stroke-width="1.2"/>
<circle cx="607.10" cy="751.10" r="3.82" fill="#C966C9" stroke="#00EBFF" stroke-width="1.2"/>
<circle cx="618.15" cy="751.10" r="2.95" fill="#E7CCE9"/>
<circle cx="629.20" cy="751.10" r="1.18" fill="#C4C9D7"/>
<circle cx="640.25" cy="751.10" r="4.12" fill="#C966C9" stroke="#00EBFF" stroke-width="1.2"/>
<circle cx="651.30" cy="751.10" r="5.30" fill="#C966C9" stroke="#00EBFF" stroke-width="1.2"/>
<circle cx="662.35" cy="751.10" r="5.89" fill="#C966C9" stroke="#00EBFF" stroke-width="1.2"/>
<line x1="452.40" y1="317.50" x2="452.40" y2="772.20" stroke="rgba(100,100,100,0.10)" stroke-width="0.8" />
<line x1="463.45" y1="317.50" x2="463.45" y2="772.20" stroke="rgba(100,100,100,0.10)" stroke-width="0.8" />
<line x1="474.50" y1="317.50" x2="474.50" y2="772.20" stroke="rgba(100,100,100,0.10)" stroke-width="0.8" />
<line x1="485.55" y1="317.50" x2="485.55" y2="772.20" stroke="rgba(100,100,100,0.10)" stroke-width="0.8" />
<line x1="496.60" y1="317.50" x2="496.60" y2="772.20" stroke="rgba(100,100,100,0.10)" stroke-width="0.8" />
<line x1="507.65" y1="317.50" x2="507.65" y2="772.20" stroke="rgba(100,100,100,0.10)" stroke-width="0.8" />
<line x1="518.70" y1="317.50" x2="518.70" y2="772.20" stroke="rgba(100,100,100,0.10)" stroke-width="0.8" />
<line x1="529.75" y1="317.50" x2="529.75" y2="772.20" stroke="rgba(100,100,100,0.10)" stroke-width="0.8" />
<line x1="540.80" y1="317.50" x2="540.80" y2="772.20" stroke="rgba(100,100,100,0.10)" stroke-width="0.8" />
<line x1="551.85" y1="317.50" x2="551.85" y2="772.20" stroke="rgba(100,100,100,0.10)" stroke-width="0.8" />
<line x1="562.90" y1="317.50" x2="562.90" y2="772.20" stroke="rgba(100,100,100,0.10)" stroke-width="0.8" />
<line x1="573.95" y1="317.50" x2="573.95" y2="772.20" stroke="rgba(100,100,100,0.10)" stroke-width="0.8" />
<line x1="585.00" y1="317.50" x2="585.00" y2="772.20" stroke="rgba(100,100,100,0.10)" stroke-width="0.8" />
<line x1="596.05" y1="317.50" x2="596.05" y2="772.20" stroke="rgba(100,100,100,0.10)" stroke-width="0.8" />
<line x1="607.10" y1="317.50" x2="607.10" y2="772.20" stroke="rgba(100,100,100,0.10)" stroke-width="0.8" />
<line x1="618.15" y1="317.50" x2="618.15" y2="772.20" stroke="rgba(100,100,100,0.10)" stroke-width="0.8" />
<line x1="629.20" y1="317.50" x2="629.20" y2="772.20" stroke="rgba(100,100,100,0.10)" stroke-width="0.8" />
<line x1="640.25" y1="317.50" x2="640.25" y2="772.20" stroke="rgba(100,100,100,0.10)" stroke-width="0.8" />
<line x1="651.30" y1="317.50" x2="651.30" y2="772.20" stroke="rgba(100,100,100,0.10)" stroke-width="0.8" />
<line x1="662.35" y1="317.50" x2="662.35" y2="772.20" stroke="rgba(100,100,100,0.10)" stroke-width="0.8" />
<line x1="673.40" y1="317.50" x2="673.40" y2="772.20" stroke="rgba(100,100,100,0.10)" stroke-width="0.8" />
<line x1="441.50" y1="338.30" x2="684.40" y2="338.30" stroke="rgba(100,100,100,0.10)" stroke-width="0.8" />
<line x1="441.50" y1="358.94" x2="684.40" y2="358.94" stroke="rgba(100,100,100,0.10)" stroke-width="0.8" />
<line x1="441.50" y1="379.58" x2="684.40" y2="379.58" stroke="rgba(100,100,100,0.10)" stroke-width="0.8" />
<line x1="441.50" y1="400.22" x2="684.40" y2="400.22" stroke="rgba(100,100,100,0.10)" stroke-width="0.8" />
<line x1="441.50" y1="420.86" x2="684.40" y2="420.86" stroke="rgba(100,100,100,0.10)" stroke-width="0.8" />
<line x1="441.50" y1="441.50" x2="684.40" y2="441.50" stroke="rgba(100,100,100,0.10)" stroke-width="0.8" />
<line x1="441.50" y1="462.14" x2="684.40" y2="462.14" stroke="rgba(100,100,100,0.10)" stroke-width="0.8" />
<line x1="441.50" y1="482.78" x2="684.40" y2="482.78" stroke="rgba(100,100,100,0.10)" stroke-width="0.8" />
<line x1="441.50" y1="503.42" x2="684.40" y2="503.42" stroke="rgba(100,100,100,0.10)" stroke-width="0.8" />
<line x1="441.50" y1="524.06" x2="684.40" y2="524.06" stroke="rgba(100,100,100,0.10)" stroke-width="0.8" />
<line x1="441.50" y1="544.70" x2="684.40" y2="544.70" stroke="rgba(100,100,100,0.10)" stroke-width="0.8" />
<line x1="441.50" y1="565.34" x2="684.40" y2="565.34" stroke="rgba(100,100,100,0.10)" stroke-width="0.8" />
<line x1="441.50" y1="585.98" x2="684.40" y2="585.98" stroke="rgba(100,100,100,0.10)" stroke-width="0.8" />
<line x1="441.50" y1="606.62" x2="684.40" y2="606.62" stroke="rgba(100,100,100,0.10)" stroke-width="0.8" />
<line x1="441.50" y1="627.26" x2="684.40" y2="627.26" stroke="rgba(100,100,100,0.10)" stroke-width="0.8" />
<line x1="441.50" y1="647.90" x2="684.40" y2="647.90" stroke="rgba(100,100,100,0.10)" stroke-width="0.8" />
<line x1="441.50" y1="668.54" x2="684.40" y2="668.54" stroke="rgba(100,100,100,0.10)" stroke-width="0.8" />
<line x1="441.50" y1="689.18" x2="684.40" y2="689.18" stroke="rgba(100,100,100,0.10)" stroke-width="0.8" />
<line x1="441.50" y1="709.82" x2="684.40" y2="709.82" stroke="rgba(100,100,100,0.10)" stroke-width="0.8" />
<line x1="441.50" y1="730.46" x2="684.40" y2="730.46" stroke="rgba(100,100,100,0.10)" stroke-width="0.8" />
<line x1="441.50" y1="751.10" x2="684.40" y2="751.10" stroke="rgba(100,100,100,0.10)" stroke-width="0.8" />
<rect x="441.5" y="317.5" width="243" height="455" fill="none" stroke="#4a4a4a" stroke-width="1"/>
<line x1="439.30" y1="338.30" x2="441.50" y2="338.30" stroke="#4a4a4a" stroke-width="1" />
<line x1="439.30" y1="358.94" x2="441.50" y2="358.94" stroke="#4a4a4a" stroke-width="1" />
<line x1="439.30" y1="379.58" x2="441.50" y2="379.58" stroke="#4a4a4a" stroke-width="1" />
<line x1="439.30" y1="400.22" x2="441.50" y2="400.22" stroke="#4a4a4a" stroke-width="1" />
<line x1="439.30" y1="420.86" x2="441.50" y2="420.86" stroke="#4a4a4a" stroke-width="1" />
<line x1="439.30" y1="441.50" x2="441.50" y2="441.50" stroke="#4a4a4a" stroke-width="1" />
<line x1="439.30" y1="462.14" x2="441.50" y2="462.14" stroke="#4a4a4a" stroke-width="1" />
<line x1="439.30" y1="482.78" x2="441.50" y2="482.78" stroke="#4a4a4a" stroke-width="1" />
<line x1="439.30" y1="503.42" x2="441.50" y2="503.42" stroke="#4a4a4a" stroke-width="1" />
<line x1="439.30" y1="524.06" x2="441.50" y2="524.06" stroke="#4a4a4a" stroke-width="1" />
<line x1="439.30" y1="544.70" x2="441.50" y2="544.70" stroke="#4a4a4a" stroke-width="1" />
<line x1="439.30" y1="565.34" x2="441.50" y2="565.34" stroke="#4a4a4a" stroke-width="1" />
<line x1="439.30" y1="585.98" x2="441.50" y2="585.98" stroke="#4a4a4a" stroke-width="1" />
<line x1="439.30" y1="606.62" x2="441.50" y2="606.62" stroke="#4a4a4a" stroke-width="1" />
<line x1="439.30" y1="627.26" x2="441.50" y2="627.26" stroke="#4a4a4a" stroke-width="1" />
<line x1="439.30" y1="647.90" x2="441.50" y2="647.90" stroke="#4a4a4a" stroke-width="1" />
<line x1="439.30" y1="668.54" x2="441.50" y2="668.54" stroke="#4a4a4a" stroke-width="1" />
<line x1="439.30" y1="689.18" x2="441.50" y2="689.18" stroke="#4a4a4a" stroke-width="1" />
<line x1="439.30" y1="709.82" x2="441.50" y2="709.82" stroke="#4a4a4a" stroke-width="1" />
<line x1="439.30" y1="730.46" x2="441.50" y2="730.46" stroke="#4a4a4a" stroke-width="1" />
<line x1="439.30" y1="751.10" x2="441.50" y2="751.10" stroke="#4a4a4a" stroke-width="1" />
<line x1="452.40" y1="772.20" x2="452.40" y2="774.40" stroke="#4a4a4a" stroke-width="1" />
<line x1="463.45" y1="772.20" x2="463.45" y2="774.40" stroke="#4a4a4a" stroke-width="1" />
<line x1="474.50" y1="772.20" x2="474.50" y2="774.40" stroke="#4a4a4a" stroke-width="1" />
<line x1="485.55" y1="772.20" x2="485.55" y2="774.40" stroke="#4a4a4a" stroke-width="1" />
<line x1="496.60" y1="772.20" x2="496.60" y2="774.40" stroke="#4a4a4a" stroke-width="1" />
<line x1="507.65" y1="772.20" x2="507.65" y2="774.40" stroke="#4a4a4a" stroke-width="1" />
<line x1="518.70" y1="772.20" x2="518.70" y2="774.40" stroke="#4a4a4a" stroke-width="1" />
<line x1="529.75" y1="772.20" x2="529.75" y2="774.40" stroke="#4a4a4a" stroke-width="1" />
<line x1="540.80" y1="772.20" x2="540.80" y2="774.40" stroke="#4a4a4a" stroke-width="1" />
<line x1="551.85" y1="772.20" x2="551.85" y2="774.40" stroke="#4a4a4a" stroke-width="1" />
<line x1="562.90" y1="772.20" x2="562.90" y2="774.40" stroke="#4a4a4a" stroke-width="1" />
<line x1="573.95" y1="772.20" x2="573.95" y2="774.40" stroke="#4a4a4a" stroke-width="1" />
<line x1="585.00" y1="772.20" x2="585.00" y2="774.40" stroke="#4a4a4a" stroke-width="1" />
<line x1="596.05" y1="772.20" x2="596.05" y2="774.40" stroke="#4a4a4a" stroke-width="1" />
<line x1="607.10" y1="772.20" x2="607.10" y2="774.40" stroke="#4a4a4a" stroke-width="1" />
<line x1="618.15" y1="772.20" x2="618.15" y2="774.40" stroke="#4a4a4a" stroke-width="1" />
<line x1="629.20" y1="772.20" x2="629.20" y2="774.40" stroke="#4a4a4a" stroke-width="1" />
<line x1="640.25" y1="772.20" x2="640.25" y2="774.40" stroke="#4a4a4a" stroke-width="1" />
<line x1="651.30" y1="772.20" x2="651.30" y2="774.40" stroke="#4a4a4a" stroke-width="1" />
<line x1="662.35" y1="772.20" x2="662.35" y2="774.40" stroke="#4a4a4a" stroke-width="1" />
<line x1="673.40" y1="772.20" x2="673.40" y2="774.40" stroke="#4a4a4a" stroke-width="1" />
<text x="407.10" y="339.00" font-size="8.6" text-anchor="middle" font-weight="bold" font-style="italic" fill="#222" letter-spacing="0.37">A. cerevisiae|</text>
<text x="407.10" y="345.80" font-size="8.6" text-anchor="middle" font-weight="bold" font-style="italic" fill="#222" letter-spacing="0.37">malorum</text>
<text x="439.60" y="361.54" font-size="8.6" text-anchor="end" font-weight="bold" font-style="italic" fill="#222" letter-spacing="0.37">P. parvulus</text>
<text x="439.60" y="382.18" font-size="8.6" text-anchor="end" font-weight="bold" font-style="italic" fill="#222" letter-spacing="0.37">L. brevis</text>
<text x="438.00" y="402.22" font-size="8.2" text-anchor="end" font-weight="normal" font-style="normal" fill="#262626" letter-spacing="0.4">Temperature</text>
<text x="438.00" y="422.86" font-size="8.2" text-anchor="end" font-weight="normal" font-style="normal" fill="#262626" letter-spacing="0.4">pH</text>
<text x="438.00" y="443.50" font-size="8.2" text-anchor="end" font-weight="normal" font-style="normal" fill="#262626" letter-spacing="0.4">Day</text>
<text x="438.00" y="464.14" font-size="8.2" text-anchor="end" font-weight="normal" font-style="normal" fill="#262626" letter-spacing="0.4">Acetic acid</text>
<text x="438.00" y="484.78" font-size="8.2" text-anchor="end" font-weight="normal" font-style="normal" fill="#262626" letter-spacing="0.4">TTA</text>
<text x="438.00" y="505.42" font-size="8.2" text-anchor="end" font-weight="normal" font-style="normal" fill="#262626" letter-spacing="0.4">Fructose</text>
<text x="438.00" y="526.06" font-size="8.2" text-anchor="end" font-weight="normal" font-style="normal" fill="#262626" letter-spacing="0.4">Sucrose</text>
<text x="438.00" y="546.70" font-size="8.2" text-anchor="end" font-weight="normal" font-style="normal" fill="#262626" letter-spacing="0.4">Glucose</text>
<text x="438.00" y="567.34" font-size="8.2" text-anchor="end" font-weight="normal" font-style="normal" fill="#262626" letter-spacing="0.4">Maltose</text>
<text x="439.60" y="588.58" font-size="8.6" text-anchor="end" font-weight="bold" font-style="italic" fill="#222" letter-spacing="0.37">F. sanfranciscensis</text>
<text x="438.00" y="608.62" font-size="8.2" text-anchor="end" font-weight="normal" font-style="normal" fill="#262626" letter-spacing="0.4">Yeast log(CFUs)</text>
<text x="438.00" y="629.26" font-size="8.2" text-anchor="end" font-weight="normal" font-style="normal" fill="#262626" letter-spacing="0.4">LAB log(CFUs)</text>
<text x="439.60" y="650.50" font-size="8.6" text-anchor="end" font-weight="bold" font-style="italic" fill="#222" letter-spacing="0.37">F. rossiae&#160;</text>
<text x="438.00" y="670.54" font-size="8.2" text-anchor="end" font-weight="normal" font-style="normal" fill="#262626" letter-spacing="0.4">DNA yield</text>
<text x="438.00" y="691.18" font-size="8.2" text-anchor="end" font-weight="normal" font-style="normal" fill="#262626" letter-spacing="0.4">Succinic acid</text>
<text x="438.00" y="711.82" font-size="8.2" text-anchor="end" font-weight="normal" font-style="normal" fill="#262626" letter-spacing="0.4">Mannitol</text>
<text x="438.00" y="732.46" font-size="8.2" text-anchor="end" font-weight="normal" font-style="normal" fill="#262626" letter-spacing="0.4">Lactic acid</text>
<text x="438.00" y="753.10" font-size="8.2" text-anchor="end" font-weight="normal" font-style="normal" fill="#262626" letter-spacing="0.4">Ethanol</text>
<g transform="translate(427.6,795.6) rotate(-45)">
<text x="0.00" y="3.00" font-size="8.6" text-anchor="middle" font-weight="bold" font-style="italic" fill="#222" letter-spacing="0.37">A. cerevisiae|</text>
<text x="0.00" y="9.30" font-size="8.6" text-anchor="middle" font-weight="bold" font-style="italic" fill="#222" letter-spacing="0.37">malorum</text>
</g>
<text x="0" y="0" font-size="8.6" text-anchor="end" font-weight="bold" font-style="italic" fill="#222" letter-spacing="0.37" transform="translate(469.05,780.00) rotate(-45)">P. parvulus</text>
<text x="0" y="0" font-size="8.6" text-anchor="end" font-weight="bold" font-style="italic" fill="#222" letter-spacing="0.37" transform="translate(480.10,780.00) rotate(-45)">L. brevis</text>
<text x="0" y="0" font-size="8.2" letter-spacing="0.4" text-anchor="end" fill="#262626" transform="translate(491.15,780.00) rotate(-45)">Temperature</text>
<text x="0" y="0" font-size="8.2" letter-spacing="0.4" text-anchor="end" fill="#262626" transform="translate(502.20,780.00) rotate(-45)">pH</text>
<text x="0" y="0" font-size="8.2" letter-spacing="0.4" text-anchor="end" fill="#262626" transform="translate(513.25,780.00) rotate(-45)">Day</text>
<text x="0" y="0" font-size="8.2" letter-spacing="0.4" text-anchor="end" fill="#262626" transform="translate(524.30,780.00) rotate(-45)">Acetic acid</text>
<text x="0" y="0" font-size="8.2" letter-spacing="0.4" text-anchor="end" fill="#262626" transform="translate(535.35,780.00) rotate(-45)">TTA</text>
<text x="0" y="0" font-size="8.2" letter-spacing="0.4" text-anchor="end" fill="#262626" transform="translate(546.40,780.00) rotate(-45)">Fructose</text>
<text x="0" y="0" font-size="8.2" letter-spacing="0.4" text-anchor="end" fill="#262626" transform="translate(557.45,780.00) rotate(-45)">Sucrose</text>
<text x="0" y="0" font-size="8.2" letter-spacing="0.4" text-anchor="end" fill="#262626" transform="translate(568.50,780.00) rotate(-45)">Glucose</text>
<text x="0" y="0" font-size="8.2" letter-spacing="0.4" text-anchor="end" fill="#262626" transform="translate(579.55,780.00) rotate(-45)">Maltose</text>
<text x="0" y="0" font-size="8.6" text-anchor="end" font-weight="bold" font-style="italic" fill="#222" letter-spacing="0.37" transform="translate(590.60,780.00) rotate(-45)">F. sanfranciscensis</text>
<text x="0" y="0" font-size="8.2" letter-spacing="0.4" text-anchor="end" fill="#262626" transform="translate(601.65,780.00) rotate(-45)">Yeast log(CFUs)</text>
<text x="0" y="0" font-size="8.2" letter-spacing="0.4" text-anchor="end" fill="#262626" transform="translate(612.70,780.00) rotate(-45)">LAB log(CFUs)</text>
<text x="0" y="0" font-size="8.6" text-anchor="end" font-weight="bold" font-style="italic" fill="#222" letter-spacing="0.37" transform="translate(623.75,780.00) rotate(-45)">F. rossiae&#160;</text>
<text x="0" y="0" font-size="8.2" letter-spacing="0.4" text-anchor="end" fill="#262626" transform="translate(634.80,780.00) rotate(-45)">DNA yield</text>
<text x="0" y="0" font-size="8.2" letter-spacing="0.4" text-anchor="end" fill="#262626" transform="translate(645.85,780.00) rotate(-45)">Succinic acid</text>
<text x="0" y="0" font-size="8.2" letter-spacing="0.4" text-anchor="end" fill="#262626" transform="translate(656.90,780.00) rotate(-45)">Mannitol</text>
<text x="0" y="0" font-size="8.2" letter-spacing="0.4" text-anchor="end" fill="#262626" transform="translate(667.95,780.00) rotate(-45)">Lactic acid</text>
<text x="0" y="0" font-size="8.2" letter-spacing="0.4" text-anchor="end" fill="#262626" transform="translate(679.00,780.00) rotate(-45)">Ethanol</text>
<rect x="322.3" y="760.4" width="80.3" height="73.9" fill="#fff" stroke="#d8d8d8" stroke-width="0.8"/>
<circle cx="334.2" cy="768.20" r="0.80" fill="#222"/>
<text x="344.40" y="771.10" font-size="8.0" text-anchor="start" font-weight="normal" font-style="normal" fill="#222" letter-spacing="1.25" xml:space="preserve">lrl =0.02</text>
<circle cx="334.2" cy="777.40" r="2.30" fill="#222"/>
<text x="344.40" y="780.30" font-size="8.0" text-anchor="start" font-weight="normal" font-style="normal" fill="#222" letter-spacing="1.25" xml:space="preserve">lrl =0.10</text>
<circle cx="334.2" cy="786.10" r="4.30" fill="#222"/>
<text x="344.40" y="789.00" font-size="8.0" text-anchor="start" font-weight="normal" font-style="normal" fill="#222" letter-spacing="1.25" xml:space="preserve">lrl =0.40</text>
<circle cx="334.2" cy="794.70" r="3.80" fill="#AAAAAA"/>
<text x="344.40" y="797.60" font-size="8.0" text-anchor="start" font-weight="normal" font-style="normal" fill="#222" letter-spacing="0.75" xml:space="preserve">p&gt;0.05</text>
<circle cx="334.2" cy="802.90" r="3.80" fill="#111"/>
<text x="344.40" y="805.80" font-size="8.0" text-anchor="start" font-weight="normal" font-style="normal" fill="#222" letter-spacing="0.75" xml:space="preserve">p&lt;0.05</text>
<circle cx="334.2" cy="811.70" r="3.20" fill="#111" stroke="#00EBFF" stroke-width="1.2"/>
<text x="344.40" y="814.60" font-size="8.0" text-anchor="start" font-weight="normal" font-style="normal" fill="#222" letter-spacing="0.75" xml:space="preserve">p-FDR&lt;0.05</text>
<circle cx="334.2" cy="820.30" r="3.80" fill="#C86DD7"/>
<text x="344.40" y="823.20" font-size="8.0" text-anchor="start" font-weight="normal" font-style="normal" fill="#222" letter-spacing="0.75" xml:space="preserve">+ cor.</text>
<circle cx="334.2" cy="828.80" r="3.80" fill="#34508A"/>
<text x="344.40" y="831.70" font-size="8.0" text-anchor="start" font-weight="normal" font-style="normal" fill="#222" letter-spacing="0.75" xml:space="preserve"> - cor.</text>
</svg></body></html>
